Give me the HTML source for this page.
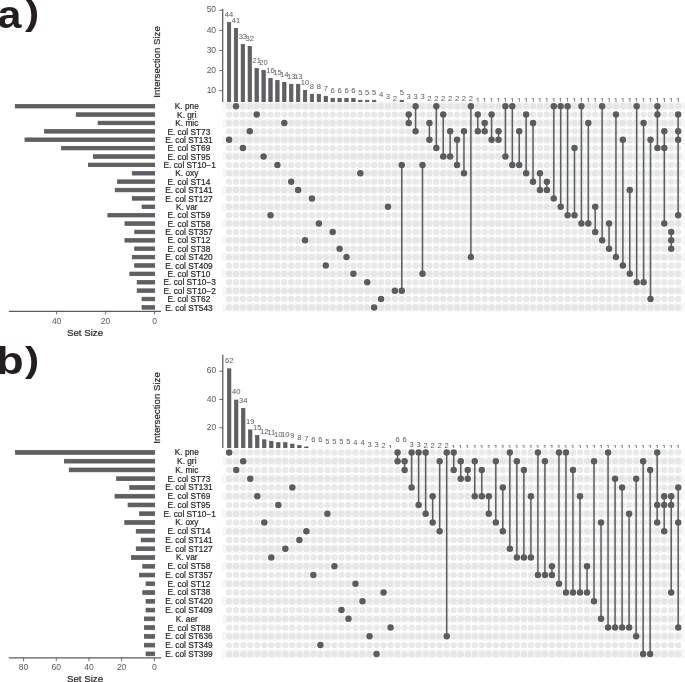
<!DOCTYPE html>
<html lang="en"><head><meta charset="utf-8"><title>UpSet plots</title>
<style>html,body{margin:0;padding:0;background:#fff}svg{display:block}text{font-family:"Liberation Sans",sans-serif}</style>
</head><body>
<svg width="685" height="682" viewBox="0 0 685 682">
<rect width="685" height="682" fill="#fff"/>
<g id="panel-a">
<g fill="#5f6062" stroke="#535457" stroke-width="0.7">
<rect x="227.35" y="22.44" width="3.4" height="87.81"/>
<rect x="234.26" y="28.43" width="3.4" height="81.82"/>
<rect x="241.17" y="44.4" width="3.4" height="65.85"/>
<rect x="248.08" y="46.39" width="3.4" height="63.86"/>
<rect x="254.99" y="68.34" width="3.4" height="41.91"/>
<rect x="261.9" y="70.34" width="3.4" height="39.91"/>
<rect x="268.8" y="78.32" width="3.4" height="31.93"/>
<rect x="275.71" y="80.32" width="3.4" height="29.93"/>
<rect x="282.62" y="82.31" width="3.4" height="27.94"/>
<rect x="289.53" y="84.31" width="3.4" height="25.94"/>
<rect x="296.44" y="84.31" width="3.4" height="25.94"/>
<rect x="303.35" y="90.29" width="3.4" height="19.96"/>
<rect x="310.26" y="94.29" width="3.4" height="15.96"/>
<rect x="317.17" y="94.29" width="3.4" height="15.96"/>
<rect x="324.08" y="96.28" width="3.4" height="13.97"/>
<rect x="330.99" y="98.28" width="3.4" height="11.97"/>
<rect x="337.89" y="98.28" width="3.4" height="11.97"/>
<rect x="344.8" y="98.28" width="3.4" height="11.97"/>
<rect x="351.71" y="98.28" width="3.4" height="11.97"/>
<rect x="358.62" y="100.27" width="3.4" height="9.98"/>
<rect x="365.53" y="100.27" width="3.4" height="9.98"/>
<rect x="372.44" y="100.27" width="3.4" height="9.98"/>
<rect x="379.35" y="102.27" width="3.4" height="7.98"/>
<rect x="386.26" y="104.26" width="3.4" height="5.99"/>
<rect x="393.17" y="106.26" width="3.4" height="3.99"/>
<rect x="400.07" y="100.27" width="3.4" height="9.98"/>
<rect x="406.98" y="104.26" width="3.4" height="5.99"/>
<rect x="413.89" y="104.26" width="3.4" height="5.99"/>
<rect x="420.8" y="104.26" width="3.4" height="5.99"/>
<rect x="427.71" y="106.26" width="3.4" height="3.99"/>
<rect x="434.62" y="106.26" width="3.4" height="3.99"/>
<rect x="441.53" y="106.26" width="3.4" height="3.99"/>
<rect x="448.44" y="106.26" width="3.4" height="3.99"/>
<rect x="455.35" y="106.26" width="3.4" height="3.99"/>
<rect x="462.26" y="106.26" width="3.4" height="3.99"/>
<rect x="469.17" y="106.26" width="3.4" height="3.99"/>
<rect x="476.07" y="108.25" width="3.4" height="2"/>
<rect x="482.98" y="108.25" width="3.4" height="2"/>
<rect x="489.89" y="108.25" width="3.4" height="2"/>
<rect x="496.8" y="108.25" width="3.4" height="2"/>
<rect x="503.71" y="108.25" width="3.4" height="2"/>
<rect x="510.62" y="108.25" width="3.4" height="2"/>
<rect x="517.53" y="108.25" width="3.4" height="2"/>
<rect x="524.44" y="108.25" width="3.4" height="2"/>
<rect x="531.35" y="108.25" width="3.4" height="2"/>
<rect x="538.25" y="108.25" width="3.4" height="2"/>
<rect x="545.16" y="108.25" width="3.4" height="2"/>
<rect x="552.07" y="108.25" width="3.4" height="2"/>
<rect x="558.98" y="108.25" width="3.4" height="2"/>
<rect x="565.89" y="108.25" width="3.4" height="2"/>
<rect x="572.8" y="108.25" width="3.4" height="2"/>
<rect x="579.71" y="108.25" width="3.4" height="2"/>
<rect x="586.62" y="108.25" width="3.4" height="2"/>
<rect x="593.53" y="108.25" width="3.4" height="2"/>
<rect x="600.44" y="108.25" width="3.4" height="2"/>
<rect x="607.35" y="108.25" width="3.4" height="2"/>
<rect x="614.25" y="108.25" width="3.4" height="2"/>
<rect x="621.16" y="108.25" width="3.4" height="2"/>
<rect x="628.07" y="108.25" width="3.4" height="2"/>
<rect x="634.98" y="108.25" width="3.4" height="2"/>
<rect x="641.89" y="108.25" width="3.4" height="2"/>
<rect x="648.8" y="108.25" width="3.4" height="2"/>
<rect x="655.71" y="108.25" width="3.4" height="2"/>
<rect x="662.62" y="108.25" width="3.4" height="2"/>
<rect x="669.53" y="108.25" width="3.4" height="2"/>
<rect x="676.44" y="108.25" width="3.4" height="2"/>
</g>
<g font-size="7.6" fill="#58595b" text-anchor="middle">
<text x="229.05" y="17.21">44</text>
<text x="235.96" y="23.22">41</text>
<text x="242.87" y="39.26">33</text>
<text x="249.78" y="41.26">32</text>
<text x="256.69" y="63.31">21</text>
<text x="263.6" y="65.31">20</text>
<text x="270.5" y="73.33">16</text>
<text x="277.41" y="75.34">15</text>
<text x="284.32" y="77.34">14</text>
<text x="291.23" y="79.34">13</text>
<text x="298.14" y="79.34">13</text>
<text x="305.05" y="85.36">10</text>
<text x="311.96" y="89.37">8</text>
<text x="318.87" y="89.37">8</text>
<text x="325.78" y="91.37">7</text>
<text x="332.69" y="93.37">6</text>
<text x="339.59" y="93.37">6</text>
<text x="346.5" y="93.37">6</text>
<text x="353.41" y="93.37">6</text>
<text x="360.32" y="95.38">5</text>
<text x="367.23" y="95.38">5</text>
<text x="374.14" y="95.38">5</text>
<text x="381.05" y="97.38">4</text>
<text x="387.96" y="99.39">3</text>
<text x="394.87" y="101.39">2</text>
<text x="401.77" y="95.38">5</text>
<text x="408.68" y="99.39">3</text>
<text x="415.59" y="99.39">3</text>
<text x="422.5" y="99.39">3</text>
<text x="429.41" y="101.39">2</text>
<text x="436.32" y="101.39">2</text>
<text x="443.23" y="101.39">2</text>
<text x="450.14" y="101.39">2</text>
<text x="457.05" y="101.39">2</text>
<text x="463.96" y="101.39">2</text>
<text x="470.87" y="101.39">2</text>
<text x="477.77" y="102.95">1</text>
<text x="484.68" y="102.95">1</text>
<text x="491.59" y="102.95">1</text>
<text x="498.5" y="102.95">1</text>
<text x="505.41" y="102.95">1</text>
<text x="512.32" y="102.95">1</text>
<text x="519.23" y="102.95">1</text>
<text x="526.14" y="102.95">1</text>
<text x="533.05" y="102.95">1</text>
<text x="539.95" y="102.95">1</text>
<text x="546.86" y="102.95">1</text>
<text x="553.77" y="102.95">1</text>
<text x="560.68" y="102.95">1</text>
<text x="567.59" y="102.95">1</text>
<text x="574.5" y="102.95">1</text>
<text x="581.41" y="102.95">1</text>
<text x="588.32" y="102.95">1</text>
<text x="595.23" y="102.95">1</text>
<text x="602.14" y="102.95">1</text>
<text x="609.05" y="102.95">1</text>
<text x="615.95" y="102.95">1</text>
<text x="622.86" y="102.95">1</text>
<text x="629.77" y="102.95">1</text>
<text x="636.68" y="102.95">1</text>
<text x="643.59" y="102.95">1</text>
<text x="650.5" y="102.95">1</text>
<text x="657.41" y="102.95">1</text>
<text x="664.32" y="102.95">1</text>
<text x="671.23" y="102.95">1</text>
<text x="678.13" y="102.95">1</text>
</g>
<line x1="222.7" y1="8.8" x2="222.7" y2="102.01" stroke="#5b5c5e" stroke-width="1.25"/>
<g stroke="#5b5c5e" stroke-width="0.9">
<line x1="219.2" y1="90.7" x2="222.7" y2="90.7"/>
<line x1="219.2" y1="70.6" x2="222.7" y2="70.6"/>
<line x1="219.2" y1="50.5" x2="222.7" y2="50.5"/>
<line x1="219.2" y1="30.4" x2="222.7" y2="30.4"/>
<line x1="219.2" y1="10.3" x2="222.7" y2="10.3"/>
</g>
<g font-size="8.5" fill="#58595b" text-anchor="end">
<text x="216.1" y="92.8">10</text>
<text x="216.1" y="72.7">20</text>
<text x="216.1" y="52.6">30</text>
<text x="216.1" y="32.5">40</text>
<text x="216.1" y="12.4">50</text>
</g>
<rect x="222" y="102.01" width="463" height="209.58" fill="#fff"/>
<g fill="#f7f7f7">
<rect x="222" y="102.01" width="463" height="8.38"/>
<rect x="222" y="118.77" width="463" height="8.38"/>
<rect x="222" y="135.54" width="463" height="8.38"/>
<rect x="222" y="152.31" width="463" height="8.38"/>
<rect x="222" y="169.07" width="463" height="8.38"/>
<rect x="222" y="185.84" width="463" height="8.38"/>
<rect x="222" y="202.6" width="463" height="8.38"/>
<rect x="222" y="219.37" width="463" height="8.38"/>
<rect x="222" y="236.14" width="463" height="8.38"/>
<rect x="222" y="252.9" width="463" height="8.38"/>
<rect x="222" y="269.67" width="463" height="8.38"/>
<rect x="222" y="286.43" width="463" height="8.38"/>
<rect x="222" y="303.2" width="463" height="8.38"/>
</g>
<g fill="#e6e6e7">
<circle cx="229.05" cy="106.2" r="3.2"/>
<circle cx="242.87" cy="106.2" r="3.2"/>
<circle cx="249.78" cy="106.2" r="3.2"/>
<circle cx="256.69" cy="106.2" r="3.2"/>
<circle cx="263.6" cy="106.2" r="3.2"/>
<circle cx="270.5" cy="106.2" r="3.2"/>
<circle cx="277.41" cy="106.2" r="3.2"/>
<circle cx="284.32" cy="106.2" r="3.2"/>
<circle cx="291.23" cy="106.2" r="3.2"/>
<circle cx="298.14" cy="106.2" r="3.2"/>
<circle cx="305.05" cy="106.2" r="3.2"/>
<circle cx="311.96" cy="106.2" r="3.2"/>
<circle cx="318.87" cy="106.2" r="3.2"/>
<circle cx="325.78" cy="106.2" r="3.2"/>
<circle cx="332.69" cy="106.2" r="3.2"/>
<circle cx="339.59" cy="106.2" r="3.2"/>
<circle cx="346.5" cy="106.2" r="3.2"/>
<circle cx="353.41" cy="106.2" r="3.2"/>
<circle cx="360.32" cy="106.2" r="3.2"/>
<circle cx="367.23" cy="106.2" r="3.2"/>
<circle cx="374.14" cy="106.2" r="3.2"/>
<circle cx="381.05" cy="106.2" r="3.2"/>
<circle cx="387.96" cy="106.2" r="3.2"/>
<circle cx="394.87" cy="106.2" r="3.2"/>
<circle cx="401.77" cy="106.2" r="3.2"/>
<circle cx="408.68" cy="106.2" r="3.2"/>
<circle cx="422.5" cy="106.2" r="3.2"/>
<circle cx="429.41" cy="106.2" r="3.2"/>
<circle cx="443.23" cy="106.2" r="3.2"/>
<circle cx="450.14" cy="106.2" r="3.2"/>
<circle cx="457.05" cy="106.2" r="3.2"/>
<circle cx="463.96" cy="106.2" r="3.2"/>
<circle cx="477.77" cy="106.2" r="3.2"/>
<circle cx="484.68" cy="106.2" r="3.2"/>
<circle cx="491.59" cy="106.2" r="3.2"/>
<circle cx="498.5" cy="106.2" r="3.2"/>
<circle cx="519.23" cy="106.2" r="3.2"/>
<circle cx="526.14" cy="106.2" r="3.2"/>
<circle cx="533.05" cy="106.2" r="3.2"/>
<circle cx="539.95" cy="106.2" r="3.2"/>
<circle cx="546.86" cy="106.2" r="3.2"/>
<circle cx="574.5" cy="106.2" r="3.2"/>
<circle cx="588.32" cy="106.2" r="3.2"/>
<circle cx="595.23" cy="106.2" r="3.2"/>
<circle cx="609.05" cy="106.2" r="3.2"/>
<circle cx="615.95" cy="106.2" r="3.2"/>
<circle cx="622.86" cy="106.2" r="3.2"/>
<circle cx="629.77" cy="106.2" r="3.2"/>
<circle cx="643.59" cy="106.2" r="3.2"/>
<circle cx="650.5" cy="106.2" r="3.2"/>
<circle cx="664.32" cy="106.2" r="3.2"/>
<circle cx="671.23" cy="106.2" r="3.2"/>
<circle cx="678.13" cy="106.2" r="3.2"/>
</g>
<g fill="#e8e9ea">
<circle cx="229.05" cy="114.58" r="3.2"/>
<circle cx="235.96" cy="114.58" r="3.2"/>
<circle cx="242.87" cy="114.58" r="3.2"/>
<circle cx="249.78" cy="114.58" r="3.2"/>
<circle cx="263.6" cy="114.58" r="3.2"/>
<circle cx="270.5" cy="114.58" r="3.2"/>
<circle cx="277.41" cy="114.58" r="3.2"/>
<circle cx="284.32" cy="114.58" r="3.2"/>
<circle cx="291.23" cy="114.58" r="3.2"/>
<circle cx="298.14" cy="114.58" r="3.2"/>
<circle cx="305.05" cy="114.58" r="3.2"/>
<circle cx="311.96" cy="114.58" r="3.2"/>
<circle cx="318.87" cy="114.58" r="3.2"/>
<circle cx="325.78" cy="114.58" r="3.2"/>
<circle cx="332.69" cy="114.58" r="3.2"/>
<circle cx="339.59" cy="114.58" r="3.2"/>
<circle cx="346.5" cy="114.58" r="3.2"/>
<circle cx="353.41" cy="114.58" r="3.2"/>
<circle cx="360.32" cy="114.58" r="3.2"/>
<circle cx="367.23" cy="114.58" r="3.2"/>
<circle cx="374.14" cy="114.58" r="3.2"/>
<circle cx="381.05" cy="114.58" r="3.2"/>
<circle cx="387.96" cy="114.58" r="3.2"/>
<circle cx="394.87" cy="114.58" r="3.2"/>
<circle cx="401.77" cy="114.58" r="3.2"/>
<circle cx="415.59" cy="114.58" r="3.2"/>
<circle cx="422.5" cy="114.58" r="3.2"/>
<circle cx="429.41" cy="114.58" r="3.2"/>
<circle cx="436.32" cy="114.58" r="3.2"/>
<circle cx="450.14" cy="114.58" r="3.2"/>
<circle cx="457.05" cy="114.58" r="3.2"/>
<circle cx="463.96" cy="114.58" r="3.2"/>
<circle cx="470.87" cy="114.58" r="3.2"/>
<circle cx="484.68" cy="114.58" r="3.2"/>
<circle cx="498.5" cy="114.58" r="3.2"/>
<circle cx="505.41" cy="114.58" r="3.2"/>
<circle cx="512.32" cy="114.58" r="3.2"/>
<circle cx="519.23" cy="114.58" r="3.2"/>
<circle cx="533.05" cy="114.58" r="3.2"/>
<circle cx="539.95" cy="114.58" r="3.2"/>
<circle cx="546.86" cy="114.58" r="3.2"/>
<circle cx="553.77" cy="114.58" r="3.2"/>
<circle cx="560.68" cy="114.58" r="3.2"/>
<circle cx="567.59" cy="114.58" r="3.2"/>
<circle cx="574.5" cy="114.58" r="3.2"/>
<circle cx="581.41" cy="114.58" r="3.2"/>
<circle cx="588.32" cy="114.58" r="3.2"/>
<circle cx="595.23" cy="114.58" r="3.2"/>
<circle cx="602.14" cy="114.58" r="3.2"/>
<circle cx="609.05" cy="114.58" r="3.2"/>
<circle cx="622.86" cy="114.58" r="3.2"/>
<circle cx="629.77" cy="114.58" r="3.2"/>
<circle cx="636.68" cy="114.58" r="3.2"/>
<circle cx="643.59" cy="114.58" r="3.2"/>
<circle cx="650.5" cy="114.58" r="3.2"/>
<circle cx="664.32" cy="114.58" r="3.2"/>
<circle cx="671.23" cy="114.58" r="3.2"/>
</g>
<g fill="#e6e6e7">
<circle cx="229.05" cy="122.97" r="3.2"/>
<circle cx="235.96" cy="122.97" r="3.2"/>
<circle cx="242.87" cy="122.97" r="3.2"/>
<circle cx="249.78" cy="122.97" r="3.2"/>
<circle cx="256.69" cy="122.97" r="3.2"/>
<circle cx="263.6" cy="122.97" r="3.2"/>
<circle cx="270.5" cy="122.97" r="3.2"/>
<circle cx="277.41" cy="122.97" r="3.2"/>
<circle cx="291.23" cy="122.97" r="3.2"/>
<circle cx="298.14" cy="122.97" r="3.2"/>
<circle cx="305.05" cy="122.97" r="3.2"/>
<circle cx="311.96" cy="122.97" r="3.2"/>
<circle cx="318.87" cy="122.97" r="3.2"/>
<circle cx="325.78" cy="122.97" r="3.2"/>
<circle cx="332.69" cy="122.97" r="3.2"/>
<circle cx="339.59" cy="122.97" r="3.2"/>
<circle cx="346.5" cy="122.97" r="3.2"/>
<circle cx="353.41" cy="122.97" r="3.2"/>
<circle cx="360.32" cy="122.97" r="3.2"/>
<circle cx="367.23" cy="122.97" r="3.2"/>
<circle cx="374.14" cy="122.97" r="3.2"/>
<circle cx="381.05" cy="122.97" r="3.2"/>
<circle cx="387.96" cy="122.97" r="3.2"/>
<circle cx="394.87" cy="122.97" r="3.2"/>
<circle cx="401.77" cy="122.97" r="3.2"/>
<circle cx="415.59" cy="122.97" r="3.2"/>
<circle cx="422.5" cy="122.97" r="3.2"/>
<circle cx="436.32" cy="122.97" r="3.2"/>
<circle cx="443.23" cy="122.97" r="3.2"/>
<circle cx="450.14" cy="122.97" r="3.2"/>
<circle cx="457.05" cy="122.97" r="3.2"/>
<circle cx="463.96" cy="122.97" r="3.2"/>
<circle cx="470.87" cy="122.97" r="3.2"/>
<circle cx="477.77" cy="122.97" r="3.2"/>
<circle cx="491.59" cy="122.97" r="3.2"/>
<circle cx="498.5" cy="122.97" r="3.2"/>
<circle cx="505.41" cy="122.97" r="3.2"/>
<circle cx="512.32" cy="122.97" r="3.2"/>
<circle cx="519.23" cy="122.97" r="3.2"/>
<circle cx="526.14" cy="122.97" r="3.2"/>
<circle cx="539.95" cy="122.97" r="3.2"/>
<circle cx="546.86" cy="122.97" r="3.2"/>
<circle cx="553.77" cy="122.97" r="3.2"/>
<circle cx="560.68" cy="122.97" r="3.2"/>
<circle cx="567.59" cy="122.97" r="3.2"/>
<circle cx="574.5" cy="122.97" r="3.2"/>
<circle cx="581.41" cy="122.97" r="3.2"/>
<circle cx="595.23" cy="122.97" r="3.2"/>
<circle cx="602.14" cy="122.97" r="3.2"/>
<circle cx="609.05" cy="122.97" r="3.2"/>
<circle cx="615.95" cy="122.97" r="3.2"/>
<circle cx="622.86" cy="122.97" r="3.2"/>
<circle cx="629.77" cy="122.97" r="3.2"/>
<circle cx="636.68" cy="122.97" r="3.2"/>
<circle cx="650.5" cy="122.97" r="3.2"/>
<circle cx="657.41" cy="122.97" r="3.2"/>
<circle cx="664.32" cy="122.97" r="3.2"/>
<circle cx="671.23" cy="122.97" r="3.2"/>
<circle cx="678.13" cy="122.97" r="3.2"/>
</g>
<g fill="#e8e9ea">
<circle cx="229.05" cy="131.35" r="3.2"/>
<circle cx="235.96" cy="131.35" r="3.2"/>
<circle cx="242.87" cy="131.35" r="3.2"/>
<circle cx="256.69" cy="131.35" r="3.2"/>
<circle cx="263.6" cy="131.35" r="3.2"/>
<circle cx="270.5" cy="131.35" r="3.2"/>
<circle cx="277.41" cy="131.35" r="3.2"/>
<circle cx="284.32" cy="131.35" r="3.2"/>
<circle cx="291.23" cy="131.35" r="3.2"/>
<circle cx="298.14" cy="131.35" r="3.2"/>
<circle cx="305.05" cy="131.35" r="3.2"/>
<circle cx="311.96" cy="131.35" r="3.2"/>
<circle cx="318.87" cy="131.35" r="3.2"/>
<circle cx="325.78" cy="131.35" r="3.2"/>
<circle cx="332.69" cy="131.35" r="3.2"/>
<circle cx="339.59" cy="131.35" r="3.2"/>
<circle cx="346.5" cy="131.35" r="3.2"/>
<circle cx="353.41" cy="131.35" r="3.2"/>
<circle cx="360.32" cy="131.35" r="3.2"/>
<circle cx="367.23" cy="131.35" r="3.2"/>
<circle cx="374.14" cy="131.35" r="3.2"/>
<circle cx="381.05" cy="131.35" r="3.2"/>
<circle cx="387.96" cy="131.35" r="3.2"/>
<circle cx="394.87" cy="131.35" r="3.2"/>
<circle cx="401.77" cy="131.35" r="3.2"/>
<circle cx="408.68" cy="131.35" r="3.2"/>
<circle cx="422.5" cy="131.35" r="3.2"/>
<circle cx="429.41" cy="131.35" r="3.2"/>
<circle cx="436.32" cy="131.35" r="3.2"/>
<circle cx="443.23" cy="131.35" r="3.2"/>
<circle cx="457.05" cy="131.35" r="3.2"/>
<circle cx="470.87" cy="131.35" r="3.2"/>
<circle cx="491.59" cy="131.35" r="3.2"/>
<circle cx="505.41" cy="131.35" r="3.2"/>
<circle cx="512.32" cy="131.35" r="3.2"/>
<circle cx="526.14" cy="131.35" r="3.2"/>
<circle cx="533.05" cy="131.35" r="3.2"/>
<circle cx="539.95" cy="131.35" r="3.2"/>
<circle cx="546.86" cy="131.35" r="3.2"/>
<circle cx="553.77" cy="131.35" r="3.2"/>
<circle cx="560.68" cy="131.35" r="3.2"/>
<circle cx="567.59" cy="131.35" r="3.2"/>
<circle cx="574.5" cy="131.35" r="3.2"/>
<circle cx="581.41" cy="131.35" r="3.2"/>
<circle cx="588.32" cy="131.35" r="3.2"/>
<circle cx="595.23" cy="131.35" r="3.2"/>
<circle cx="602.14" cy="131.35" r="3.2"/>
<circle cx="609.05" cy="131.35" r="3.2"/>
<circle cx="615.95" cy="131.35" r="3.2"/>
<circle cx="622.86" cy="131.35" r="3.2"/>
<circle cx="629.77" cy="131.35" r="3.2"/>
<circle cx="636.68" cy="131.35" r="3.2"/>
<circle cx="643.59" cy="131.35" r="3.2"/>
<circle cx="650.5" cy="131.35" r="3.2"/>
<circle cx="657.41" cy="131.35" r="3.2"/>
<circle cx="671.23" cy="131.35" r="3.2"/>
</g>
<g fill="#e6e6e7">
<circle cx="235.96" cy="139.73" r="3.2"/>
<circle cx="242.87" cy="139.73" r="3.2"/>
<circle cx="249.78" cy="139.73" r="3.2"/>
<circle cx="256.69" cy="139.73" r="3.2"/>
<circle cx="263.6" cy="139.73" r="3.2"/>
<circle cx="270.5" cy="139.73" r="3.2"/>
<circle cx="277.41" cy="139.73" r="3.2"/>
<circle cx="284.32" cy="139.73" r="3.2"/>
<circle cx="291.23" cy="139.73" r="3.2"/>
<circle cx="298.14" cy="139.73" r="3.2"/>
<circle cx="305.05" cy="139.73" r="3.2"/>
<circle cx="311.96" cy="139.73" r="3.2"/>
<circle cx="318.87" cy="139.73" r="3.2"/>
<circle cx="325.78" cy="139.73" r="3.2"/>
<circle cx="332.69" cy="139.73" r="3.2"/>
<circle cx="339.59" cy="139.73" r="3.2"/>
<circle cx="346.5" cy="139.73" r="3.2"/>
<circle cx="353.41" cy="139.73" r="3.2"/>
<circle cx="360.32" cy="139.73" r="3.2"/>
<circle cx="367.23" cy="139.73" r="3.2"/>
<circle cx="374.14" cy="139.73" r="3.2"/>
<circle cx="381.05" cy="139.73" r="3.2"/>
<circle cx="387.96" cy="139.73" r="3.2"/>
<circle cx="394.87" cy="139.73" r="3.2"/>
<circle cx="401.77" cy="139.73" r="3.2"/>
<circle cx="408.68" cy="139.73" r="3.2"/>
<circle cx="415.59" cy="139.73" r="3.2"/>
<circle cx="422.5" cy="139.73" r="3.2"/>
<circle cx="436.32" cy="139.73" r="3.2"/>
<circle cx="443.23" cy="139.73" r="3.2"/>
<circle cx="450.14" cy="139.73" r="3.2"/>
<circle cx="463.96" cy="139.73" r="3.2"/>
<circle cx="470.87" cy="139.73" r="3.2"/>
<circle cx="477.77" cy="139.73" r="3.2"/>
<circle cx="484.68" cy="139.73" r="3.2"/>
<circle cx="505.41" cy="139.73" r="3.2"/>
<circle cx="512.32" cy="139.73" r="3.2"/>
<circle cx="519.23" cy="139.73" r="3.2"/>
<circle cx="526.14" cy="139.73" r="3.2"/>
<circle cx="533.05" cy="139.73" r="3.2"/>
<circle cx="539.95" cy="139.73" r="3.2"/>
<circle cx="546.86" cy="139.73" r="3.2"/>
<circle cx="553.77" cy="139.73" r="3.2"/>
<circle cx="560.68" cy="139.73" r="3.2"/>
<circle cx="567.59" cy="139.73" r="3.2"/>
<circle cx="574.5" cy="139.73" r="3.2"/>
<circle cx="581.41" cy="139.73" r="3.2"/>
<circle cx="588.32" cy="139.73" r="3.2"/>
<circle cx="595.23" cy="139.73" r="3.2"/>
<circle cx="602.14" cy="139.73" r="3.2"/>
<circle cx="609.05" cy="139.73" r="3.2"/>
<circle cx="615.95" cy="139.73" r="3.2"/>
<circle cx="629.77" cy="139.73" r="3.2"/>
<circle cx="636.68" cy="139.73" r="3.2"/>
<circle cx="643.59" cy="139.73" r="3.2"/>
<circle cx="657.41" cy="139.73" r="3.2"/>
<circle cx="664.32" cy="139.73" r="3.2"/>
<circle cx="671.23" cy="139.73" r="3.2"/>
</g>
<g fill="#e8e9ea">
<circle cx="229.05" cy="148.12" r="3.2"/>
<circle cx="235.96" cy="148.12" r="3.2"/>
<circle cx="249.78" cy="148.12" r="3.2"/>
<circle cx="256.69" cy="148.12" r="3.2"/>
<circle cx="263.6" cy="148.12" r="3.2"/>
<circle cx="270.5" cy="148.12" r="3.2"/>
<circle cx="277.41" cy="148.12" r="3.2"/>
<circle cx="284.32" cy="148.12" r="3.2"/>
<circle cx="291.23" cy="148.12" r="3.2"/>
<circle cx="298.14" cy="148.12" r="3.2"/>
<circle cx="305.05" cy="148.12" r="3.2"/>
<circle cx="311.96" cy="148.12" r="3.2"/>
<circle cx="318.87" cy="148.12" r="3.2"/>
<circle cx="325.78" cy="148.12" r="3.2"/>
<circle cx="332.69" cy="148.12" r="3.2"/>
<circle cx="339.59" cy="148.12" r="3.2"/>
<circle cx="346.5" cy="148.12" r="3.2"/>
<circle cx="353.41" cy="148.12" r="3.2"/>
<circle cx="360.32" cy="148.12" r="3.2"/>
<circle cx="367.23" cy="148.12" r="3.2"/>
<circle cx="374.14" cy="148.12" r="3.2"/>
<circle cx="381.05" cy="148.12" r="3.2"/>
<circle cx="387.96" cy="148.12" r="3.2"/>
<circle cx="394.87" cy="148.12" r="3.2"/>
<circle cx="401.77" cy="148.12" r="3.2"/>
<circle cx="408.68" cy="148.12" r="3.2"/>
<circle cx="415.59" cy="148.12" r="3.2"/>
<circle cx="422.5" cy="148.12" r="3.2"/>
<circle cx="429.41" cy="148.12" r="3.2"/>
<circle cx="443.23" cy="148.12" r="3.2"/>
<circle cx="450.14" cy="148.12" r="3.2"/>
<circle cx="457.05" cy="148.12" r="3.2"/>
<circle cx="463.96" cy="148.12" r="3.2"/>
<circle cx="470.87" cy="148.12" r="3.2"/>
<circle cx="477.77" cy="148.12" r="3.2"/>
<circle cx="484.68" cy="148.12" r="3.2"/>
<circle cx="491.59" cy="148.12" r="3.2"/>
<circle cx="498.5" cy="148.12" r="3.2"/>
<circle cx="505.41" cy="148.12" r="3.2"/>
<circle cx="512.32" cy="148.12" r="3.2"/>
<circle cx="519.23" cy="148.12" r="3.2"/>
<circle cx="526.14" cy="148.12" r="3.2"/>
<circle cx="533.05" cy="148.12" r="3.2"/>
<circle cx="539.95" cy="148.12" r="3.2"/>
<circle cx="546.86" cy="148.12" r="3.2"/>
<circle cx="553.77" cy="148.12" r="3.2"/>
<circle cx="560.68" cy="148.12" r="3.2"/>
<circle cx="567.59" cy="148.12" r="3.2"/>
<circle cx="581.41" cy="148.12" r="3.2"/>
<circle cx="588.32" cy="148.12" r="3.2"/>
<circle cx="595.23" cy="148.12" r="3.2"/>
<circle cx="602.14" cy="148.12" r="3.2"/>
<circle cx="609.05" cy="148.12" r="3.2"/>
<circle cx="615.95" cy="148.12" r="3.2"/>
<circle cx="622.86" cy="148.12" r="3.2"/>
<circle cx="629.77" cy="148.12" r="3.2"/>
<circle cx="636.68" cy="148.12" r="3.2"/>
<circle cx="643.59" cy="148.12" r="3.2"/>
<circle cx="650.5" cy="148.12" r="3.2"/>
<circle cx="671.23" cy="148.12" r="3.2"/>
<circle cx="678.13" cy="148.12" r="3.2"/>
</g>
<g fill="#e6e6e7">
<circle cx="229.05" cy="156.5" r="3.2"/>
<circle cx="235.96" cy="156.5" r="3.2"/>
<circle cx="242.87" cy="156.5" r="3.2"/>
<circle cx="249.78" cy="156.5" r="3.2"/>
<circle cx="256.69" cy="156.5" r="3.2"/>
<circle cx="270.5" cy="156.5" r="3.2"/>
<circle cx="277.41" cy="156.5" r="3.2"/>
<circle cx="284.32" cy="156.5" r="3.2"/>
<circle cx="291.23" cy="156.5" r="3.2"/>
<circle cx="298.14" cy="156.5" r="3.2"/>
<circle cx="305.05" cy="156.5" r="3.2"/>
<circle cx="311.96" cy="156.5" r="3.2"/>
<circle cx="318.87" cy="156.5" r="3.2"/>
<circle cx="325.78" cy="156.5" r="3.2"/>
<circle cx="332.69" cy="156.5" r="3.2"/>
<circle cx="339.59" cy="156.5" r="3.2"/>
<circle cx="346.5" cy="156.5" r="3.2"/>
<circle cx="353.41" cy="156.5" r="3.2"/>
<circle cx="360.32" cy="156.5" r="3.2"/>
<circle cx="367.23" cy="156.5" r="3.2"/>
<circle cx="374.14" cy="156.5" r="3.2"/>
<circle cx="381.05" cy="156.5" r="3.2"/>
<circle cx="387.96" cy="156.5" r="3.2"/>
<circle cx="394.87" cy="156.5" r="3.2"/>
<circle cx="401.77" cy="156.5" r="3.2"/>
<circle cx="408.68" cy="156.5" r="3.2"/>
<circle cx="415.59" cy="156.5" r="3.2"/>
<circle cx="422.5" cy="156.5" r="3.2"/>
<circle cx="429.41" cy="156.5" r="3.2"/>
<circle cx="436.32" cy="156.5" r="3.2"/>
<circle cx="457.05" cy="156.5" r="3.2"/>
<circle cx="463.96" cy="156.5" r="3.2"/>
<circle cx="470.87" cy="156.5" r="3.2"/>
<circle cx="477.77" cy="156.5" r="3.2"/>
<circle cx="484.68" cy="156.5" r="3.2"/>
<circle cx="491.59" cy="156.5" r="3.2"/>
<circle cx="498.5" cy="156.5" r="3.2"/>
<circle cx="512.32" cy="156.5" r="3.2"/>
<circle cx="519.23" cy="156.5" r="3.2"/>
<circle cx="526.14" cy="156.5" r="3.2"/>
<circle cx="533.05" cy="156.5" r="3.2"/>
<circle cx="539.95" cy="156.5" r="3.2"/>
<circle cx="546.86" cy="156.5" r="3.2"/>
<circle cx="553.77" cy="156.5" r="3.2"/>
<circle cx="560.68" cy="156.5" r="3.2"/>
<circle cx="567.59" cy="156.5" r="3.2"/>
<circle cx="574.5" cy="156.5" r="3.2"/>
<circle cx="581.41" cy="156.5" r="3.2"/>
<circle cx="588.32" cy="156.5" r="3.2"/>
<circle cx="595.23" cy="156.5" r="3.2"/>
<circle cx="602.14" cy="156.5" r="3.2"/>
<circle cx="609.05" cy="156.5" r="3.2"/>
<circle cx="615.95" cy="156.5" r="3.2"/>
<circle cx="622.86" cy="156.5" r="3.2"/>
<circle cx="629.77" cy="156.5" r="3.2"/>
<circle cx="636.68" cy="156.5" r="3.2"/>
<circle cx="643.59" cy="156.5" r="3.2"/>
<circle cx="650.5" cy="156.5" r="3.2"/>
<circle cx="657.41" cy="156.5" r="3.2"/>
<circle cx="664.32" cy="156.5" r="3.2"/>
<circle cx="671.23" cy="156.5" r="3.2"/>
<circle cx="678.13" cy="156.5" r="3.2"/>
</g>
<g fill="#e8e9ea">
<circle cx="229.05" cy="164.88" r="3.2"/>
<circle cx="235.96" cy="164.88" r="3.2"/>
<circle cx="242.87" cy="164.88" r="3.2"/>
<circle cx="249.78" cy="164.88" r="3.2"/>
<circle cx="256.69" cy="164.88" r="3.2"/>
<circle cx="263.6" cy="164.88" r="3.2"/>
<circle cx="270.5" cy="164.88" r="3.2"/>
<circle cx="284.32" cy="164.88" r="3.2"/>
<circle cx="291.23" cy="164.88" r="3.2"/>
<circle cx="298.14" cy="164.88" r="3.2"/>
<circle cx="305.05" cy="164.88" r="3.2"/>
<circle cx="311.96" cy="164.88" r="3.2"/>
<circle cx="318.87" cy="164.88" r="3.2"/>
<circle cx="325.78" cy="164.88" r="3.2"/>
<circle cx="332.69" cy="164.88" r="3.2"/>
<circle cx="339.59" cy="164.88" r="3.2"/>
<circle cx="346.5" cy="164.88" r="3.2"/>
<circle cx="353.41" cy="164.88" r="3.2"/>
<circle cx="360.32" cy="164.88" r="3.2"/>
<circle cx="367.23" cy="164.88" r="3.2"/>
<circle cx="374.14" cy="164.88" r="3.2"/>
<circle cx="381.05" cy="164.88" r="3.2"/>
<circle cx="387.96" cy="164.88" r="3.2"/>
<circle cx="394.87" cy="164.88" r="3.2"/>
<circle cx="408.68" cy="164.88" r="3.2"/>
<circle cx="415.59" cy="164.88" r="3.2"/>
<circle cx="429.41" cy="164.88" r="3.2"/>
<circle cx="436.32" cy="164.88" r="3.2"/>
<circle cx="443.23" cy="164.88" r="3.2"/>
<circle cx="450.14" cy="164.88" r="3.2"/>
<circle cx="463.96" cy="164.88" r="3.2"/>
<circle cx="470.87" cy="164.88" r="3.2"/>
<circle cx="477.77" cy="164.88" r="3.2"/>
<circle cx="484.68" cy="164.88" r="3.2"/>
<circle cx="491.59" cy="164.88" r="3.2"/>
<circle cx="498.5" cy="164.88" r="3.2"/>
<circle cx="505.41" cy="164.88" r="3.2"/>
<circle cx="526.14" cy="164.88" r="3.2"/>
<circle cx="533.05" cy="164.88" r="3.2"/>
<circle cx="539.95" cy="164.88" r="3.2"/>
<circle cx="546.86" cy="164.88" r="3.2"/>
<circle cx="553.77" cy="164.88" r="3.2"/>
<circle cx="560.68" cy="164.88" r="3.2"/>
<circle cx="567.59" cy="164.88" r="3.2"/>
<circle cx="574.5" cy="164.88" r="3.2"/>
<circle cx="581.41" cy="164.88" r="3.2"/>
<circle cx="588.32" cy="164.88" r="3.2"/>
<circle cx="595.23" cy="164.88" r="3.2"/>
<circle cx="602.14" cy="164.88" r="3.2"/>
<circle cx="609.05" cy="164.88" r="3.2"/>
<circle cx="615.95" cy="164.88" r="3.2"/>
<circle cx="622.86" cy="164.88" r="3.2"/>
<circle cx="629.77" cy="164.88" r="3.2"/>
<circle cx="636.68" cy="164.88" r="3.2"/>
<circle cx="643.59" cy="164.88" r="3.2"/>
<circle cx="650.5" cy="164.88" r="3.2"/>
<circle cx="657.41" cy="164.88" r="3.2"/>
<circle cx="664.32" cy="164.88" r="3.2"/>
<circle cx="671.23" cy="164.88" r="3.2"/>
<circle cx="678.13" cy="164.88" r="3.2"/>
</g>
<g fill="#e6e6e7">
<circle cx="229.05" cy="173.26" r="3.2"/>
<circle cx="235.96" cy="173.26" r="3.2"/>
<circle cx="242.87" cy="173.26" r="3.2"/>
<circle cx="249.78" cy="173.26" r="3.2"/>
<circle cx="256.69" cy="173.26" r="3.2"/>
<circle cx="263.6" cy="173.26" r="3.2"/>
<circle cx="270.5" cy="173.26" r="3.2"/>
<circle cx="277.41" cy="173.26" r="3.2"/>
<circle cx="284.32" cy="173.26" r="3.2"/>
<circle cx="291.23" cy="173.26" r="3.2"/>
<circle cx="298.14" cy="173.26" r="3.2"/>
<circle cx="305.05" cy="173.26" r="3.2"/>
<circle cx="311.96" cy="173.26" r="3.2"/>
<circle cx="318.87" cy="173.26" r="3.2"/>
<circle cx="325.78" cy="173.26" r="3.2"/>
<circle cx="332.69" cy="173.26" r="3.2"/>
<circle cx="339.59" cy="173.26" r="3.2"/>
<circle cx="346.5" cy="173.26" r="3.2"/>
<circle cx="353.41" cy="173.26" r="3.2"/>
<circle cx="367.23" cy="173.26" r="3.2"/>
<circle cx="374.14" cy="173.26" r="3.2"/>
<circle cx="381.05" cy="173.26" r="3.2"/>
<circle cx="387.96" cy="173.26" r="3.2"/>
<circle cx="394.87" cy="173.26" r="3.2"/>
<circle cx="401.77" cy="173.26" r="3.2"/>
<circle cx="408.68" cy="173.26" r="3.2"/>
<circle cx="415.59" cy="173.26" r="3.2"/>
<circle cx="422.5" cy="173.26" r="3.2"/>
<circle cx="429.41" cy="173.26" r="3.2"/>
<circle cx="436.32" cy="173.26" r="3.2"/>
<circle cx="443.23" cy="173.26" r="3.2"/>
<circle cx="450.14" cy="173.26" r="3.2"/>
<circle cx="457.05" cy="173.26" r="3.2"/>
<circle cx="470.87" cy="173.26" r="3.2"/>
<circle cx="477.77" cy="173.26" r="3.2"/>
<circle cx="484.68" cy="173.26" r="3.2"/>
<circle cx="491.59" cy="173.26" r="3.2"/>
<circle cx="498.5" cy="173.26" r="3.2"/>
<circle cx="505.41" cy="173.26" r="3.2"/>
<circle cx="512.32" cy="173.26" r="3.2"/>
<circle cx="519.23" cy="173.26" r="3.2"/>
<circle cx="533.05" cy="173.26" r="3.2"/>
<circle cx="546.86" cy="173.26" r="3.2"/>
<circle cx="553.77" cy="173.26" r="3.2"/>
<circle cx="560.68" cy="173.26" r="3.2"/>
<circle cx="567.59" cy="173.26" r="3.2"/>
<circle cx="574.5" cy="173.26" r="3.2"/>
<circle cx="581.41" cy="173.26" r="3.2"/>
<circle cx="588.32" cy="173.26" r="3.2"/>
<circle cx="595.23" cy="173.26" r="3.2"/>
<circle cx="602.14" cy="173.26" r="3.2"/>
<circle cx="609.05" cy="173.26" r="3.2"/>
<circle cx="615.95" cy="173.26" r="3.2"/>
<circle cx="622.86" cy="173.26" r="3.2"/>
<circle cx="629.77" cy="173.26" r="3.2"/>
<circle cx="636.68" cy="173.26" r="3.2"/>
<circle cx="643.59" cy="173.26" r="3.2"/>
<circle cx="650.5" cy="173.26" r="3.2"/>
<circle cx="657.41" cy="173.26" r="3.2"/>
<circle cx="664.32" cy="173.26" r="3.2"/>
<circle cx="671.23" cy="173.26" r="3.2"/>
<circle cx="678.13" cy="173.26" r="3.2"/>
</g>
<g fill="#e8e9ea">
<circle cx="229.05" cy="181.65" r="3.2"/>
<circle cx="235.96" cy="181.65" r="3.2"/>
<circle cx="242.87" cy="181.65" r="3.2"/>
<circle cx="249.78" cy="181.65" r="3.2"/>
<circle cx="256.69" cy="181.65" r="3.2"/>
<circle cx="263.6" cy="181.65" r="3.2"/>
<circle cx="270.5" cy="181.65" r="3.2"/>
<circle cx="277.41" cy="181.65" r="3.2"/>
<circle cx="284.32" cy="181.65" r="3.2"/>
<circle cx="298.14" cy="181.65" r="3.2"/>
<circle cx="305.05" cy="181.65" r="3.2"/>
<circle cx="311.96" cy="181.65" r="3.2"/>
<circle cx="318.87" cy="181.65" r="3.2"/>
<circle cx="325.78" cy="181.65" r="3.2"/>
<circle cx="332.69" cy="181.65" r="3.2"/>
<circle cx="339.59" cy="181.65" r="3.2"/>
<circle cx="346.5" cy="181.65" r="3.2"/>
<circle cx="353.41" cy="181.65" r="3.2"/>
<circle cx="360.32" cy="181.65" r="3.2"/>
<circle cx="367.23" cy="181.65" r="3.2"/>
<circle cx="374.14" cy="181.65" r="3.2"/>
<circle cx="381.05" cy="181.65" r="3.2"/>
<circle cx="387.96" cy="181.65" r="3.2"/>
<circle cx="394.87" cy="181.65" r="3.2"/>
<circle cx="401.77" cy="181.65" r="3.2"/>
<circle cx="408.68" cy="181.65" r="3.2"/>
<circle cx="415.59" cy="181.65" r="3.2"/>
<circle cx="422.5" cy="181.65" r="3.2"/>
<circle cx="429.41" cy="181.65" r="3.2"/>
<circle cx="436.32" cy="181.65" r="3.2"/>
<circle cx="443.23" cy="181.65" r="3.2"/>
<circle cx="450.14" cy="181.65" r="3.2"/>
<circle cx="457.05" cy="181.65" r="3.2"/>
<circle cx="463.96" cy="181.65" r="3.2"/>
<circle cx="470.87" cy="181.65" r="3.2"/>
<circle cx="477.77" cy="181.65" r="3.2"/>
<circle cx="484.68" cy="181.65" r="3.2"/>
<circle cx="491.59" cy="181.65" r="3.2"/>
<circle cx="498.5" cy="181.65" r="3.2"/>
<circle cx="505.41" cy="181.65" r="3.2"/>
<circle cx="512.32" cy="181.65" r="3.2"/>
<circle cx="519.23" cy="181.65" r="3.2"/>
<circle cx="526.14" cy="181.65" r="3.2"/>
<circle cx="539.95" cy="181.65" r="3.2"/>
<circle cx="553.77" cy="181.65" r="3.2"/>
<circle cx="560.68" cy="181.65" r="3.2"/>
<circle cx="567.59" cy="181.65" r="3.2"/>
<circle cx="574.5" cy="181.65" r="3.2"/>
<circle cx="581.41" cy="181.65" r="3.2"/>
<circle cx="588.32" cy="181.65" r="3.2"/>
<circle cx="595.23" cy="181.65" r="3.2"/>
<circle cx="602.14" cy="181.65" r="3.2"/>
<circle cx="609.05" cy="181.65" r="3.2"/>
<circle cx="615.95" cy="181.65" r="3.2"/>
<circle cx="622.86" cy="181.65" r="3.2"/>
<circle cx="629.77" cy="181.65" r="3.2"/>
<circle cx="636.68" cy="181.65" r="3.2"/>
<circle cx="643.59" cy="181.65" r="3.2"/>
<circle cx="650.5" cy="181.65" r="3.2"/>
<circle cx="657.41" cy="181.65" r="3.2"/>
<circle cx="664.32" cy="181.65" r="3.2"/>
<circle cx="671.23" cy="181.65" r="3.2"/>
<circle cx="678.13" cy="181.65" r="3.2"/>
</g>
<g fill="#e6e6e7">
<circle cx="229.05" cy="190.03" r="3.2"/>
<circle cx="235.96" cy="190.03" r="3.2"/>
<circle cx="242.87" cy="190.03" r="3.2"/>
<circle cx="249.78" cy="190.03" r="3.2"/>
<circle cx="256.69" cy="190.03" r="3.2"/>
<circle cx="263.6" cy="190.03" r="3.2"/>
<circle cx="270.5" cy="190.03" r="3.2"/>
<circle cx="277.41" cy="190.03" r="3.2"/>
<circle cx="284.32" cy="190.03" r="3.2"/>
<circle cx="291.23" cy="190.03" r="3.2"/>
<circle cx="305.05" cy="190.03" r="3.2"/>
<circle cx="311.96" cy="190.03" r="3.2"/>
<circle cx="318.87" cy="190.03" r="3.2"/>
<circle cx="325.78" cy="190.03" r="3.2"/>
<circle cx="332.69" cy="190.03" r="3.2"/>
<circle cx="339.59" cy="190.03" r="3.2"/>
<circle cx="346.5" cy="190.03" r="3.2"/>
<circle cx="353.41" cy="190.03" r="3.2"/>
<circle cx="360.32" cy="190.03" r="3.2"/>
<circle cx="367.23" cy="190.03" r="3.2"/>
<circle cx="374.14" cy="190.03" r="3.2"/>
<circle cx="381.05" cy="190.03" r="3.2"/>
<circle cx="387.96" cy="190.03" r="3.2"/>
<circle cx="394.87" cy="190.03" r="3.2"/>
<circle cx="401.77" cy="190.03" r="3.2"/>
<circle cx="408.68" cy="190.03" r="3.2"/>
<circle cx="415.59" cy="190.03" r="3.2"/>
<circle cx="422.5" cy="190.03" r="3.2"/>
<circle cx="429.41" cy="190.03" r="3.2"/>
<circle cx="436.32" cy="190.03" r="3.2"/>
<circle cx="443.23" cy="190.03" r="3.2"/>
<circle cx="450.14" cy="190.03" r="3.2"/>
<circle cx="457.05" cy="190.03" r="3.2"/>
<circle cx="463.96" cy="190.03" r="3.2"/>
<circle cx="470.87" cy="190.03" r="3.2"/>
<circle cx="477.77" cy="190.03" r="3.2"/>
<circle cx="484.68" cy="190.03" r="3.2"/>
<circle cx="491.59" cy="190.03" r="3.2"/>
<circle cx="498.5" cy="190.03" r="3.2"/>
<circle cx="505.41" cy="190.03" r="3.2"/>
<circle cx="512.32" cy="190.03" r="3.2"/>
<circle cx="519.23" cy="190.03" r="3.2"/>
<circle cx="526.14" cy="190.03" r="3.2"/>
<circle cx="533.05" cy="190.03" r="3.2"/>
<circle cx="553.77" cy="190.03" r="3.2"/>
<circle cx="560.68" cy="190.03" r="3.2"/>
<circle cx="567.59" cy="190.03" r="3.2"/>
<circle cx="574.5" cy="190.03" r="3.2"/>
<circle cx="581.41" cy="190.03" r="3.2"/>
<circle cx="588.32" cy="190.03" r="3.2"/>
<circle cx="595.23" cy="190.03" r="3.2"/>
<circle cx="602.14" cy="190.03" r="3.2"/>
<circle cx="609.05" cy="190.03" r="3.2"/>
<circle cx="615.95" cy="190.03" r="3.2"/>
<circle cx="622.86" cy="190.03" r="3.2"/>
<circle cx="636.68" cy="190.03" r="3.2"/>
<circle cx="643.59" cy="190.03" r="3.2"/>
<circle cx="650.5" cy="190.03" r="3.2"/>
<circle cx="657.41" cy="190.03" r="3.2"/>
<circle cx="664.32" cy="190.03" r="3.2"/>
<circle cx="671.23" cy="190.03" r="3.2"/>
<circle cx="678.13" cy="190.03" r="3.2"/>
</g>
<g fill="#e8e9ea">
<circle cx="229.05" cy="198.41" r="3.2"/>
<circle cx="235.96" cy="198.41" r="3.2"/>
<circle cx="242.87" cy="198.41" r="3.2"/>
<circle cx="249.78" cy="198.41" r="3.2"/>
<circle cx="256.69" cy="198.41" r="3.2"/>
<circle cx="263.6" cy="198.41" r="3.2"/>
<circle cx="270.5" cy="198.41" r="3.2"/>
<circle cx="277.41" cy="198.41" r="3.2"/>
<circle cx="284.32" cy="198.41" r="3.2"/>
<circle cx="291.23" cy="198.41" r="3.2"/>
<circle cx="298.14" cy="198.41" r="3.2"/>
<circle cx="305.05" cy="198.41" r="3.2"/>
<circle cx="318.87" cy="198.41" r="3.2"/>
<circle cx="325.78" cy="198.41" r="3.2"/>
<circle cx="332.69" cy="198.41" r="3.2"/>
<circle cx="339.59" cy="198.41" r="3.2"/>
<circle cx="346.5" cy="198.41" r="3.2"/>
<circle cx="353.41" cy="198.41" r="3.2"/>
<circle cx="360.32" cy="198.41" r="3.2"/>
<circle cx="367.23" cy="198.41" r="3.2"/>
<circle cx="374.14" cy="198.41" r="3.2"/>
<circle cx="381.05" cy="198.41" r="3.2"/>
<circle cx="387.96" cy="198.41" r="3.2"/>
<circle cx="394.87" cy="198.41" r="3.2"/>
<circle cx="401.77" cy="198.41" r="3.2"/>
<circle cx="408.68" cy="198.41" r="3.2"/>
<circle cx="415.59" cy="198.41" r="3.2"/>
<circle cx="422.5" cy="198.41" r="3.2"/>
<circle cx="429.41" cy="198.41" r="3.2"/>
<circle cx="436.32" cy="198.41" r="3.2"/>
<circle cx="443.23" cy="198.41" r="3.2"/>
<circle cx="450.14" cy="198.41" r="3.2"/>
<circle cx="457.05" cy="198.41" r="3.2"/>
<circle cx="463.96" cy="198.41" r="3.2"/>
<circle cx="470.87" cy="198.41" r="3.2"/>
<circle cx="477.77" cy="198.41" r="3.2"/>
<circle cx="484.68" cy="198.41" r="3.2"/>
<circle cx="491.59" cy="198.41" r="3.2"/>
<circle cx="498.5" cy="198.41" r="3.2"/>
<circle cx="505.41" cy="198.41" r="3.2"/>
<circle cx="512.32" cy="198.41" r="3.2"/>
<circle cx="519.23" cy="198.41" r="3.2"/>
<circle cx="526.14" cy="198.41" r="3.2"/>
<circle cx="533.05" cy="198.41" r="3.2"/>
<circle cx="539.95" cy="198.41" r="3.2"/>
<circle cx="546.86" cy="198.41" r="3.2"/>
<circle cx="560.68" cy="198.41" r="3.2"/>
<circle cx="567.59" cy="198.41" r="3.2"/>
<circle cx="574.5" cy="198.41" r="3.2"/>
<circle cx="581.41" cy="198.41" r="3.2"/>
<circle cx="588.32" cy="198.41" r="3.2"/>
<circle cx="595.23" cy="198.41" r="3.2"/>
<circle cx="602.14" cy="198.41" r="3.2"/>
<circle cx="609.05" cy="198.41" r="3.2"/>
<circle cx="615.95" cy="198.41" r="3.2"/>
<circle cx="622.86" cy="198.41" r="3.2"/>
<circle cx="629.77" cy="198.41" r="3.2"/>
<circle cx="636.68" cy="198.41" r="3.2"/>
<circle cx="643.59" cy="198.41" r="3.2"/>
<circle cx="650.5" cy="198.41" r="3.2"/>
<circle cx="657.41" cy="198.41" r="3.2"/>
<circle cx="664.32" cy="198.41" r="3.2"/>
<circle cx="671.23" cy="198.41" r="3.2"/>
<circle cx="678.13" cy="198.41" r="3.2"/>
</g>
<g fill="#e6e6e7">
<circle cx="229.05" cy="206.8" r="3.2"/>
<circle cx="235.96" cy="206.8" r="3.2"/>
<circle cx="242.87" cy="206.8" r="3.2"/>
<circle cx="249.78" cy="206.8" r="3.2"/>
<circle cx="256.69" cy="206.8" r="3.2"/>
<circle cx="263.6" cy="206.8" r="3.2"/>
<circle cx="270.5" cy="206.8" r="3.2"/>
<circle cx="277.41" cy="206.8" r="3.2"/>
<circle cx="284.32" cy="206.8" r="3.2"/>
<circle cx="291.23" cy="206.8" r="3.2"/>
<circle cx="298.14" cy="206.8" r="3.2"/>
<circle cx="305.05" cy="206.8" r="3.2"/>
<circle cx="311.96" cy="206.8" r="3.2"/>
<circle cx="318.87" cy="206.8" r="3.2"/>
<circle cx="325.78" cy="206.8" r="3.2"/>
<circle cx="332.69" cy="206.8" r="3.2"/>
<circle cx="339.59" cy="206.8" r="3.2"/>
<circle cx="346.5" cy="206.8" r="3.2"/>
<circle cx="353.41" cy="206.8" r="3.2"/>
<circle cx="360.32" cy="206.8" r="3.2"/>
<circle cx="367.23" cy="206.8" r="3.2"/>
<circle cx="374.14" cy="206.8" r="3.2"/>
<circle cx="381.05" cy="206.8" r="3.2"/>
<circle cx="394.87" cy="206.8" r="3.2"/>
<circle cx="401.77" cy="206.8" r="3.2"/>
<circle cx="408.68" cy="206.8" r="3.2"/>
<circle cx="415.59" cy="206.8" r="3.2"/>
<circle cx="422.5" cy="206.8" r="3.2"/>
<circle cx="429.41" cy="206.8" r="3.2"/>
<circle cx="436.32" cy="206.8" r="3.2"/>
<circle cx="443.23" cy="206.8" r="3.2"/>
<circle cx="450.14" cy="206.8" r="3.2"/>
<circle cx="457.05" cy="206.8" r="3.2"/>
<circle cx="463.96" cy="206.8" r="3.2"/>
<circle cx="470.87" cy="206.8" r="3.2"/>
<circle cx="477.77" cy="206.8" r="3.2"/>
<circle cx="484.68" cy="206.8" r="3.2"/>
<circle cx="491.59" cy="206.8" r="3.2"/>
<circle cx="498.5" cy="206.8" r="3.2"/>
<circle cx="505.41" cy="206.8" r="3.2"/>
<circle cx="512.32" cy="206.8" r="3.2"/>
<circle cx="519.23" cy="206.8" r="3.2"/>
<circle cx="526.14" cy="206.8" r="3.2"/>
<circle cx="533.05" cy="206.8" r="3.2"/>
<circle cx="539.95" cy="206.8" r="3.2"/>
<circle cx="546.86" cy="206.8" r="3.2"/>
<circle cx="553.77" cy="206.8" r="3.2"/>
<circle cx="567.59" cy="206.8" r="3.2"/>
<circle cx="574.5" cy="206.8" r="3.2"/>
<circle cx="581.41" cy="206.8" r="3.2"/>
<circle cx="588.32" cy="206.8" r="3.2"/>
<circle cx="602.14" cy="206.8" r="3.2"/>
<circle cx="609.05" cy="206.8" r="3.2"/>
<circle cx="615.95" cy="206.8" r="3.2"/>
<circle cx="622.86" cy="206.8" r="3.2"/>
<circle cx="629.77" cy="206.8" r="3.2"/>
<circle cx="636.68" cy="206.8" r="3.2"/>
<circle cx="643.59" cy="206.8" r="3.2"/>
<circle cx="650.5" cy="206.8" r="3.2"/>
<circle cx="657.41" cy="206.8" r="3.2"/>
<circle cx="664.32" cy="206.8" r="3.2"/>
<circle cx="671.23" cy="206.8" r="3.2"/>
<circle cx="678.13" cy="206.8" r="3.2"/>
</g>
<g fill="#e8e9ea">
<circle cx="229.05" cy="215.18" r="3.2"/>
<circle cx="235.96" cy="215.18" r="3.2"/>
<circle cx="242.87" cy="215.18" r="3.2"/>
<circle cx="249.78" cy="215.18" r="3.2"/>
<circle cx="256.69" cy="215.18" r="3.2"/>
<circle cx="263.6" cy="215.18" r="3.2"/>
<circle cx="277.41" cy="215.18" r="3.2"/>
<circle cx="284.32" cy="215.18" r="3.2"/>
<circle cx="291.23" cy="215.18" r="3.2"/>
<circle cx="298.14" cy="215.18" r="3.2"/>
<circle cx="305.05" cy="215.18" r="3.2"/>
<circle cx="311.96" cy="215.18" r="3.2"/>
<circle cx="318.87" cy="215.18" r="3.2"/>
<circle cx="325.78" cy="215.18" r="3.2"/>
<circle cx="332.69" cy="215.18" r="3.2"/>
<circle cx="339.59" cy="215.18" r="3.2"/>
<circle cx="346.5" cy="215.18" r="3.2"/>
<circle cx="353.41" cy="215.18" r="3.2"/>
<circle cx="360.32" cy="215.18" r="3.2"/>
<circle cx="367.23" cy="215.18" r="3.2"/>
<circle cx="374.14" cy="215.18" r="3.2"/>
<circle cx="381.05" cy="215.18" r="3.2"/>
<circle cx="387.96" cy="215.18" r="3.2"/>
<circle cx="394.87" cy="215.18" r="3.2"/>
<circle cx="401.77" cy="215.18" r="3.2"/>
<circle cx="408.68" cy="215.18" r="3.2"/>
<circle cx="415.59" cy="215.18" r="3.2"/>
<circle cx="422.5" cy="215.18" r="3.2"/>
<circle cx="429.41" cy="215.18" r="3.2"/>
<circle cx="436.32" cy="215.18" r="3.2"/>
<circle cx="443.23" cy="215.18" r="3.2"/>
<circle cx="450.14" cy="215.18" r="3.2"/>
<circle cx="457.05" cy="215.18" r="3.2"/>
<circle cx="463.96" cy="215.18" r="3.2"/>
<circle cx="470.87" cy="215.18" r="3.2"/>
<circle cx="477.77" cy="215.18" r="3.2"/>
<circle cx="484.68" cy="215.18" r="3.2"/>
<circle cx="491.59" cy="215.18" r="3.2"/>
<circle cx="498.5" cy="215.18" r="3.2"/>
<circle cx="505.41" cy="215.18" r="3.2"/>
<circle cx="512.32" cy="215.18" r="3.2"/>
<circle cx="519.23" cy="215.18" r="3.2"/>
<circle cx="526.14" cy="215.18" r="3.2"/>
<circle cx="533.05" cy="215.18" r="3.2"/>
<circle cx="539.95" cy="215.18" r="3.2"/>
<circle cx="546.86" cy="215.18" r="3.2"/>
<circle cx="553.77" cy="215.18" r="3.2"/>
<circle cx="560.68" cy="215.18" r="3.2"/>
<circle cx="581.41" cy="215.18" r="3.2"/>
<circle cx="588.32" cy="215.18" r="3.2"/>
<circle cx="595.23" cy="215.18" r="3.2"/>
<circle cx="602.14" cy="215.18" r="3.2"/>
<circle cx="609.05" cy="215.18" r="3.2"/>
<circle cx="615.95" cy="215.18" r="3.2"/>
<circle cx="622.86" cy="215.18" r="3.2"/>
<circle cx="629.77" cy="215.18" r="3.2"/>
<circle cx="636.68" cy="215.18" r="3.2"/>
<circle cx="643.59" cy="215.18" r="3.2"/>
<circle cx="650.5" cy="215.18" r="3.2"/>
<circle cx="657.41" cy="215.18" r="3.2"/>
<circle cx="664.32" cy="215.18" r="3.2"/>
<circle cx="671.23" cy="215.18" r="3.2"/>
</g>
<g fill="#e6e6e7">
<circle cx="229.05" cy="223.56" r="3.2"/>
<circle cx="235.96" cy="223.56" r="3.2"/>
<circle cx="242.87" cy="223.56" r="3.2"/>
<circle cx="249.78" cy="223.56" r="3.2"/>
<circle cx="256.69" cy="223.56" r="3.2"/>
<circle cx="263.6" cy="223.56" r="3.2"/>
<circle cx="270.5" cy="223.56" r="3.2"/>
<circle cx="277.41" cy="223.56" r="3.2"/>
<circle cx="284.32" cy="223.56" r="3.2"/>
<circle cx="291.23" cy="223.56" r="3.2"/>
<circle cx="298.14" cy="223.56" r="3.2"/>
<circle cx="305.05" cy="223.56" r="3.2"/>
<circle cx="311.96" cy="223.56" r="3.2"/>
<circle cx="325.78" cy="223.56" r="3.2"/>
<circle cx="332.69" cy="223.56" r="3.2"/>
<circle cx="339.59" cy="223.56" r="3.2"/>
<circle cx="346.5" cy="223.56" r="3.2"/>
<circle cx="353.41" cy="223.56" r="3.2"/>
<circle cx="360.32" cy="223.56" r="3.2"/>
<circle cx="367.23" cy="223.56" r="3.2"/>
<circle cx="374.14" cy="223.56" r="3.2"/>
<circle cx="381.05" cy="223.56" r="3.2"/>
<circle cx="387.96" cy="223.56" r="3.2"/>
<circle cx="394.87" cy="223.56" r="3.2"/>
<circle cx="401.77" cy="223.56" r="3.2"/>
<circle cx="408.68" cy="223.56" r="3.2"/>
<circle cx="415.59" cy="223.56" r="3.2"/>
<circle cx="422.5" cy="223.56" r="3.2"/>
<circle cx="429.41" cy="223.56" r="3.2"/>
<circle cx="436.32" cy="223.56" r="3.2"/>
<circle cx="443.23" cy="223.56" r="3.2"/>
<circle cx="450.14" cy="223.56" r="3.2"/>
<circle cx="457.05" cy="223.56" r="3.2"/>
<circle cx="463.96" cy="223.56" r="3.2"/>
<circle cx="470.87" cy="223.56" r="3.2"/>
<circle cx="477.77" cy="223.56" r="3.2"/>
<circle cx="484.68" cy="223.56" r="3.2"/>
<circle cx="491.59" cy="223.56" r="3.2"/>
<circle cx="498.5" cy="223.56" r="3.2"/>
<circle cx="505.41" cy="223.56" r="3.2"/>
<circle cx="512.32" cy="223.56" r="3.2"/>
<circle cx="519.23" cy="223.56" r="3.2"/>
<circle cx="526.14" cy="223.56" r="3.2"/>
<circle cx="533.05" cy="223.56" r="3.2"/>
<circle cx="539.95" cy="223.56" r="3.2"/>
<circle cx="546.86" cy="223.56" r="3.2"/>
<circle cx="553.77" cy="223.56" r="3.2"/>
<circle cx="560.68" cy="223.56" r="3.2"/>
<circle cx="567.59" cy="223.56" r="3.2"/>
<circle cx="574.5" cy="223.56" r="3.2"/>
<circle cx="595.23" cy="223.56" r="3.2"/>
<circle cx="602.14" cy="223.56" r="3.2"/>
<circle cx="615.95" cy="223.56" r="3.2"/>
<circle cx="622.86" cy="223.56" r="3.2"/>
<circle cx="629.77" cy="223.56" r="3.2"/>
<circle cx="636.68" cy="223.56" r="3.2"/>
<circle cx="643.59" cy="223.56" r="3.2"/>
<circle cx="650.5" cy="223.56" r="3.2"/>
<circle cx="657.41" cy="223.56" r="3.2"/>
<circle cx="671.23" cy="223.56" r="3.2"/>
<circle cx="678.13" cy="223.56" r="3.2"/>
</g>
<g fill="#e8e9ea">
<circle cx="229.05" cy="231.94" r="3.2"/>
<circle cx="235.96" cy="231.94" r="3.2"/>
<circle cx="242.87" cy="231.94" r="3.2"/>
<circle cx="249.78" cy="231.94" r="3.2"/>
<circle cx="256.69" cy="231.94" r="3.2"/>
<circle cx="263.6" cy="231.94" r="3.2"/>
<circle cx="270.5" cy="231.94" r="3.2"/>
<circle cx="277.41" cy="231.94" r="3.2"/>
<circle cx="284.32" cy="231.94" r="3.2"/>
<circle cx="291.23" cy="231.94" r="3.2"/>
<circle cx="298.14" cy="231.94" r="3.2"/>
<circle cx="305.05" cy="231.94" r="3.2"/>
<circle cx="311.96" cy="231.94" r="3.2"/>
<circle cx="318.87" cy="231.94" r="3.2"/>
<circle cx="325.78" cy="231.94" r="3.2"/>
<circle cx="339.59" cy="231.94" r="3.2"/>
<circle cx="346.5" cy="231.94" r="3.2"/>
<circle cx="353.41" cy="231.94" r="3.2"/>
<circle cx="360.32" cy="231.94" r="3.2"/>
<circle cx="367.23" cy="231.94" r="3.2"/>
<circle cx="374.14" cy="231.94" r="3.2"/>
<circle cx="381.05" cy="231.94" r="3.2"/>
<circle cx="387.96" cy="231.94" r="3.2"/>
<circle cx="394.87" cy="231.94" r="3.2"/>
<circle cx="401.77" cy="231.94" r="3.2"/>
<circle cx="408.68" cy="231.94" r="3.2"/>
<circle cx="415.59" cy="231.94" r="3.2"/>
<circle cx="422.5" cy="231.94" r="3.2"/>
<circle cx="429.41" cy="231.94" r="3.2"/>
<circle cx="436.32" cy="231.94" r="3.2"/>
<circle cx="443.23" cy="231.94" r="3.2"/>
<circle cx="450.14" cy="231.94" r="3.2"/>
<circle cx="457.05" cy="231.94" r="3.2"/>
<circle cx="463.96" cy="231.94" r="3.2"/>
<circle cx="470.87" cy="231.94" r="3.2"/>
<circle cx="477.77" cy="231.94" r="3.2"/>
<circle cx="484.68" cy="231.94" r="3.2"/>
<circle cx="491.59" cy="231.94" r="3.2"/>
<circle cx="498.5" cy="231.94" r="3.2"/>
<circle cx="505.41" cy="231.94" r="3.2"/>
<circle cx="512.32" cy="231.94" r="3.2"/>
<circle cx="519.23" cy="231.94" r="3.2"/>
<circle cx="526.14" cy="231.94" r="3.2"/>
<circle cx="533.05" cy="231.94" r="3.2"/>
<circle cx="539.95" cy="231.94" r="3.2"/>
<circle cx="546.86" cy="231.94" r="3.2"/>
<circle cx="553.77" cy="231.94" r="3.2"/>
<circle cx="560.68" cy="231.94" r="3.2"/>
<circle cx="567.59" cy="231.94" r="3.2"/>
<circle cx="574.5" cy="231.94" r="3.2"/>
<circle cx="581.41" cy="231.94" r="3.2"/>
<circle cx="588.32" cy="231.94" r="3.2"/>
<circle cx="602.14" cy="231.94" r="3.2"/>
<circle cx="609.05" cy="231.94" r="3.2"/>
<circle cx="615.95" cy="231.94" r="3.2"/>
<circle cx="622.86" cy="231.94" r="3.2"/>
<circle cx="629.77" cy="231.94" r="3.2"/>
<circle cx="636.68" cy="231.94" r="3.2"/>
<circle cx="643.59" cy="231.94" r="3.2"/>
<circle cx="650.5" cy="231.94" r="3.2"/>
<circle cx="657.41" cy="231.94" r="3.2"/>
<circle cx="664.32" cy="231.94" r="3.2"/>
<circle cx="678.13" cy="231.94" r="3.2"/>
</g>
<g fill="#e6e6e7">
<circle cx="229.05" cy="240.33" r="3.2"/>
<circle cx="235.96" cy="240.33" r="3.2"/>
<circle cx="242.87" cy="240.33" r="3.2"/>
<circle cx="249.78" cy="240.33" r="3.2"/>
<circle cx="256.69" cy="240.33" r="3.2"/>
<circle cx="263.6" cy="240.33" r="3.2"/>
<circle cx="270.5" cy="240.33" r="3.2"/>
<circle cx="277.41" cy="240.33" r="3.2"/>
<circle cx="284.32" cy="240.33" r="3.2"/>
<circle cx="291.23" cy="240.33" r="3.2"/>
<circle cx="298.14" cy="240.33" r="3.2"/>
<circle cx="311.96" cy="240.33" r="3.2"/>
<circle cx="318.87" cy="240.33" r="3.2"/>
<circle cx="325.78" cy="240.33" r="3.2"/>
<circle cx="332.69" cy="240.33" r="3.2"/>
<circle cx="339.59" cy="240.33" r="3.2"/>
<circle cx="346.5" cy="240.33" r="3.2"/>
<circle cx="353.41" cy="240.33" r="3.2"/>
<circle cx="360.32" cy="240.33" r="3.2"/>
<circle cx="367.23" cy="240.33" r="3.2"/>
<circle cx="374.14" cy="240.33" r="3.2"/>
<circle cx="381.05" cy="240.33" r="3.2"/>
<circle cx="387.96" cy="240.33" r="3.2"/>
<circle cx="394.87" cy="240.33" r="3.2"/>
<circle cx="401.77" cy="240.33" r="3.2"/>
<circle cx="408.68" cy="240.33" r="3.2"/>
<circle cx="415.59" cy="240.33" r="3.2"/>
<circle cx="422.5" cy="240.33" r="3.2"/>
<circle cx="429.41" cy="240.33" r="3.2"/>
<circle cx="436.32" cy="240.33" r="3.2"/>
<circle cx="443.23" cy="240.33" r="3.2"/>
<circle cx="450.14" cy="240.33" r="3.2"/>
<circle cx="457.05" cy="240.33" r="3.2"/>
<circle cx="463.96" cy="240.33" r="3.2"/>
<circle cx="470.87" cy="240.33" r="3.2"/>
<circle cx="477.77" cy="240.33" r="3.2"/>
<circle cx="484.68" cy="240.33" r="3.2"/>
<circle cx="491.59" cy="240.33" r="3.2"/>
<circle cx="498.5" cy="240.33" r="3.2"/>
<circle cx="505.41" cy="240.33" r="3.2"/>
<circle cx="512.32" cy="240.33" r="3.2"/>
<circle cx="519.23" cy="240.33" r="3.2"/>
<circle cx="526.14" cy="240.33" r="3.2"/>
<circle cx="533.05" cy="240.33" r="3.2"/>
<circle cx="539.95" cy="240.33" r="3.2"/>
<circle cx="546.86" cy="240.33" r="3.2"/>
<circle cx="553.77" cy="240.33" r="3.2"/>
<circle cx="560.68" cy="240.33" r="3.2"/>
<circle cx="567.59" cy="240.33" r="3.2"/>
<circle cx="574.5" cy="240.33" r="3.2"/>
<circle cx="581.41" cy="240.33" r="3.2"/>
<circle cx="588.32" cy="240.33" r="3.2"/>
<circle cx="595.23" cy="240.33" r="3.2"/>
<circle cx="609.05" cy="240.33" r="3.2"/>
<circle cx="615.95" cy="240.33" r="3.2"/>
<circle cx="622.86" cy="240.33" r="3.2"/>
<circle cx="629.77" cy="240.33" r="3.2"/>
<circle cx="636.68" cy="240.33" r="3.2"/>
<circle cx="643.59" cy="240.33" r="3.2"/>
<circle cx="650.5" cy="240.33" r="3.2"/>
<circle cx="657.41" cy="240.33" r="3.2"/>
<circle cx="664.32" cy="240.33" r="3.2"/>
<circle cx="678.13" cy="240.33" r="3.2"/>
</g>
<g fill="#e8e9ea">
<circle cx="229.05" cy="248.71" r="3.2"/>
<circle cx="235.96" cy="248.71" r="3.2"/>
<circle cx="242.87" cy="248.71" r="3.2"/>
<circle cx="249.78" cy="248.71" r="3.2"/>
<circle cx="256.69" cy="248.71" r="3.2"/>
<circle cx="263.6" cy="248.71" r="3.2"/>
<circle cx="270.5" cy="248.71" r="3.2"/>
<circle cx="277.41" cy="248.71" r="3.2"/>
<circle cx="284.32" cy="248.71" r="3.2"/>
<circle cx="291.23" cy="248.71" r="3.2"/>
<circle cx="298.14" cy="248.71" r="3.2"/>
<circle cx="305.05" cy="248.71" r="3.2"/>
<circle cx="311.96" cy="248.71" r="3.2"/>
<circle cx="318.87" cy="248.71" r="3.2"/>
<circle cx="325.78" cy="248.71" r="3.2"/>
<circle cx="332.69" cy="248.71" r="3.2"/>
<circle cx="346.5" cy="248.71" r="3.2"/>
<circle cx="353.41" cy="248.71" r="3.2"/>
<circle cx="360.32" cy="248.71" r="3.2"/>
<circle cx="367.23" cy="248.71" r="3.2"/>
<circle cx="374.14" cy="248.71" r="3.2"/>
<circle cx="381.05" cy="248.71" r="3.2"/>
<circle cx="387.96" cy="248.71" r="3.2"/>
<circle cx="394.87" cy="248.71" r="3.2"/>
<circle cx="401.77" cy="248.71" r="3.2"/>
<circle cx="408.68" cy="248.71" r="3.2"/>
<circle cx="415.59" cy="248.71" r="3.2"/>
<circle cx="422.5" cy="248.71" r="3.2"/>
<circle cx="429.41" cy="248.71" r="3.2"/>
<circle cx="436.32" cy="248.71" r="3.2"/>
<circle cx="443.23" cy="248.71" r="3.2"/>
<circle cx="450.14" cy="248.71" r="3.2"/>
<circle cx="457.05" cy="248.71" r="3.2"/>
<circle cx="463.96" cy="248.71" r="3.2"/>
<circle cx="470.87" cy="248.71" r="3.2"/>
<circle cx="477.77" cy="248.71" r="3.2"/>
<circle cx="484.68" cy="248.71" r="3.2"/>
<circle cx="491.59" cy="248.71" r="3.2"/>
<circle cx="498.5" cy="248.71" r="3.2"/>
<circle cx="505.41" cy="248.71" r="3.2"/>
<circle cx="512.32" cy="248.71" r="3.2"/>
<circle cx="519.23" cy="248.71" r="3.2"/>
<circle cx="526.14" cy="248.71" r="3.2"/>
<circle cx="533.05" cy="248.71" r="3.2"/>
<circle cx="539.95" cy="248.71" r="3.2"/>
<circle cx="546.86" cy="248.71" r="3.2"/>
<circle cx="553.77" cy="248.71" r="3.2"/>
<circle cx="560.68" cy="248.71" r="3.2"/>
<circle cx="567.59" cy="248.71" r="3.2"/>
<circle cx="574.5" cy="248.71" r="3.2"/>
<circle cx="581.41" cy="248.71" r="3.2"/>
<circle cx="588.32" cy="248.71" r="3.2"/>
<circle cx="595.23" cy="248.71" r="3.2"/>
<circle cx="602.14" cy="248.71" r="3.2"/>
<circle cx="615.95" cy="248.71" r="3.2"/>
<circle cx="622.86" cy="248.71" r="3.2"/>
<circle cx="629.77" cy="248.71" r="3.2"/>
<circle cx="636.68" cy="248.71" r="3.2"/>
<circle cx="643.59" cy="248.71" r="3.2"/>
<circle cx="650.5" cy="248.71" r="3.2"/>
<circle cx="657.41" cy="248.71" r="3.2"/>
<circle cx="664.32" cy="248.71" r="3.2"/>
<circle cx="678.13" cy="248.71" r="3.2"/>
</g>
<g fill="#e6e6e7">
<circle cx="229.05" cy="257.09" r="3.2"/>
<circle cx="235.96" cy="257.09" r="3.2"/>
<circle cx="242.87" cy="257.09" r="3.2"/>
<circle cx="249.78" cy="257.09" r="3.2"/>
<circle cx="256.69" cy="257.09" r="3.2"/>
<circle cx="263.6" cy="257.09" r="3.2"/>
<circle cx="270.5" cy="257.09" r="3.2"/>
<circle cx="277.41" cy="257.09" r="3.2"/>
<circle cx="284.32" cy="257.09" r="3.2"/>
<circle cx="291.23" cy="257.09" r="3.2"/>
<circle cx="298.14" cy="257.09" r="3.2"/>
<circle cx="305.05" cy="257.09" r="3.2"/>
<circle cx="311.96" cy="257.09" r="3.2"/>
<circle cx="318.87" cy="257.09" r="3.2"/>
<circle cx="325.78" cy="257.09" r="3.2"/>
<circle cx="332.69" cy="257.09" r="3.2"/>
<circle cx="339.59" cy="257.09" r="3.2"/>
<circle cx="353.41" cy="257.09" r="3.2"/>
<circle cx="360.32" cy="257.09" r="3.2"/>
<circle cx="367.23" cy="257.09" r="3.2"/>
<circle cx="374.14" cy="257.09" r="3.2"/>
<circle cx="381.05" cy="257.09" r="3.2"/>
<circle cx="387.96" cy="257.09" r="3.2"/>
<circle cx="394.87" cy="257.09" r="3.2"/>
<circle cx="401.77" cy="257.09" r="3.2"/>
<circle cx="408.68" cy="257.09" r="3.2"/>
<circle cx="415.59" cy="257.09" r="3.2"/>
<circle cx="422.5" cy="257.09" r="3.2"/>
<circle cx="429.41" cy="257.09" r="3.2"/>
<circle cx="436.32" cy="257.09" r="3.2"/>
<circle cx="443.23" cy="257.09" r="3.2"/>
<circle cx="450.14" cy="257.09" r="3.2"/>
<circle cx="457.05" cy="257.09" r="3.2"/>
<circle cx="463.96" cy="257.09" r="3.2"/>
<circle cx="477.77" cy="257.09" r="3.2"/>
<circle cx="484.68" cy="257.09" r="3.2"/>
<circle cx="491.59" cy="257.09" r="3.2"/>
<circle cx="498.5" cy="257.09" r="3.2"/>
<circle cx="505.41" cy="257.09" r="3.2"/>
<circle cx="512.32" cy="257.09" r="3.2"/>
<circle cx="519.23" cy="257.09" r="3.2"/>
<circle cx="526.14" cy="257.09" r="3.2"/>
<circle cx="533.05" cy="257.09" r="3.2"/>
<circle cx="539.95" cy="257.09" r="3.2"/>
<circle cx="546.86" cy="257.09" r="3.2"/>
<circle cx="553.77" cy="257.09" r="3.2"/>
<circle cx="560.68" cy="257.09" r="3.2"/>
<circle cx="567.59" cy="257.09" r="3.2"/>
<circle cx="574.5" cy="257.09" r="3.2"/>
<circle cx="581.41" cy="257.09" r="3.2"/>
<circle cx="588.32" cy="257.09" r="3.2"/>
<circle cx="595.23" cy="257.09" r="3.2"/>
<circle cx="602.14" cy="257.09" r="3.2"/>
<circle cx="609.05" cy="257.09" r="3.2"/>
<circle cx="622.86" cy="257.09" r="3.2"/>
<circle cx="629.77" cy="257.09" r="3.2"/>
<circle cx="636.68" cy="257.09" r="3.2"/>
<circle cx="643.59" cy="257.09" r="3.2"/>
<circle cx="650.5" cy="257.09" r="3.2"/>
<circle cx="657.41" cy="257.09" r="3.2"/>
<circle cx="664.32" cy="257.09" r="3.2"/>
<circle cx="671.23" cy="257.09" r="3.2"/>
<circle cx="678.13" cy="257.09" r="3.2"/>
</g>
<g fill="#e8e9ea">
<circle cx="229.05" cy="265.48" r="3.2"/>
<circle cx="235.96" cy="265.48" r="3.2"/>
<circle cx="242.87" cy="265.48" r="3.2"/>
<circle cx="249.78" cy="265.48" r="3.2"/>
<circle cx="256.69" cy="265.48" r="3.2"/>
<circle cx="263.6" cy="265.48" r="3.2"/>
<circle cx="270.5" cy="265.48" r="3.2"/>
<circle cx="277.41" cy="265.48" r="3.2"/>
<circle cx="284.32" cy="265.48" r="3.2"/>
<circle cx="291.23" cy="265.48" r="3.2"/>
<circle cx="298.14" cy="265.48" r="3.2"/>
<circle cx="305.05" cy="265.48" r="3.2"/>
<circle cx="311.96" cy="265.48" r="3.2"/>
<circle cx="318.87" cy="265.48" r="3.2"/>
<circle cx="332.69" cy="265.48" r="3.2"/>
<circle cx="339.59" cy="265.48" r="3.2"/>
<circle cx="346.5" cy="265.48" r="3.2"/>
<circle cx="353.41" cy="265.48" r="3.2"/>
<circle cx="360.32" cy="265.48" r="3.2"/>
<circle cx="367.23" cy="265.48" r="3.2"/>
<circle cx="374.14" cy="265.48" r="3.2"/>
<circle cx="381.05" cy="265.48" r="3.2"/>
<circle cx="387.96" cy="265.48" r="3.2"/>
<circle cx="394.87" cy="265.48" r="3.2"/>
<circle cx="401.77" cy="265.48" r="3.2"/>
<circle cx="408.68" cy="265.48" r="3.2"/>
<circle cx="415.59" cy="265.48" r="3.2"/>
<circle cx="422.5" cy="265.48" r="3.2"/>
<circle cx="429.41" cy="265.48" r="3.2"/>
<circle cx="436.32" cy="265.48" r="3.2"/>
<circle cx="443.23" cy="265.48" r="3.2"/>
<circle cx="450.14" cy="265.48" r="3.2"/>
<circle cx="457.05" cy="265.48" r="3.2"/>
<circle cx="463.96" cy="265.48" r="3.2"/>
<circle cx="470.87" cy="265.48" r="3.2"/>
<circle cx="477.77" cy="265.48" r="3.2"/>
<circle cx="484.68" cy="265.48" r="3.2"/>
<circle cx="491.59" cy="265.48" r="3.2"/>
<circle cx="498.5" cy="265.48" r="3.2"/>
<circle cx="505.41" cy="265.48" r="3.2"/>
<circle cx="512.32" cy="265.48" r="3.2"/>
<circle cx="519.23" cy="265.48" r="3.2"/>
<circle cx="526.14" cy="265.48" r="3.2"/>
<circle cx="533.05" cy="265.48" r="3.2"/>
<circle cx="539.95" cy="265.48" r="3.2"/>
<circle cx="546.86" cy="265.48" r="3.2"/>
<circle cx="553.77" cy="265.48" r="3.2"/>
<circle cx="560.68" cy="265.48" r="3.2"/>
<circle cx="567.59" cy="265.48" r="3.2"/>
<circle cx="574.5" cy="265.48" r="3.2"/>
<circle cx="581.41" cy="265.48" r="3.2"/>
<circle cx="588.32" cy="265.48" r="3.2"/>
<circle cx="595.23" cy="265.48" r="3.2"/>
<circle cx="602.14" cy="265.48" r="3.2"/>
<circle cx="609.05" cy="265.48" r="3.2"/>
<circle cx="615.95" cy="265.48" r="3.2"/>
<circle cx="629.77" cy="265.48" r="3.2"/>
<circle cx="636.68" cy="265.48" r="3.2"/>
<circle cx="643.59" cy="265.48" r="3.2"/>
<circle cx="650.5" cy="265.48" r="3.2"/>
<circle cx="657.41" cy="265.48" r="3.2"/>
<circle cx="664.32" cy="265.48" r="3.2"/>
<circle cx="671.23" cy="265.48" r="3.2"/>
<circle cx="678.13" cy="265.48" r="3.2"/>
</g>
<g fill="#e6e6e7">
<circle cx="229.05" cy="273.86" r="3.2"/>
<circle cx="235.96" cy="273.86" r="3.2"/>
<circle cx="242.87" cy="273.86" r="3.2"/>
<circle cx="249.78" cy="273.86" r="3.2"/>
<circle cx="256.69" cy="273.86" r="3.2"/>
<circle cx="263.6" cy="273.86" r="3.2"/>
<circle cx="270.5" cy="273.86" r="3.2"/>
<circle cx="277.41" cy="273.86" r="3.2"/>
<circle cx="284.32" cy="273.86" r="3.2"/>
<circle cx="291.23" cy="273.86" r="3.2"/>
<circle cx="298.14" cy="273.86" r="3.2"/>
<circle cx="305.05" cy="273.86" r="3.2"/>
<circle cx="311.96" cy="273.86" r="3.2"/>
<circle cx="318.87" cy="273.86" r="3.2"/>
<circle cx="325.78" cy="273.86" r="3.2"/>
<circle cx="332.69" cy="273.86" r="3.2"/>
<circle cx="339.59" cy="273.86" r="3.2"/>
<circle cx="346.5" cy="273.86" r="3.2"/>
<circle cx="360.32" cy="273.86" r="3.2"/>
<circle cx="367.23" cy="273.86" r="3.2"/>
<circle cx="374.14" cy="273.86" r="3.2"/>
<circle cx="381.05" cy="273.86" r="3.2"/>
<circle cx="387.96" cy="273.86" r="3.2"/>
<circle cx="394.87" cy="273.86" r="3.2"/>
<circle cx="401.77" cy="273.86" r="3.2"/>
<circle cx="408.68" cy="273.86" r="3.2"/>
<circle cx="415.59" cy="273.86" r="3.2"/>
<circle cx="429.41" cy="273.86" r="3.2"/>
<circle cx="436.32" cy="273.86" r="3.2"/>
<circle cx="443.23" cy="273.86" r="3.2"/>
<circle cx="450.14" cy="273.86" r="3.2"/>
<circle cx="457.05" cy="273.86" r="3.2"/>
<circle cx="463.96" cy="273.86" r="3.2"/>
<circle cx="470.87" cy="273.86" r="3.2"/>
<circle cx="477.77" cy="273.86" r="3.2"/>
<circle cx="484.68" cy="273.86" r="3.2"/>
<circle cx="491.59" cy="273.86" r="3.2"/>
<circle cx="498.5" cy="273.86" r="3.2"/>
<circle cx="505.41" cy="273.86" r="3.2"/>
<circle cx="512.32" cy="273.86" r="3.2"/>
<circle cx="519.23" cy="273.86" r="3.2"/>
<circle cx="526.14" cy="273.86" r="3.2"/>
<circle cx="533.05" cy="273.86" r="3.2"/>
<circle cx="539.95" cy="273.86" r="3.2"/>
<circle cx="546.86" cy="273.86" r="3.2"/>
<circle cx="553.77" cy="273.86" r="3.2"/>
<circle cx="560.68" cy="273.86" r="3.2"/>
<circle cx="567.59" cy="273.86" r="3.2"/>
<circle cx="574.5" cy="273.86" r="3.2"/>
<circle cx="581.41" cy="273.86" r="3.2"/>
<circle cx="588.32" cy="273.86" r="3.2"/>
<circle cx="595.23" cy="273.86" r="3.2"/>
<circle cx="602.14" cy="273.86" r="3.2"/>
<circle cx="609.05" cy="273.86" r="3.2"/>
<circle cx="615.95" cy="273.86" r="3.2"/>
<circle cx="622.86" cy="273.86" r="3.2"/>
<circle cx="636.68" cy="273.86" r="3.2"/>
<circle cx="643.59" cy="273.86" r="3.2"/>
<circle cx="650.5" cy="273.86" r="3.2"/>
<circle cx="657.41" cy="273.86" r="3.2"/>
<circle cx="664.32" cy="273.86" r="3.2"/>
<circle cx="671.23" cy="273.86" r="3.2"/>
<circle cx="678.13" cy="273.86" r="3.2"/>
</g>
<g fill="#e8e9ea">
<circle cx="229.05" cy="282.24" r="3.2"/>
<circle cx="235.96" cy="282.24" r="3.2"/>
<circle cx="242.87" cy="282.24" r="3.2"/>
<circle cx="249.78" cy="282.24" r="3.2"/>
<circle cx="256.69" cy="282.24" r="3.2"/>
<circle cx="263.6" cy="282.24" r="3.2"/>
<circle cx="270.5" cy="282.24" r="3.2"/>
<circle cx="277.41" cy="282.24" r="3.2"/>
<circle cx="284.32" cy="282.24" r="3.2"/>
<circle cx="291.23" cy="282.24" r="3.2"/>
<circle cx="298.14" cy="282.24" r="3.2"/>
<circle cx="305.05" cy="282.24" r="3.2"/>
<circle cx="311.96" cy="282.24" r="3.2"/>
<circle cx="318.87" cy="282.24" r="3.2"/>
<circle cx="325.78" cy="282.24" r="3.2"/>
<circle cx="332.69" cy="282.24" r="3.2"/>
<circle cx="339.59" cy="282.24" r="3.2"/>
<circle cx="346.5" cy="282.24" r="3.2"/>
<circle cx="353.41" cy="282.24" r="3.2"/>
<circle cx="360.32" cy="282.24" r="3.2"/>
<circle cx="374.14" cy="282.24" r="3.2"/>
<circle cx="381.05" cy="282.24" r="3.2"/>
<circle cx="387.96" cy="282.24" r="3.2"/>
<circle cx="394.87" cy="282.24" r="3.2"/>
<circle cx="401.77" cy="282.24" r="3.2"/>
<circle cx="408.68" cy="282.24" r="3.2"/>
<circle cx="415.59" cy="282.24" r="3.2"/>
<circle cx="422.5" cy="282.24" r="3.2"/>
<circle cx="429.41" cy="282.24" r="3.2"/>
<circle cx="436.32" cy="282.24" r="3.2"/>
<circle cx="443.23" cy="282.24" r="3.2"/>
<circle cx="450.14" cy="282.24" r="3.2"/>
<circle cx="457.05" cy="282.24" r="3.2"/>
<circle cx="463.96" cy="282.24" r="3.2"/>
<circle cx="470.87" cy="282.24" r="3.2"/>
<circle cx="477.77" cy="282.24" r="3.2"/>
<circle cx="484.68" cy="282.24" r="3.2"/>
<circle cx="491.59" cy="282.24" r="3.2"/>
<circle cx="498.5" cy="282.24" r="3.2"/>
<circle cx="505.41" cy="282.24" r="3.2"/>
<circle cx="512.32" cy="282.24" r="3.2"/>
<circle cx="519.23" cy="282.24" r="3.2"/>
<circle cx="526.14" cy="282.24" r="3.2"/>
<circle cx="533.05" cy="282.24" r="3.2"/>
<circle cx="539.95" cy="282.24" r="3.2"/>
<circle cx="546.86" cy="282.24" r="3.2"/>
<circle cx="553.77" cy="282.24" r="3.2"/>
<circle cx="560.68" cy="282.24" r="3.2"/>
<circle cx="567.59" cy="282.24" r="3.2"/>
<circle cx="574.5" cy="282.24" r="3.2"/>
<circle cx="581.41" cy="282.24" r="3.2"/>
<circle cx="588.32" cy="282.24" r="3.2"/>
<circle cx="595.23" cy="282.24" r="3.2"/>
<circle cx="602.14" cy="282.24" r="3.2"/>
<circle cx="609.05" cy="282.24" r="3.2"/>
<circle cx="615.95" cy="282.24" r="3.2"/>
<circle cx="622.86" cy="282.24" r="3.2"/>
<circle cx="629.77" cy="282.24" r="3.2"/>
<circle cx="650.5" cy="282.24" r="3.2"/>
<circle cx="657.41" cy="282.24" r="3.2"/>
<circle cx="664.32" cy="282.24" r="3.2"/>
<circle cx="671.23" cy="282.24" r="3.2"/>
<circle cx="678.13" cy="282.24" r="3.2"/>
</g>
<g fill="#e6e6e7">
<circle cx="229.05" cy="290.63" r="3.2"/>
<circle cx="235.96" cy="290.63" r="3.2"/>
<circle cx="242.87" cy="290.63" r="3.2"/>
<circle cx="249.78" cy="290.63" r="3.2"/>
<circle cx="256.69" cy="290.63" r="3.2"/>
<circle cx="263.6" cy="290.63" r="3.2"/>
<circle cx="270.5" cy="290.63" r="3.2"/>
<circle cx="277.41" cy="290.63" r="3.2"/>
<circle cx="284.32" cy="290.63" r="3.2"/>
<circle cx="291.23" cy="290.63" r="3.2"/>
<circle cx="298.14" cy="290.63" r="3.2"/>
<circle cx="305.05" cy="290.63" r="3.2"/>
<circle cx="311.96" cy="290.63" r="3.2"/>
<circle cx="318.87" cy="290.63" r="3.2"/>
<circle cx="325.78" cy="290.63" r="3.2"/>
<circle cx="332.69" cy="290.63" r="3.2"/>
<circle cx="339.59" cy="290.63" r="3.2"/>
<circle cx="346.5" cy="290.63" r="3.2"/>
<circle cx="353.41" cy="290.63" r="3.2"/>
<circle cx="360.32" cy="290.63" r="3.2"/>
<circle cx="367.23" cy="290.63" r="3.2"/>
<circle cx="374.14" cy="290.63" r="3.2"/>
<circle cx="381.05" cy="290.63" r="3.2"/>
<circle cx="387.96" cy="290.63" r="3.2"/>
<circle cx="408.68" cy="290.63" r="3.2"/>
<circle cx="415.59" cy="290.63" r="3.2"/>
<circle cx="422.5" cy="290.63" r="3.2"/>
<circle cx="429.41" cy="290.63" r="3.2"/>
<circle cx="436.32" cy="290.63" r="3.2"/>
<circle cx="443.23" cy="290.63" r="3.2"/>
<circle cx="450.14" cy="290.63" r="3.2"/>
<circle cx="457.05" cy="290.63" r="3.2"/>
<circle cx="463.96" cy="290.63" r="3.2"/>
<circle cx="470.87" cy="290.63" r="3.2"/>
<circle cx="477.77" cy="290.63" r="3.2"/>
<circle cx="484.68" cy="290.63" r="3.2"/>
<circle cx="491.59" cy="290.63" r="3.2"/>
<circle cx="498.5" cy="290.63" r="3.2"/>
<circle cx="505.41" cy="290.63" r="3.2"/>
<circle cx="512.32" cy="290.63" r="3.2"/>
<circle cx="519.23" cy="290.63" r="3.2"/>
<circle cx="526.14" cy="290.63" r="3.2"/>
<circle cx="533.05" cy="290.63" r="3.2"/>
<circle cx="539.95" cy="290.63" r="3.2"/>
<circle cx="546.86" cy="290.63" r="3.2"/>
<circle cx="553.77" cy="290.63" r="3.2"/>
<circle cx="560.68" cy="290.63" r="3.2"/>
<circle cx="567.59" cy="290.63" r="3.2"/>
<circle cx="574.5" cy="290.63" r="3.2"/>
<circle cx="581.41" cy="290.63" r="3.2"/>
<circle cx="588.32" cy="290.63" r="3.2"/>
<circle cx="595.23" cy="290.63" r="3.2"/>
<circle cx="602.14" cy="290.63" r="3.2"/>
<circle cx="609.05" cy="290.63" r="3.2"/>
<circle cx="615.95" cy="290.63" r="3.2"/>
<circle cx="622.86" cy="290.63" r="3.2"/>
<circle cx="629.77" cy="290.63" r="3.2"/>
<circle cx="636.68" cy="290.63" r="3.2"/>
<circle cx="643.59" cy="290.63" r="3.2"/>
<circle cx="650.5" cy="290.63" r="3.2"/>
<circle cx="657.41" cy="290.63" r="3.2"/>
<circle cx="664.32" cy="290.63" r="3.2"/>
<circle cx="671.23" cy="290.63" r="3.2"/>
<circle cx="678.13" cy="290.63" r="3.2"/>
</g>
<g fill="#e8e9ea">
<circle cx="229.05" cy="299.01" r="3.2"/>
<circle cx="235.96" cy="299.01" r="3.2"/>
<circle cx="242.87" cy="299.01" r="3.2"/>
<circle cx="249.78" cy="299.01" r="3.2"/>
<circle cx="256.69" cy="299.01" r="3.2"/>
<circle cx="263.6" cy="299.01" r="3.2"/>
<circle cx="270.5" cy="299.01" r="3.2"/>
<circle cx="277.41" cy="299.01" r="3.2"/>
<circle cx="284.32" cy="299.01" r="3.2"/>
<circle cx="291.23" cy="299.01" r="3.2"/>
<circle cx="298.14" cy="299.01" r="3.2"/>
<circle cx="305.05" cy="299.01" r="3.2"/>
<circle cx="311.96" cy="299.01" r="3.2"/>
<circle cx="318.87" cy="299.01" r="3.2"/>
<circle cx="325.78" cy="299.01" r="3.2"/>
<circle cx="332.69" cy="299.01" r="3.2"/>
<circle cx="339.59" cy="299.01" r="3.2"/>
<circle cx="346.5" cy="299.01" r="3.2"/>
<circle cx="353.41" cy="299.01" r="3.2"/>
<circle cx="360.32" cy="299.01" r="3.2"/>
<circle cx="367.23" cy="299.01" r="3.2"/>
<circle cx="374.14" cy="299.01" r="3.2"/>
<circle cx="387.96" cy="299.01" r="3.2"/>
<circle cx="394.87" cy="299.01" r="3.2"/>
<circle cx="401.77" cy="299.01" r="3.2"/>
<circle cx="408.68" cy="299.01" r="3.2"/>
<circle cx="415.59" cy="299.01" r="3.2"/>
<circle cx="422.5" cy="299.01" r="3.2"/>
<circle cx="429.41" cy="299.01" r="3.2"/>
<circle cx="436.32" cy="299.01" r="3.2"/>
<circle cx="443.23" cy="299.01" r="3.2"/>
<circle cx="450.14" cy="299.01" r="3.2"/>
<circle cx="457.05" cy="299.01" r="3.2"/>
<circle cx="463.96" cy="299.01" r="3.2"/>
<circle cx="470.87" cy="299.01" r="3.2"/>
<circle cx="477.77" cy="299.01" r="3.2"/>
<circle cx="484.68" cy="299.01" r="3.2"/>
<circle cx="491.59" cy="299.01" r="3.2"/>
<circle cx="498.5" cy="299.01" r="3.2"/>
<circle cx="505.41" cy="299.01" r="3.2"/>
<circle cx="512.32" cy="299.01" r="3.2"/>
<circle cx="519.23" cy="299.01" r="3.2"/>
<circle cx="526.14" cy="299.01" r="3.2"/>
<circle cx="533.05" cy="299.01" r="3.2"/>
<circle cx="539.95" cy="299.01" r="3.2"/>
<circle cx="546.86" cy="299.01" r="3.2"/>
<circle cx="553.77" cy="299.01" r="3.2"/>
<circle cx="560.68" cy="299.01" r="3.2"/>
<circle cx="567.59" cy="299.01" r="3.2"/>
<circle cx="574.5" cy="299.01" r="3.2"/>
<circle cx="581.41" cy="299.01" r="3.2"/>
<circle cx="588.32" cy="299.01" r="3.2"/>
<circle cx="595.23" cy="299.01" r="3.2"/>
<circle cx="602.14" cy="299.01" r="3.2"/>
<circle cx="609.05" cy="299.01" r="3.2"/>
<circle cx="615.95" cy="299.01" r="3.2"/>
<circle cx="622.86" cy="299.01" r="3.2"/>
<circle cx="629.77" cy="299.01" r="3.2"/>
<circle cx="636.68" cy="299.01" r="3.2"/>
<circle cx="643.59" cy="299.01" r="3.2"/>
<circle cx="657.41" cy="299.01" r="3.2"/>
<circle cx="664.32" cy="299.01" r="3.2"/>
<circle cx="671.23" cy="299.01" r="3.2"/>
<circle cx="678.13" cy="299.01" r="3.2"/>
</g>
<g fill="#e6e6e7">
<circle cx="229.05" cy="307.39" r="3.2"/>
<circle cx="235.96" cy="307.39" r="3.2"/>
<circle cx="242.87" cy="307.39" r="3.2"/>
<circle cx="249.78" cy="307.39" r="3.2"/>
<circle cx="256.69" cy="307.39" r="3.2"/>
<circle cx="263.6" cy="307.39" r="3.2"/>
<circle cx="270.5" cy="307.39" r="3.2"/>
<circle cx="277.41" cy="307.39" r="3.2"/>
<circle cx="284.32" cy="307.39" r="3.2"/>
<circle cx="291.23" cy="307.39" r="3.2"/>
<circle cx="298.14" cy="307.39" r="3.2"/>
<circle cx="305.05" cy="307.39" r="3.2"/>
<circle cx="311.96" cy="307.39" r="3.2"/>
<circle cx="318.87" cy="307.39" r="3.2"/>
<circle cx="325.78" cy="307.39" r="3.2"/>
<circle cx="332.69" cy="307.39" r="3.2"/>
<circle cx="339.59" cy="307.39" r="3.2"/>
<circle cx="346.5" cy="307.39" r="3.2"/>
<circle cx="353.41" cy="307.39" r="3.2"/>
<circle cx="360.32" cy="307.39" r="3.2"/>
<circle cx="367.23" cy="307.39" r="3.2"/>
<circle cx="381.05" cy="307.39" r="3.2"/>
<circle cx="387.96" cy="307.39" r="3.2"/>
<circle cx="394.87" cy="307.39" r="3.2"/>
<circle cx="401.77" cy="307.39" r="3.2"/>
<circle cx="408.68" cy="307.39" r="3.2"/>
<circle cx="415.59" cy="307.39" r="3.2"/>
<circle cx="422.5" cy="307.39" r="3.2"/>
<circle cx="429.41" cy="307.39" r="3.2"/>
<circle cx="436.32" cy="307.39" r="3.2"/>
<circle cx="443.23" cy="307.39" r="3.2"/>
<circle cx="450.14" cy="307.39" r="3.2"/>
<circle cx="457.05" cy="307.39" r="3.2"/>
<circle cx="463.96" cy="307.39" r="3.2"/>
<circle cx="470.87" cy="307.39" r="3.2"/>
<circle cx="477.77" cy="307.39" r="3.2"/>
<circle cx="484.68" cy="307.39" r="3.2"/>
<circle cx="491.59" cy="307.39" r="3.2"/>
<circle cx="498.5" cy="307.39" r="3.2"/>
<circle cx="505.41" cy="307.39" r="3.2"/>
<circle cx="512.32" cy="307.39" r="3.2"/>
<circle cx="519.23" cy="307.39" r="3.2"/>
<circle cx="526.14" cy="307.39" r="3.2"/>
<circle cx="533.05" cy="307.39" r="3.2"/>
<circle cx="539.95" cy="307.39" r="3.2"/>
<circle cx="546.86" cy="307.39" r="3.2"/>
<circle cx="553.77" cy="307.39" r="3.2"/>
<circle cx="560.68" cy="307.39" r="3.2"/>
<circle cx="567.59" cy="307.39" r="3.2"/>
<circle cx="574.5" cy="307.39" r="3.2"/>
<circle cx="581.41" cy="307.39" r="3.2"/>
<circle cx="588.32" cy="307.39" r="3.2"/>
<circle cx="595.23" cy="307.39" r="3.2"/>
<circle cx="602.14" cy="307.39" r="3.2"/>
<circle cx="609.05" cy="307.39" r="3.2"/>
<circle cx="615.95" cy="307.39" r="3.2"/>
<circle cx="622.86" cy="307.39" r="3.2"/>
<circle cx="629.77" cy="307.39" r="3.2"/>
<circle cx="636.68" cy="307.39" r="3.2"/>
<circle cx="643.59" cy="307.39" r="3.2"/>
<circle cx="650.5" cy="307.39" r="3.2"/>
<circle cx="657.41" cy="307.39" r="3.2"/>
<circle cx="664.32" cy="307.39" r="3.2"/>
<circle cx="671.23" cy="307.39" r="3.2"/>
<circle cx="678.13" cy="307.39" r="3.2"/>
</g>
<g stroke="#5b5c5e" stroke-width="1.5">
<line x1="401.77" y1="164.88" x2="401.77" y2="290.63"/>
<line x1="408.68" y1="114.58" x2="408.68" y2="122.97"/>
<line x1="415.59" y1="106.2" x2="415.59" y2="131.35"/>
<line x1="422.5" y1="164.88" x2="422.5" y2="273.86"/>
<line x1="429.41" y1="122.97" x2="429.41" y2="139.73"/>
<line x1="436.32" y1="106.2" x2="436.32" y2="148.12"/>
<line x1="443.23" y1="114.58" x2="443.23" y2="156.5"/>
<line x1="450.14" y1="131.35" x2="450.14" y2="156.5"/>
<line x1="457.05" y1="139.73" x2="457.05" y2="164.88"/>
<line x1="463.96" y1="131.35" x2="463.96" y2="173.26"/>
<line x1="470.87" y1="106.2" x2="470.87" y2="257.09"/>
<line x1="477.77" y1="114.58" x2="477.77" y2="131.35"/>
<line x1="484.68" y1="122.97" x2="484.68" y2="131.35"/>
<line x1="491.59" y1="114.58" x2="491.59" y2="139.73"/>
<line x1="498.5" y1="131.35" x2="498.5" y2="139.73"/>
<line x1="505.41" y1="106.2" x2="505.41" y2="156.5"/>
<line x1="512.32" y1="106.2" x2="512.32" y2="164.88"/>
<line x1="519.23" y1="131.35" x2="519.23" y2="164.88"/>
<line x1="526.14" y1="114.58" x2="526.14" y2="173.26"/>
<line x1="533.05" y1="122.97" x2="533.05" y2="181.65"/>
<line x1="539.95" y1="173.26" x2="539.95" y2="190.03"/>
<line x1="546.86" y1="181.65" x2="546.86" y2="190.03"/>
<line x1="553.77" y1="106.2" x2="553.77" y2="198.41"/>
<line x1="560.68" y1="106.2" x2="560.68" y2="206.8"/>
<line x1="567.59" y1="106.2" x2="567.59" y2="215.18"/>
<line x1="574.5" y1="148.12" x2="574.5" y2="215.18"/>
<line x1="581.41" y1="106.2" x2="581.41" y2="223.56"/>
<line x1="588.32" y1="122.97" x2="588.32" y2="223.56"/>
<line x1="595.23" y1="206.8" x2="595.23" y2="231.94"/>
<line x1="602.14" y1="106.2" x2="602.14" y2="240.33"/>
<line x1="609.05" y1="223.56" x2="609.05" y2="248.71"/>
<line x1="615.95" y1="114.58" x2="615.95" y2="257.09"/>
<line x1="622.86" y1="139.73" x2="622.86" y2="265.48"/>
<line x1="629.77" y1="190.03" x2="629.77" y2="273.86"/>
<line x1="636.68" y1="106.2" x2="636.68" y2="282.24"/>
<line x1="643.59" y1="122.97" x2="643.59" y2="282.24"/>
<line x1="650.5" y1="139.73" x2="650.5" y2="299.01"/>
<line x1="657.41" y1="106.2" x2="657.41" y2="148.12"/>
<line x1="664.32" y1="131.35" x2="664.32" y2="223.56"/>
<line x1="671.23" y1="231.94" x2="671.23" y2="248.71"/>
<line x1="678.13" y1="114.58" x2="678.13" y2="215.18"/>
</g>
<g fill="#5b5c5e">
<circle cx="229.05" cy="139.73" r="3.25"/>
<circle cx="235.96" cy="106.2" r="3.25"/>
<circle cx="242.87" cy="148.12" r="3.25"/>
<circle cx="249.78" cy="131.35" r="3.25"/>
<circle cx="256.69" cy="114.58" r="3.25"/>
<circle cx="263.6" cy="156.5" r="3.25"/>
<circle cx="270.5" cy="215.18" r="3.25"/>
<circle cx="277.41" cy="164.88" r="3.25"/>
<circle cx="284.32" cy="122.97" r="3.25"/>
<circle cx="291.23" cy="181.65" r="3.25"/>
<circle cx="298.14" cy="190.03" r="3.25"/>
<circle cx="305.05" cy="240.33" r="3.25"/>
<circle cx="311.96" cy="198.41" r="3.25"/>
<circle cx="318.87" cy="223.56" r="3.25"/>
<circle cx="325.78" cy="265.48" r="3.25"/>
<circle cx="332.69" cy="231.94" r="3.25"/>
<circle cx="339.59" cy="248.71" r="3.25"/>
<circle cx="346.5" cy="257.09" r="3.25"/>
<circle cx="353.41" cy="273.86" r="3.25"/>
<circle cx="360.32" cy="173.26" r="3.25"/>
<circle cx="367.23" cy="282.24" r="3.25"/>
<circle cx="374.14" cy="307.39" r="3.25"/>
<circle cx="381.05" cy="299.01" r="3.25"/>
<circle cx="387.96" cy="206.8" r="3.25"/>
<circle cx="394.87" cy="290.63" r="3.25"/>
<circle cx="401.77" cy="164.88" r="3.25"/>
<circle cx="401.77" cy="290.63" r="3.25"/>
<circle cx="408.68" cy="114.58" r="3.25"/>
<circle cx="408.68" cy="122.97" r="3.25"/>
<circle cx="415.59" cy="106.2" r="3.25"/>
<circle cx="415.59" cy="131.35" r="3.25"/>
<circle cx="422.5" cy="164.88" r="3.25"/>
<circle cx="422.5" cy="273.86" r="3.25"/>
<circle cx="429.41" cy="122.97" r="3.25"/>
<circle cx="429.41" cy="139.73" r="3.25"/>
<circle cx="436.32" cy="106.2" r="3.25"/>
<circle cx="436.32" cy="148.12" r="3.25"/>
<circle cx="443.23" cy="114.58" r="3.25"/>
<circle cx="443.23" cy="156.5" r="3.25"/>
<circle cx="450.14" cy="131.35" r="3.25"/>
<circle cx="450.14" cy="156.5" r="3.25"/>
<circle cx="457.05" cy="139.73" r="3.25"/>
<circle cx="457.05" cy="164.88" r="3.25"/>
<circle cx="463.96" cy="131.35" r="3.25"/>
<circle cx="463.96" cy="173.26" r="3.25"/>
<circle cx="470.87" cy="106.2" r="3.25"/>
<circle cx="470.87" cy="257.09" r="3.25"/>
<circle cx="477.77" cy="114.58" r="3.25"/>
<circle cx="477.77" cy="131.35" r="3.25"/>
<circle cx="484.68" cy="122.97" r="3.25"/>
<circle cx="484.68" cy="131.35" r="3.25"/>
<circle cx="491.59" cy="114.58" r="3.25"/>
<circle cx="491.59" cy="139.73" r="3.25"/>
<circle cx="498.5" cy="131.35" r="3.25"/>
<circle cx="498.5" cy="139.73" r="3.25"/>
<circle cx="505.41" cy="106.2" r="3.25"/>
<circle cx="505.41" cy="156.5" r="3.25"/>
<circle cx="512.32" cy="106.2" r="3.25"/>
<circle cx="512.32" cy="164.88" r="3.25"/>
<circle cx="519.23" cy="131.35" r="3.25"/>
<circle cx="519.23" cy="164.88" r="3.25"/>
<circle cx="526.14" cy="114.58" r="3.25"/>
<circle cx="526.14" cy="173.26" r="3.25"/>
<circle cx="533.05" cy="122.97" r="3.25"/>
<circle cx="533.05" cy="181.65" r="3.25"/>
<circle cx="539.95" cy="173.26" r="3.25"/>
<circle cx="539.95" cy="190.03" r="3.25"/>
<circle cx="546.86" cy="181.65" r="3.25"/>
<circle cx="546.86" cy="190.03" r="3.25"/>
<circle cx="553.77" cy="106.2" r="3.25"/>
<circle cx="553.77" cy="198.41" r="3.25"/>
<circle cx="560.68" cy="106.2" r="3.25"/>
<circle cx="560.68" cy="206.8" r="3.25"/>
<circle cx="567.59" cy="106.2" r="3.25"/>
<circle cx="567.59" cy="215.18" r="3.25"/>
<circle cx="574.5" cy="148.12" r="3.25"/>
<circle cx="574.5" cy="215.18" r="3.25"/>
<circle cx="581.41" cy="106.2" r="3.25"/>
<circle cx="581.41" cy="223.56" r="3.25"/>
<circle cx="588.32" cy="122.97" r="3.25"/>
<circle cx="588.32" cy="223.56" r="3.25"/>
<circle cx="595.23" cy="206.8" r="3.25"/>
<circle cx="595.23" cy="231.94" r="3.25"/>
<circle cx="602.14" cy="106.2" r="3.25"/>
<circle cx="602.14" cy="240.33" r="3.25"/>
<circle cx="609.05" cy="223.56" r="3.25"/>
<circle cx="609.05" cy="248.71" r="3.25"/>
<circle cx="615.95" cy="114.58" r="3.25"/>
<circle cx="615.95" cy="257.09" r="3.25"/>
<circle cx="622.86" cy="139.73" r="3.25"/>
<circle cx="622.86" cy="265.48" r="3.25"/>
<circle cx="629.77" cy="190.03" r="3.25"/>
<circle cx="629.77" cy="273.86" r="3.25"/>
<circle cx="636.68" cy="106.2" r="3.25"/>
<circle cx="636.68" cy="282.24" r="3.25"/>
<circle cx="643.59" cy="122.97" r="3.25"/>
<circle cx="643.59" cy="282.24" r="3.25"/>
<circle cx="650.5" cy="139.73" r="3.25"/>
<circle cx="650.5" cy="299.01" r="3.25"/>
<circle cx="657.41" cy="106.2" r="3.25"/>
<circle cx="657.41" cy="114.58" r="3.25"/>
<circle cx="657.41" cy="148.12" r="3.25"/>
<circle cx="664.32" cy="131.35" r="3.25"/>
<circle cx="664.32" cy="148.12" r="3.25"/>
<circle cx="664.32" cy="223.56" r="3.25"/>
<circle cx="671.23" cy="231.94" r="3.25"/>
<circle cx="671.23" cy="240.33" r="3.25"/>
<circle cx="671.23" cy="248.71" r="3.25"/>
<circle cx="678.13" cy="114.58" r="3.25"/>
<circle cx="678.13" cy="131.35" r="3.25"/>
<circle cx="678.13" cy="139.73" r="3.25"/>
<circle cx="678.13" cy="215.18" r="3.25"/>
</g>
<g font-size="8.3" fill="#231f20" stroke="#231f20" stroke-width="0.2" text-anchor="middle">
<text x="186.8" y="109.35">K. pne</text>
<text x="186.8" y="117.73">K. gri</text>
<text x="186.8" y="126.12">K. mic</text>
<text x="188.9" y="134.5">E. col ST73</text>
<text x="188.9" y="142.88">E. col ST131</text>
<text x="188.9" y="151.27">E. col ST69</text>
<text x="188.9" y="159.65">E. col ST95</text>
<text x="189.7" y="168.03">E. col ST10−1</text>
<text x="186.8" y="176.41">K. oxy</text>
<text x="188.9" y="184.8">E. col ST14</text>
<text x="188.9" y="193.18">E. col ST141</text>
<text x="188.9" y="201.56">E. col ST127</text>
<text x="186.8" y="209.95">K. var</text>
<text x="188.9" y="218.33">E. col ST59</text>
<text x="188.9" y="226.71">E. col ST58</text>
<text x="188.9" y="235.09">E. col ST357</text>
<text x="188.9" y="243.48">E. col ST12</text>
<text x="188.9" y="251.86">E. col ST38</text>
<text x="188.9" y="260.24">E. col ST420</text>
<text x="188.9" y="268.63">E. col ST409</text>
<text x="188.9" y="277.01">E. col ST10</text>
<text x="189.7" y="285.39">E. col ST10−3</text>
<text x="189.7" y="293.78">E. col ST10−2</text>
<text x="188.9" y="302.16">E. col ST62</text>
<text x="188.9" y="310.54">E. col ST543</text>
</g>
<g fill="#5f6062" stroke="#535457" stroke-width="0.7">
<rect x="15.23" y="104.4" width="139.47" height="3.6"/>
<rect x="76.18" y="112.78" width="78.52" height="3.6"/>
<rect x="98.13" y="121.17" width="56.57" height="3.6"/>
<rect x="44.49" y="129.55" width="110.21" height="3.6"/>
<rect x="24.99" y="137.93" width="129.71" height="3.6"/>
<rect x="61.56" y="146.31" width="93.14" height="3.6"/>
<rect x="93.25" y="154.7" width="61.45" height="3.6"/>
<rect x="88.37" y="163.08" width="66.33" height="3.6"/>
<rect x="132.26" y="171.46" width="22.44" height="3.6"/>
<rect x="117.63" y="179.85" width="37.07" height="3.6"/>
<rect x="115.19" y="188.23" width="39.51" height="3.6"/>
<rect x="132.26" y="196.61" width="22.44" height="3.6"/>
<rect x="142.01" y="205" width="12.69" height="3.6"/>
<rect x="107.88" y="213.38" width="46.82" height="3.6"/>
<rect x="124.94" y="221.76" width="29.76" height="3.6"/>
<rect x="134.7" y="230.14" width="20" height="3.6"/>
<rect x="124.94" y="238.53" width="29.76" height="3.6"/>
<rect x="134.7" y="246.91" width="20" height="3.6"/>
<rect x="132.26" y="255.29" width="22.44" height="3.6"/>
<rect x="134.7" y="263.68" width="20" height="3.6"/>
<rect x="129.82" y="272.06" width="24.88" height="3.6"/>
<rect x="137.13" y="280.44" width="17.57" height="3.6"/>
<rect x="137.13" y="288.83" width="17.57" height="3.6"/>
<rect x="142.01" y="297.21" width="12.69" height="3.6"/>
<rect x="142.01" y="305.59" width="12.69" height="3.6"/>
</g>
<line x1="8.8" y1="311.28" x2="161.1" y2="311.28" stroke="#5b5c5e" stroke-width="1.2"/>
<g stroke="#5b5c5e" stroke-width="0.9">
<line x1="154.5" y1="311.28" x2="154.5" y2="314.48"/>
<line x1="105.56" y1="311.28" x2="105.56" y2="314.48"/>
<line x1="56.62" y1="311.28" x2="56.62" y2="314.48"/>
</g>
<g font-size="8.5" fill="#58595b" text-anchor="middle">
<text x="154.5" y="323.58">0</text>
<text x="105.56" y="323.58">20</text>
<text x="56.62" y="323.58">40</text>
</g>
<text x="85" y="335.58" font-size="9.7" fill="#231f20" stroke="#231f20" stroke-width="0.2" text-anchor="middle">Set Size</text>
<text transform="translate(159.5 62) rotate(-90)" font-size="9.7" fill="#231f20" stroke="#231f20" stroke-width="0.2" text-anchor="middle">Intersection Size</text>
<text transform="translate(-2.5 28) scale(1.12 1)" font-size="38.5" font-weight="bold" fill="#231f20">a</text>
<text transform="translate(25.0 25.2) scale(1.22 1)" font-size="35" font-weight="bold" fill="#231f20">)</text>
</g>
<g id="panel-b">
<g fill="#5f6062" stroke="#535457" stroke-width="0.7">
<rect x="227.5" y="368.81" width="3.4" height="88.04"/>
<rect x="234.52" y="400.05" width="3.4" height="56.8"/>
<rect x="241.53" y="408.57" width="3.4" height="48.28"/>
<rect x="248.55" y="429.87" width="3.4" height="26.98"/>
<rect x="255.56" y="435.55" width="3.4" height="21.3"/>
<rect x="262.58" y="439.81" width="3.4" height="17.04"/>
<rect x="269.6" y="441.23" width="3.4" height="15.62"/>
<rect x="276.61" y="442.65" width="3.4" height="14.2"/>
<rect x="283.63" y="442.65" width="3.4" height="14.2"/>
<rect x="290.64" y="444.07" width="3.4" height="12.78"/>
<rect x="297.66" y="445.49" width="3.4" height="11.36"/>
<rect x="304.68" y="446.91" width="3.4" height="9.94"/>
<rect x="311.69" y="448.33" width="3.4" height="8.52"/>
<rect x="318.71" y="448.33" width="3.4" height="8.52"/>
<rect x="325.72" y="449.75" width="3.4" height="7.1"/>
<rect x="332.74" y="449.75" width="3.4" height="7.1"/>
<rect x="339.76" y="449.75" width="3.4" height="7.1"/>
<rect x="346.77" y="449.75" width="3.4" height="7.1"/>
<rect x="353.79" y="451.17" width="3.4" height="5.68"/>
<rect x="360.8" y="451.17" width="3.4" height="5.68"/>
<rect x="367.82" y="452.59" width="3.4" height="4.26"/>
<rect x="374.84" y="452.59" width="3.4" height="4.26"/>
<rect x="381.85" y="454.01" width="3.4" height="2.84"/>
<rect x="388.87" y="455.43" width="3.4" height="1.42"/>
<rect x="395.88" y="448.33" width="3.4" height="8.52"/>
<rect x="402.9" y="448.33" width="3.4" height="8.52"/>
<rect x="409.92" y="452.59" width="3.4" height="4.26"/>
<rect x="416.93" y="452.59" width="3.4" height="4.26"/>
<rect x="423.95" y="454.01" width="3.4" height="2.84"/>
<rect x="430.96" y="454.01" width="3.4" height="2.84"/>
<rect x="437.98" y="454.01" width="3.4" height="2.84"/>
<rect x="445" y="454.01" width="3.4" height="2.84"/>
<rect x="452.01" y="455.43" width="3.4" height="1.42"/>
<rect x="459.03" y="455.43" width="3.4" height="1.42"/>
<rect x="466.04" y="455.43" width="3.4" height="1.42"/>
<rect x="473.06" y="455.43" width="3.4" height="1.42"/>
<rect x="480.08" y="455.43" width="3.4" height="1.42"/>
<rect x="487.09" y="455.43" width="3.4" height="1.42"/>
<rect x="494.11" y="455.43" width="3.4" height="1.42"/>
<rect x="501.12" y="455.43" width="3.4" height="1.42"/>
<rect x="508.14" y="455.43" width="3.4" height="1.42"/>
<rect x="515.16" y="455.43" width="3.4" height="1.42"/>
<rect x="522.17" y="455.43" width="3.4" height="1.42"/>
<rect x="529.19" y="455.43" width="3.4" height="1.42"/>
<rect x="536.2" y="455.43" width="3.4" height="1.42"/>
<rect x="543.22" y="455.43" width="3.4" height="1.42"/>
<rect x="550.24" y="455.43" width="3.4" height="1.42"/>
<rect x="557.25" y="455.43" width="3.4" height="1.42"/>
<rect x="564.27" y="455.43" width="3.4" height="1.42"/>
<rect x="571.28" y="455.43" width="3.4" height="1.42"/>
<rect x="578.3" y="455.43" width="3.4" height="1.42"/>
<rect x="585.32" y="455.43" width="3.4" height="1.42"/>
<rect x="592.33" y="455.43" width="3.4" height="1.42"/>
<rect x="599.35" y="455.43" width="3.4" height="1.42"/>
<rect x="606.36" y="455.43" width="3.4" height="1.42"/>
<rect x="613.38" y="455.43" width="3.4" height="1.42"/>
<rect x="620.4" y="455.43" width="3.4" height="1.42"/>
<rect x="627.41" y="455.43" width="3.4" height="1.42"/>
<rect x="634.43" y="455.43" width="3.4" height="1.42"/>
<rect x="641.44" y="455.43" width="3.4" height="1.42"/>
<rect x="648.46" y="455.43" width="3.4" height="1.42"/>
<rect x="655.48" y="455.43" width="3.4" height="1.42"/>
<rect x="662.49" y="455.43" width="3.4" height="1.42"/>
<rect x="669.51" y="455.43" width="3.4" height="1.42"/>
<rect x="676.52" y="455.43" width="3.4" height="1.42"/>
</g>
<g font-size="7.6" fill="#58595b" text-anchor="middle">
<text x="229.2" y="363.02">62</text>
<text x="236.22" y="394.24">40</text>
<text x="243.23" y="402.75">34</text>
<text x="250.25" y="424.04">19</text>
<text x="257.26" y="429.71">15</text>
<text x="264.28" y="433.97">12</text>
<text x="271.3" y="435.39">11</text>
<text x="278.31" y="436.81">10</text>
<text x="285.33" y="436.81">10</text>
<text x="292.34" y="438.23">9</text>
<text x="299.36" y="439.65">8</text>
<text x="306.38" y="441.07">7</text>
<text x="313.39" y="442.49">6</text>
<text x="320.41" y="442.49">6</text>
<text x="327.42" y="443.9">5</text>
<text x="334.44" y="443.9">5</text>
<text x="341.46" y="443.9">5</text>
<text x="348.47" y="443.9">5</text>
<text x="355.49" y="445.32">4</text>
<text x="362.5" y="445.32">4</text>
<text x="369.52" y="446.74">3</text>
<text x="376.54" y="446.74">3</text>
<text x="383.55" y="448.41">2</text>
<text x="390.57" y="449.58">1</text>
<text x="397.58" y="442.49">6</text>
<text x="404.6" y="442.49">6</text>
<text x="411.62" y="446.74">3</text>
<text x="418.63" y="446.74">3</text>
<text x="425.65" y="448.41">2</text>
<text x="432.66" y="448.41">2</text>
<text x="439.68" y="448.41">2</text>
<text x="446.7" y="448.41">2</text>
<text x="453.71" y="449.58">1</text>
<text x="460.73" y="449.58">1</text>
<text x="467.74" y="449.58">1</text>
<text x="474.76" y="449.58">1</text>
<text x="481.78" y="449.58">1</text>
<text x="488.79" y="449.58">1</text>
<text x="495.81" y="449.58">1</text>
<text x="502.82" y="449.58">1</text>
<text x="509.84" y="449.58">1</text>
<text x="516.86" y="449.58">1</text>
<text x="523.87" y="449.58">1</text>
<text x="530.89" y="449.58">1</text>
<text x="537.9" y="449.58">1</text>
<text x="544.92" y="449.58">1</text>
<text x="551.94" y="449.58">1</text>
<text x="558.95" y="449.58">1</text>
<text x="565.97" y="449.58">1</text>
<text x="572.98" y="449.58">1</text>
<text x="580" y="449.58">1</text>
<text x="587.02" y="449.58">1</text>
<text x="594.03" y="449.58">1</text>
<text x="601.05" y="449.58">1</text>
<text x="608.06" y="449.58">1</text>
<text x="615.08" y="449.58">1</text>
<text x="622.1" y="449.58">1</text>
<text x="629.11" y="449.58">1</text>
<text x="636.13" y="449.58">1</text>
<text x="643.14" y="449.58">1</text>
<text x="650.16" y="449.58">1</text>
<text x="657.18" y="449.58">1</text>
<text x="664.19" y="449.58">1</text>
<text x="671.21" y="449.58">1</text>
<text x="678.22" y="449.58">1</text>
</g>
<line x1="222.8" y1="354.8" x2="222.8" y2="448.02" stroke="#5b5c5e" stroke-width="1.25"/>
<g stroke="#5b5c5e" stroke-width="0.9">
<line x1="219.3" y1="427.74" x2="222.8" y2="427.74"/>
<line x1="219.3" y1="399.48" x2="222.8" y2="399.48"/>
<line x1="219.3" y1="371.22" x2="222.8" y2="371.22"/>
</g>
<g font-size="8.5" fill="#58595b" text-anchor="end">
<text x="216.2" y="429.84">20</text>
<text x="216.2" y="401.58">40</text>
<text x="216.2" y="373.32">60</text>
</g>
<rect x="222" y="448.02" width="463" height="210.24" fill="#fff"/>
<g fill="#f7f7f7">
<rect x="222" y="456.78" width="463" height="8.76"/>
<rect x="222" y="474.3" width="463" height="8.76"/>
<rect x="222" y="491.82" width="463" height="8.76"/>
<rect x="222" y="509.34" width="463" height="8.76"/>
<rect x="222" y="526.86" width="463" height="8.76"/>
<rect x="222" y="544.38" width="463" height="8.76"/>
<rect x="222" y="561.9" width="463" height="8.76"/>
<rect x="222" y="579.42" width="463" height="8.76"/>
<rect x="222" y="596.94" width="463" height="8.76"/>
<rect x="222" y="614.46" width="463" height="8.76"/>
<rect x="222" y="631.98" width="463" height="8.76"/>
<rect x="222" y="649.5" width="463" height="8.76"/>
</g>
<g fill="#e8e9ea">
<circle cx="236.22" cy="452.4" r="3.2"/>
<circle cx="243.23" cy="452.4" r="3.2"/>
<circle cx="250.25" cy="452.4" r="3.2"/>
<circle cx="257.26" cy="452.4" r="3.2"/>
<circle cx="264.28" cy="452.4" r="3.2"/>
<circle cx="271.3" cy="452.4" r="3.2"/>
<circle cx="278.31" cy="452.4" r="3.2"/>
<circle cx="285.33" cy="452.4" r="3.2"/>
<circle cx="292.34" cy="452.4" r="3.2"/>
<circle cx="299.36" cy="452.4" r="3.2"/>
<circle cx="306.38" cy="452.4" r="3.2"/>
<circle cx="313.39" cy="452.4" r="3.2"/>
<circle cx="320.41" cy="452.4" r="3.2"/>
<circle cx="327.42" cy="452.4" r="3.2"/>
<circle cx="334.44" cy="452.4" r="3.2"/>
<circle cx="341.46" cy="452.4" r="3.2"/>
<circle cx="348.47" cy="452.4" r="3.2"/>
<circle cx="355.49" cy="452.4" r="3.2"/>
<circle cx="362.5" cy="452.4" r="3.2"/>
<circle cx="369.52" cy="452.4" r="3.2"/>
<circle cx="376.54" cy="452.4" r="3.2"/>
<circle cx="383.55" cy="452.4" r="3.2"/>
<circle cx="390.57" cy="452.4" r="3.2"/>
<circle cx="404.6" cy="452.4" r="3.2"/>
<circle cx="432.66" cy="452.4" r="3.2"/>
<circle cx="439.68" cy="452.4" r="3.2"/>
<circle cx="460.73" cy="452.4" r="3.2"/>
<circle cx="467.74" cy="452.4" r="3.2"/>
<circle cx="474.76" cy="452.4" r="3.2"/>
<circle cx="481.78" cy="452.4" r="3.2"/>
<circle cx="488.79" cy="452.4" r="3.2"/>
<circle cx="495.81" cy="452.4" r="3.2"/>
<circle cx="502.82" cy="452.4" r="3.2"/>
<circle cx="516.86" cy="452.4" r="3.2"/>
<circle cx="523.87" cy="452.4" r="3.2"/>
<circle cx="530.89" cy="452.4" r="3.2"/>
<circle cx="544.92" cy="452.4" r="3.2"/>
<circle cx="551.94" cy="452.4" r="3.2"/>
<circle cx="572.98" cy="452.4" r="3.2"/>
<circle cx="580" cy="452.4" r="3.2"/>
<circle cx="587.02" cy="452.4" r="3.2"/>
<circle cx="594.03" cy="452.4" r="3.2"/>
<circle cx="601.05" cy="452.4" r="3.2"/>
<circle cx="615.08" cy="452.4" r="3.2"/>
<circle cx="622.1" cy="452.4" r="3.2"/>
<circle cx="629.11" cy="452.4" r="3.2"/>
<circle cx="636.13" cy="452.4" r="3.2"/>
<circle cx="643.14" cy="452.4" r="3.2"/>
<circle cx="650.16" cy="452.4" r="3.2"/>
<circle cx="664.19" cy="452.4" r="3.2"/>
<circle cx="671.21" cy="452.4" r="3.2"/>
<circle cx="678.22" cy="452.4" r="3.2"/>
</g>
<g fill="#e6e6e7">
<circle cx="229.2" cy="461.16" r="3.2"/>
<circle cx="236.22" cy="461.16" r="3.2"/>
<circle cx="250.25" cy="461.16" r="3.2"/>
<circle cx="257.26" cy="461.16" r="3.2"/>
<circle cx="264.28" cy="461.16" r="3.2"/>
<circle cx="271.3" cy="461.16" r="3.2"/>
<circle cx="278.31" cy="461.16" r="3.2"/>
<circle cx="285.33" cy="461.16" r="3.2"/>
<circle cx="292.34" cy="461.16" r="3.2"/>
<circle cx="299.36" cy="461.16" r="3.2"/>
<circle cx="306.38" cy="461.16" r="3.2"/>
<circle cx="313.39" cy="461.16" r="3.2"/>
<circle cx="320.41" cy="461.16" r="3.2"/>
<circle cx="327.42" cy="461.16" r="3.2"/>
<circle cx="334.44" cy="461.16" r="3.2"/>
<circle cx="341.46" cy="461.16" r="3.2"/>
<circle cx="348.47" cy="461.16" r="3.2"/>
<circle cx="355.49" cy="461.16" r="3.2"/>
<circle cx="362.5" cy="461.16" r="3.2"/>
<circle cx="369.52" cy="461.16" r="3.2"/>
<circle cx="376.54" cy="461.16" r="3.2"/>
<circle cx="383.55" cy="461.16" r="3.2"/>
<circle cx="390.57" cy="461.16" r="3.2"/>
<circle cx="411.62" cy="461.16" r="3.2"/>
<circle cx="418.63" cy="461.16" r="3.2"/>
<circle cx="425.65" cy="461.16" r="3.2"/>
<circle cx="432.66" cy="461.16" r="3.2"/>
<circle cx="446.7" cy="461.16" r="3.2"/>
<circle cx="453.71" cy="461.16" r="3.2"/>
<circle cx="467.74" cy="461.16" r="3.2"/>
<circle cx="481.78" cy="461.16" r="3.2"/>
<circle cx="488.79" cy="461.16" r="3.2"/>
<circle cx="502.82" cy="461.16" r="3.2"/>
<circle cx="509.84" cy="461.16" r="3.2"/>
<circle cx="523.87" cy="461.16" r="3.2"/>
<circle cx="530.89" cy="461.16" r="3.2"/>
<circle cx="537.9" cy="461.16" r="3.2"/>
<circle cx="551.94" cy="461.16" r="3.2"/>
<circle cx="558.95" cy="461.16" r="3.2"/>
<circle cx="565.97" cy="461.16" r="3.2"/>
<circle cx="572.98" cy="461.16" r="3.2"/>
<circle cx="580" cy="461.16" r="3.2"/>
<circle cx="587.02" cy="461.16" r="3.2"/>
<circle cx="601.05" cy="461.16" r="3.2"/>
<circle cx="608.06" cy="461.16" r="3.2"/>
<circle cx="615.08" cy="461.16" r="3.2"/>
<circle cx="622.1" cy="461.16" r="3.2"/>
<circle cx="629.11" cy="461.16" r="3.2"/>
<circle cx="636.13" cy="461.16" r="3.2"/>
<circle cx="650.16" cy="461.16" r="3.2"/>
<circle cx="657.18" cy="461.16" r="3.2"/>
<circle cx="664.19" cy="461.16" r="3.2"/>
<circle cx="671.21" cy="461.16" r="3.2"/>
<circle cx="678.22" cy="461.16" r="3.2"/>
</g>
<g fill="#e8e9ea">
<circle cx="229.2" cy="469.92" r="3.2"/>
<circle cx="243.23" cy="469.92" r="3.2"/>
<circle cx="250.25" cy="469.92" r="3.2"/>
<circle cx="257.26" cy="469.92" r="3.2"/>
<circle cx="264.28" cy="469.92" r="3.2"/>
<circle cx="271.3" cy="469.92" r="3.2"/>
<circle cx="278.31" cy="469.92" r="3.2"/>
<circle cx="285.33" cy="469.92" r="3.2"/>
<circle cx="292.34" cy="469.92" r="3.2"/>
<circle cx="299.36" cy="469.92" r="3.2"/>
<circle cx="306.38" cy="469.92" r="3.2"/>
<circle cx="313.39" cy="469.92" r="3.2"/>
<circle cx="320.41" cy="469.92" r="3.2"/>
<circle cx="327.42" cy="469.92" r="3.2"/>
<circle cx="334.44" cy="469.92" r="3.2"/>
<circle cx="341.46" cy="469.92" r="3.2"/>
<circle cx="348.47" cy="469.92" r="3.2"/>
<circle cx="355.49" cy="469.92" r="3.2"/>
<circle cx="362.5" cy="469.92" r="3.2"/>
<circle cx="369.52" cy="469.92" r="3.2"/>
<circle cx="376.54" cy="469.92" r="3.2"/>
<circle cx="383.55" cy="469.92" r="3.2"/>
<circle cx="390.57" cy="469.92" r="3.2"/>
<circle cx="397.58" cy="469.92" r="3.2"/>
<circle cx="411.62" cy="469.92" r="3.2"/>
<circle cx="418.63" cy="469.92" r="3.2"/>
<circle cx="425.65" cy="469.92" r="3.2"/>
<circle cx="432.66" cy="469.92" r="3.2"/>
<circle cx="439.68" cy="469.92" r="3.2"/>
<circle cx="446.7" cy="469.92" r="3.2"/>
<circle cx="460.73" cy="469.92" r="3.2"/>
<circle cx="474.76" cy="469.92" r="3.2"/>
<circle cx="488.79" cy="469.92" r="3.2"/>
<circle cx="495.81" cy="469.92" r="3.2"/>
<circle cx="502.82" cy="469.92" r="3.2"/>
<circle cx="509.84" cy="469.92" r="3.2"/>
<circle cx="516.86" cy="469.92" r="3.2"/>
<circle cx="530.89" cy="469.92" r="3.2"/>
<circle cx="537.9" cy="469.92" r="3.2"/>
<circle cx="544.92" cy="469.92" r="3.2"/>
<circle cx="551.94" cy="469.92" r="3.2"/>
<circle cx="558.95" cy="469.92" r="3.2"/>
<circle cx="565.97" cy="469.92" r="3.2"/>
<circle cx="580" cy="469.92" r="3.2"/>
<circle cx="587.02" cy="469.92" r="3.2"/>
<circle cx="594.03" cy="469.92" r="3.2"/>
<circle cx="601.05" cy="469.92" r="3.2"/>
<circle cx="608.06" cy="469.92" r="3.2"/>
<circle cx="615.08" cy="469.92" r="3.2"/>
<circle cx="622.1" cy="469.92" r="3.2"/>
<circle cx="629.11" cy="469.92" r="3.2"/>
<circle cx="636.13" cy="469.92" r="3.2"/>
<circle cx="643.14" cy="469.92" r="3.2"/>
<circle cx="657.18" cy="469.92" r="3.2"/>
<circle cx="664.19" cy="469.92" r="3.2"/>
<circle cx="671.21" cy="469.92" r="3.2"/>
<circle cx="678.22" cy="469.92" r="3.2"/>
</g>
<g fill="#e6e6e7">
<circle cx="229.2" cy="478.68" r="3.2"/>
<circle cx="236.22" cy="478.68" r="3.2"/>
<circle cx="243.23" cy="478.68" r="3.2"/>
<circle cx="257.26" cy="478.68" r="3.2"/>
<circle cx="264.28" cy="478.68" r="3.2"/>
<circle cx="271.3" cy="478.68" r="3.2"/>
<circle cx="278.31" cy="478.68" r="3.2"/>
<circle cx="285.33" cy="478.68" r="3.2"/>
<circle cx="292.34" cy="478.68" r="3.2"/>
<circle cx="299.36" cy="478.68" r="3.2"/>
<circle cx="306.38" cy="478.68" r="3.2"/>
<circle cx="313.39" cy="478.68" r="3.2"/>
<circle cx="320.41" cy="478.68" r="3.2"/>
<circle cx="327.42" cy="478.68" r="3.2"/>
<circle cx="334.44" cy="478.68" r="3.2"/>
<circle cx="341.46" cy="478.68" r="3.2"/>
<circle cx="348.47" cy="478.68" r="3.2"/>
<circle cx="355.49" cy="478.68" r="3.2"/>
<circle cx="362.5" cy="478.68" r="3.2"/>
<circle cx="369.52" cy="478.68" r="3.2"/>
<circle cx="376.54" cy="478.68" r="3.2"/>
<circle cx="383.55" cy="478.68" r="3.2"/>
<circle cx="390.57" cy="478.68" r="3.2"/>
<circle cx="397.58" cy="478.68" r="3.2"/>
<circle cx="404.6" cy="478.68" r="3.2"/>
<circle cx="411.62" cy="478.68" r="3.2"/>
<circle cx="418.63" cy="478.68" r="3.2"/>
<circle cx="425.65" cy="478.68" r="3.2"/>
<circle cx="432.66" cy="478.68" r="3.2"/>
<circle cx="439.68" cy="478.68" r="3.2"/>
<circle cx="446.7" cy="478.68" r="3.2"/>
<circle cx="453.71" cy="478.68" r="3.2"/>
<circle cx="474.76" cy="478.68" r="3.2"/>
<circle cx="481.78" cy="478.68" r="3.2"/>
<circle cx="488.79" cy="478.68" r="3.2"/>
<circle cx="495.81" cy="478.68" r="3.2"/>
<circle cx="502.82" cy="478.68" r="3.2"/>
<circle cx="509.84" cy="478.68" r="3.2"/>
<circle cx="516.86" cy="478.68" r="3.2"/>
<circle cx="523.87" cy="478.68" r="3.2"/>
<circle cx="530.89" cy="478.68" r="3.2"/>
<circle cx="537.9" cy="478.68" r="3.2"/>
<circle cx="544.92" cy="478.68" r="3.2"/>
<circle cx="551.94" cy="478.68" r="3.2"/>
<circle cx="558.95" cy="478.68" r="3.2"/>
<circle cx="565.97" cy="478.68" r="3.2"/>
<circle cx="572.98" cy="478.68" r="3.2"/>
<circle cx="580" cy="478.68" r="3.2"/>
<circle cx="587.02" cy="478.68" r="3.2"/>
<circle cx="594.03" cy="478.68" r="3.2"/>
<circle cx="601.05" cy="478.68" r="3.2"/>
<circle cx="608.06" cy="478.68" r="3.2"/>
<circle cx="622.1" cy="478.68" r="3.2"/>
<circle cx="629.11" cy="478.68" r="3.2"/>
<circle cx="643.14" cy="478.68" r="3.2"/>
<circle cx="650.16" cy="478.68" r="3.2"/>
<circle cx="657.18" cy="478.68" r="3.2"/>
<circle cx="664.19" cy="478.68" r="3.2"/>
<circle cx="671.21" cy="478.68" r="3.2"/>
<circle cx="678.22" cy="478.68" r="3.2"/>
</g>
<g fill="#e8e9ea">
<circle cx="229.2" cy="487.44" r="3.2"/>
<circle cx="236.22" cy="487.44" r="3.2"/>
<circle cx="243.23" cy="487.44" r="3.2"/>
<circle cx="250.25" cy="487.44" r="3.2"/>
<circle cx="257.26" cy="487.44" r="3.2"/>
<circle cx="264.28" cy="487.44" r="3.2"/>
<circle cx="271.3" cy="487.44" r="3.2"/>
<circle cx="278.31" cy="487.44" r="3.2"/>
<circle cx="285.33" cy="487.44" r="3.2"/>
<circle cx="299.36" cy="487.44" r="3.2"/>
<circle cx="306.38" cy="487.44" r="3.2"/>
<circle cx="313.39" cy="487.44" r="3.2"/>
<circle cx="320.41" cy="487.44" r="3.2"/>
<circle cx="327.42" cy="487.44" r="3.2"/>
<circle cx="334.44" cy="487.44" r="3.2"/>
<circle cx="341.46" cy="487.44" r="3.2"/>
<circle cx="348.47" cy="487.44" r="3.2"/>
<circle cx="355.49" cy="487.44" r="3.2"/>
<circle cx="362.5" cy="487.44" r="3.2"/>
<circle cx="369.52" cy="487.44" r="3.2"/>
<circle cx="376.54" cy="487.44" r="3.2"/>
<circle cx="383.55" cy="487.44" r="3.2"/>
<circle cx="390.57" cy="487.44" r="3.2"/>
<circle cx="397.58" cy="487.44" r="3.2"/>
<circle cx="404.6" cy="487.44" r="3.2"/>
<circle cx="418.63" cy="487.44" r="3.2"/>
<circle cx="425.65" cy="487.44" r="3.2"/>
<circle cx="432.66" cy="487.44" r="3.2"/>
<circle cx="439.68" cy="487.44" r="3.2"/>
<circle cx="446.7" cy="487.44" r="3.2"/>
<circle cx="453.71" cy="487.44" r="3.2"/>
<circle cx="460.73" cy="487.44" r="3.2"/>
<circle cx="467.74" cy="487.44" r="3.2"/>
<circle cx="474.76" cy="487.44" r="3.2"/>
<circle cx="481.78" cy="487.44" r="3.2"/>
<circle cx="488.79" cy="487.44" r="3.2"/>
<circle cx="495.81" cy="487.44" r="3.2"/>
<circle cx="509.84" cy="487.44" r="3.2"/>
<circle cx="516.86" cy="487.44" r="3.2"/>
<circle cx="523.87" cy="487.44" r="3.2"/>
<circle cx="530.89" cy="487.44" r="3.2"/>
<circle cx="537.9" cy="487.44" r="3.2"/>
<circle cx="544.92" cy="487.44" r="3.2"/>
<circle cx="551.94" cy="487.44" r="3.2"/>
<circle cx="558.95" cy="487.44" r="3.2"/>
<circle cx="565.97" cy="487.44" r="3.2"/>
<circle cx="572.98" cy="487.44" r="3.2"/>
<circle cx="580" cy="487.44" r="3.2"/>
<circle cx="587.02" cy="487.44" r="3.2"/>
<circle cx="594.03" cy="487.44" r="3.2"/>
<circle cx="601.05" cy="487.44" r="3.2"/>
<circle cx="608.06" cy="487.44" r="3.2"/>
<circle cx="615.08" cy="487.44" r="3.2"/>
<circle cx="629.11" cy="487.44" r="3.2"/>
<circle cx="636.13" cy="487.44" r="3.2"/>
<circle cx="643.14" cy="487.44" r="3.2"/>
<circle cx="650.16" cy="487.44" r="3.2"/>
<circle cx="657.18" cy="487.44" r="3.2"/>
<circle cx="664.19" cy="487.44" r="3.2"/>
<circle cx="671.21" cy="487.44" r="3.2"/>
</g>
<g fill="#e6e6e7">
<circle cx="229.2" cy="496.2" r="3.2"/>
<circle cx="236.22" cy="496.2" r="3.2"/>
<circle cx="243.23" cy="496.2" r="3.2"/>
<circle cx="250.25" cy="496.2" r="3.2"/>
<circle cx="264.28" cy="496.2" r="3.2"/>
<circle cx="271.3" cy="496.2" r="3.2"/>
<circle cx="278.31" cy="496.2" r="3.2"/>
<circle cx="285.33" cy="496.2" r="3.2"/>
<circle cx="292.34" cy="496.2" r="3.2"/>
<circle cx="299.36" cy="496.2" r="3.2"/>
<circle cx="306.38" cy="496.2" r="3.2"/>
<circle cx="313.39" cy="496.2" r="3.2"/>
<circle cx="320.41" cy="496.2" r="3.2"/>
<circle cx="327.42" cy="496.2" r="3.2"/>
<circle cx="334.44" cy="496.2" r="3.2"/>
<circle cx="341.46" cy="496.2" r="3.2"/>
<circle cx="348.47" cy="496.2" r="3.2"/>
<circle cx="355.49" cy="496.2" r="3.2"/>
<circle cx="362.5" cy="496.2" r="3.2"/>
<circle cx="369.52" cy="496.2" r="3.2"/>
<circle cx="376.54" cy="496.2" r="3.2"/>
<circle cx="383.55" cy="496.2" r="3.2"/>
<circle cx="390.57" cy="496.2" r="3.2"/>
<circle cx="397.58" cy="496.2" r="3.2"/>
<circle cx="404.6" cy="496.2" r="3.2"/>
<circle cx="411.62" cy="496.2" r="3.2"/>
<circle cx="418.63" cy="496.2" r="3.2"/>
<circle cx="425.65" cy="496.2" r="3.2"/>
<circle cx="439.68" cy="496.2" r="3.2"/>
<circle cx="446.7" cy="496.2" r="3.2"/>
<circle cx="453.71" cy="496.2" r="3.2"/>
<circle cx="460.73" cy="496.2" r="3.2"/>
<circle cx="467.74" cy="496.2" r="3.2"/>
<circle cx="495.81" cy="496.2" r="3.2"/>
<circle cx="502.82" cy="496.2" r="3.2"/>
<circle cx="509.84" cy="496.2" r="3.2"/>
<circle cx="516.86" cy="496.2" r="3.2"/>
<circle cx="523.87" cy="496.2" r="3.2"/>
<circle cx="537.9" cy="496.2" r="3.2"/>
<circle cx="544.92" cy="496.2" r="3.2"/>
<circle cx="551.94" cy="496.2" r="3.2"/>
<circle cx="558.95" cy="496.2" r="3.2"/>
<circle cx="565.97" cy="496.2" r="3.2"/>
<circle cx="572.98" cy="496.2" r="3.2"/>
<circle cx="587.02" cy="496.2" r="3.2"/>
<circle cx="594.03" cy="496.2" r="3.2"/>
<circle cx="601.05" cy="496.2" r="3.2"/>
<circle cx="608.06" cy="496.2" r="3.2"/>
<circle cx="615.08" cy="496.2" r="3.2"/>
<circle cx="622.1" cy="496.2" r="3.2"/>
<circle cx="629.11" cy="496.2" r="3.2"/>
<circle cx="636.13" cy="496.2" r="3.2"/>
<circle cx="643.14" cy="496.2" r="3.2"/>
<circle cx="650.16" cy="496.2" r="3.2"/>
<circle cx="657.18" cy="496.2" r="3.2"/>
<circle cx="678.22" cy="496.2" r="3.2"/>
</g>
<g fill="#e8e9ea">
<circle cx="229.2" cy="504.96" r="3.2"/>
<circle cx="236.22" cy="504.96" r="3.2"/>
<circle cx="243.23" cy="504.96" r="3.2"/>
<circle cx="250.25" cy="504.96" r="3.2"/>
<circle cx="257.26" cy="504.96" r="3.2"/>
<circle cx="264.28" cy="504.96" r="3.2"/>
<circle cx="271.3" cy="504.96" r="3.2"/>
<circle cx="285.33" cy="504.96" r="3.2"/>
<circle cx="292.34" cy="504.96" r="3.2"/>
<circle cx="299.36" cy="504.96" r="3.2"/>
<circle cx="306.38" cy="504.96" r="3.2"/>
<circle cx="313.39" cy="504.96" r="3.2"/>
<circle cx="320.41" cy="504.96" r="3.2"/>
<circle cx="327.42" cy="504.96" r="3.2"/>
<circle cx="334.44" cy="504.96" r="3.2"/>
<circle cx="341.46" cy="504.96" r="3.2"/>
<circle cx="348.47" cy="504.96" r="3.2"/>
<circle cx="355.49" cy="504.96" r="3.2"/>
<circle cx="362.5" cy="504.96" r="3.2"/>
<circle cx="369.52" cy="504.96" r="3.2"/>
<circle cx="376.54" cy="504.96" r="3.2"/>
<circle cx="383.55" cy="504.96" r="3.2"/>
<circle cx="390.57" cy="504.96" r="3.2"/>
<circle cx="397.58" cy="504.96" r="3.2"/>
<circle cx="404.6" cy="504.96" r="3.2"/>
<circle cx="411.62" cy="504.96" r="3.2"/>
<circle cx="425.65" cy="504.96" r="3.2"/>
<circle cx="432.66" cy="504.96" r="3.2"/>
<circle cx="439.68" cy="504.96" r="3.2"/>
<circle cx="446.7" cy="504.96" r="3.2"/>
<circle cx="453.71" cy="504.96" r="3.2"/>
<circle cx="460.73" cy="504.96" r="3.2"/>
<circle cx="467.74" cy="504.96" r="3.2"/>
<circle cx="474.76" cy="504.96" r="3.2"/>
<circle cx="481.78" cy="504.96" r="3.2"/>
<circle cx="488.79" cy="504.96" r="3.2"/>
<circle cx="495.81" cy="504.96" r="3.2"/>
<circle cx="502.82" cy="504.96" r="3.2"/>
<circle cx="509.84" cy="504.96" r="3.2"/>
<circle cx="516.86" cy="504.96" r="3.2"/>
<circle cx="523.87" cy="504.96" r="3.2"/>
<circle cx="530.89" cy="504.96" r="3.2"/>
<circle cx="537.9" cy="504.96" r="3.2"/>
<circle cx="544.92" cy="504.96" r="3.2"/>
<circle cx="551.94" cy="504.96" r="3.2"/>
<circle cx="558.95" cy="504.96" r="3.2"/>
<circle cx="565.97" cy="504.96" r="3.2"/>
<circle cx="572.98" cy="504.96" r="3.2"/>
<circle cx="580" cy="504.96" r="3.2"/>
<circle cx="587.02" cy="504.96" r="3.2"/>
<circle cx="594.03" cy="504.96" r="3.2"/>
<circle cx="601.05" cy="504.96" r="3.2"/>
<circle cx="608.06" cy="504.96" r="3.2"/>
<circle cx="615.08" cy="504.96" r="3.2"/>
<circle cx="622.1" cy="504.96" r="3.2"/>
<circle cx="629.11" cy="504.96" r="3.2"/>
<circle cx="636.13" cy="504.96" r="3.2"/>
<circle cx="643.14" cy="504.96" r="3.2"/>
<circle cx="650.16" cy="504.96" r="3.2"/>
<circle cx="678.22" cy="504.96" r="3.2"/>
</g>
<g fill="#e6e6e7">
<circle cx="229.2" cy="513.72" r="3.2"/>
<circle cx="236.22" cy="513.72" r="3.2"/>
<circle cx="243.23" cy="513.72" r="3.2"/>
<circle cx="250.25" cy="513.72" r="3.2"/>
<circle cx="257.26" cy="513.72" r="3.2"/>
<circle cx="264.28" cy="513.72" r="3.2"/>
<circle cx="271.3" cy="513.72" r="3.2"/>
<circle cx="278.31" cy="513.72" r="3.2"/>
<circle cx="285.33" cy="513.72" r="3.2"/>
<circle cx="292.34" cy="513.72" r="3.2"/>
<circle cx="299.36" cy="513.72" r="3.2"/>
<circle cx="306.38" cy="513.72" r="3.2"/>
<circle cx="313.39" cy="513.72" r="3.2"/>
<circle cx="320.41" cy="513.72" r="3.2"/>
<circle cx="334.44" cy="513.72" r="3.2"/>
<circle cx="341.46" cy="513.72" r="3.2"/>
<circle cx="348.47" cy="513.72" r="3.2"/>
<circle cx="355.49" cy="513.72" r="3.2"/>
<circle cx="362.5" cy="513.72" r="3.2"/>
<circle cx="369.52" cy="513.72" r="3.2"/>
<circle cx="376.54" cy="513.72" r="3.2"/>
<circle cx="383.55" cy="513.72" r="3.2"/>
<circle cx="390.57" cy="513.72" r="3.2"/>
<circle cx="397.58" cy="513.72" r="3.2"/>
<circle cx="404.6" cy="513.72" r="3.2"/>
<circle cx="411.62" cy="513.72" r="3.2"/>
<circle cx="418.63" cy="513.72" r="3.2"/>
<circle cx="432.66" cy="513.72" r="3.2"/>
<circle cx="439.68" cy="513.72" r="3.2"/>
<circle cx="446.7" cy="513.72" r="3.2"/>
<circle cx="453.71" cy="513.72" r="3.2"/>
<circle cx="460.73" cy="513.72" r="3.2"/>
<circle cx="467.74" cy="513.72" r="3.2"/>
<circle cx="474.76" cy="513.72" r="3.2"/>
<circle cx="481.78" cy="513.72" r="3.2"/>
<circle cx="495.81" cy="513.72" r="3.2"/>
<circle cx="502.82" cy="513.72" r="3.2"/>
<circle cx="509.84" cy="513.72" r="3.2"/>
<circle cx="516.86" cy="513.72" r="3.2"/>
<circle cx="523.87" cy="513.72" r="3.2"/>
<circle cx="530.89" cy="513.72" r="3.2"/>
<circle cx="537.9" cy="513.72" r="3.2"/>
<circle cx="544.92" cy="513.72" r="3.2"/>
<circle cx="551.94" cy="513.72" r="3.2"/>
<circle cx="558.95" cy="513.72" r="3.2"/>
<circle cx="565.97" cy="513.72" r="3.2"/>
<circle cx="572.98" cy="513.72" r="3.2"/>
<circle cx="580" cy="513.72" r="3.2"/>
<circle cx="587.02" cy="513.72" r="3.2"/>
<circle cx="594.03" cy="513.72" r="3.2"/>
<circle cx="601.05" cy="513.72" r="3.2"/>
<circle cx="608.06" cy="513.72" r="3.2"/>
<circle cx="615.08" cy="513.72" r="3.2"/>
<circle cx="622.1" cy="513.72" r="3.2"/>
<circle cx="636.13" cy="513.72" r="3.2"/>
<circle cx="643.14" cy="513.72" r="3.2"/>
<circle cx="650.16" cy="513.72" r="3.2"/>
<circle cx="657.18" cy="513.72" r="3.2"/>
<circle cx="664.19" cy="513.72" r="3.2"/>
<circle cx="671.21" cy="513.72" r="3.2"/>
<circle cx="678.22" cy="513.72" r="3.2"/>
</g>
<g fill="#e8e9ea">
<circle cx="229.2" cy="522.48" r="3.2"/>
<circle cx="236.22" cy="522.48" r="3.2"/>
<circle cx="243.23" cy="522.48" r="3.2"/>
<circle cx="250.25" cy="522.48" r="3.2"/>
<circle cx="257.26" cy="522.48" r="3.2"/>
<circle cx="271.3" cy="522.48" r="3.2"/>
<circle cx="278.31" cy="522.48" r="3.2"/>
<circle cx="285.33" cy="522.48" r="3.2"/>
<circle cx="292.34" cy="522.48" r="3.2"/>
<circle cx="299.36" cy="522.48" r="3.2"/>
<circle cx="306.38" cy="522.48" r="3.2"/>
<circle cx="313.39" cy="522.48" r="3.2"/>
<circle cx="320.41" cy="522.48" r="3.2"/>
<circle cx="327.42" cy="522.48" r="3.2"/>
<circle cx="334.44" cy="522.48" r="3.2"/>
<circle cx="341.46" cy="522.48" r="3.2"/>
<circle cx="348.47" cy="522.48" r="3.2"/>
<circle cx="355.49" cy="522.48" r="3.2"/>
<circle cx="362.5" cy="522.48" r="3.2"/>
<circle cx="369.52" cy="522.48" r="3.2"/>
<circle cx="376.54" cy="522.48" r="3.2"/>
<circle cx="383.55" cy="522.48" r="3.2"/>
<circle cx="390.57" cy="522.48" r="3.2"/>
<circle cx="397.58" cy="522.48" r="3.2"/>
<circle cx="404.6" cy="522.48" r="3.2"/>
<circle cx="411.62" cy="522.48" r="3.2"/>
<circle cx="418.63" cy="522.48" r="3.2"/>
<circle cx="425.65" cy="522.48" r="3.2"/>
<circle cx="439.68" cy="522.48" r="3.2"/>
<circle cx="446.7" cy="522.48" r="3.2"/>
<circle cx="453.71" cy="522.48" r="3.2"/>
<circle cx="460.73" cy="522.48" r="3.2"/>
<circle cx="467.74" cy="522.48" r="3.2"/>
<circle cx="474.76" cy="522.48" r="3.2"/>
<circle cx="481.78" cy="522.48" r="3.2"/>
<circle cx="488.79" cy="522.48" r="3.2"/>
<circle cx="502.82" cy="522.48" r="3.2"/>
<circle cx="509.84" cy="522.48" r="3.2"/>
<circle cx="516.86" cy="522.48" r="3.2"/>
<circle cx="523.87" cy="522.48" r="3.2"/>
<circle cx="530.89" cy="522.48" r="3.2"/>
<circle cx="537.9" cy="522.48" r="3.2"/>
<circle cx="544.92" cy="522.48" r="3.2"/>
<circle cx="551.94" cy="522.48" r="3.2"/>
<circle cx="558.95" cy="522.48" r="3.2"/>
<circle cx="565.97" cy="522.48" r="3.2"/>
<circle cx="572.98" cy="522.48" r="3.2"/>
<circle cx="580" cy="522.48" r="3.2"/>
<circle cx="587.02" cy="522.48" r="3.2"/>
<circle cx="594.03" cy="522.48" r="3.2"/>
<circle cx="608.06" cy="522.48" r="3.2"/>
<circle cx="615.08" cy="522.48" r="3.2"/>
<circle cx="622.1" cy="522.48" r="3.2"/>
<circle cx="629.11" cy="522.48" r="3.2"/>
<circle cx="636.13" cy="522.48" r="3.2"/>
<circle cx="643.14" cy="522.48" r="3.2"/>
<circle cx="650.16" cy="522.48" r="3.2"/>
<circle cx="664.19" cy="522.48" r="3.2"/>
<circle cx="671.21" cy="522.48" r="3.2"/>
</g>
<g fill="#e6e6e7">
<circle cx="229.2" cy="531.24" r="3.2"/>
<circle cx="236.22" cy="531.24" r="3.2"/>
<circle cx="243.23" cy="531.24" r="3.2"/>
<circle cx="250.25" cy="531.24" r="3.2"/>
<circle cx="257.26" cy="531.24" r="3.2"/>
<circle cx="264.28" cy="531.24" r="3.2"/>
<circle cx="271.3" cy="531.24" r="3.2"/>
<circle cx="278.31" cy="531.24" r="3.2"/>
<circle cx="285.33" cy="531.24" r="3.2"/>
<circle cx="292.34" cy="531.24" r="3.2"/>
<circle cx="299.36" cy="531.24" r="3.2"/>
<circle cx="313.39" cy="531.24" r="3.2"/>
<circle cx="320.41" cy="531.24" r="3.2"/>
<circle cx="327.42" cy="531.24" r="3.2"/>
<circle cx="334.44" cy="531.24" r="3.2"/>
<circle cx="341.46" cy="531.24" r="3.2"/>
<circle cx="348.47" cy="531.24" r="3.2"/>
<circle cx="355.49" cy="531.24" r="3.2"/>
<circle cx="362.5" cy="531.24" r="3.2"/>
<circle cx="369.52" cy="531.24" r="3.2"/>
<circle cx="376.54" cy="531.24" r="3.2"/>
<circle cx="383.55" cy="531.24" r="3.2"/>
<circle cx="390.57" cy="531.24" r="3.2"/>
<circle cx="397.58" cy="531.24" r="3.2"/>
<circle cx="404.6" cy="531.24" r="3.2"/>
<circle cx="411.62" cy="531.24" r="3.2"/>
<circle cx="418.63" cy="531.24" r="3.2"/>
<circle cx="425.65" cy="531.24" r="3.2"/>
<circle cx="432.66" cy="531.24" r="3.2"/>
<circle cx="446.7" cy="531.24" r="3.2"/>
<circle cx="453.71" cy="531.24" r="3.2"/>
<circle cx="460.73" cy="531.24" r="3.2"/>
<circle cx="467.74" cy="531.24" r="3.2"/>
<circle cx="474.76" cy="531.24" r="3.2"/>
<circle cx="481.78" cy="531.24" r="3.2"/>
<circle cx="488.79" cy="531.24" r="3.2"/>
<circle cx="495.81" cy="531.24" r="3.2"/>
<circle cx="509.84" cy="531.24" r="3.2"/>
<circle cx="516.86" cy="531.24" r="3.2"/>
<circle cx="523.87" cy="531.24" r="3.2"/>
<circle cx="530.89" cy="531.24" r="3.2"/>
<circle cx="537.9" cy="531.24" r="3.2"/>
<circle cx="544.92" cy="531.24" r="3.2"/>
<circle cx="551.94" cy="531.24" r="3.2"/>
<circle cx="558.95" cy="531.24" r="3.2"/>
<circle cx="565.97" cy="531.24" r="3.2"/>
<circle cx="572.98" cy="531.24" r="3.2"/>
<circle cx="580" cy="531.24" r="3.2"/>
<circle cx="587.02" cy="531.24" r="3.2"/>
<circle cx="594.03" cy="531.24" r="3.2"/>
<circle cx="601.05" cy="531.24" r="3.2"/>
<circle cx="608.06" cy="531.24" r="3.2"/>
<circle cx="615.08" cy="531.24" r="3.2"/>
<circle cx="622.1" cy="531.24" r="3.2"/>
<circle cx="629.11" cy="531.24" r="3.2"/>
<circle cx="636.13" cy="531.24" r="3.2"/>
<circle cx="643.14" cy="531.24" r="3.2"/>
<circle cx="650.16" cy="531.24" r="3.2"/>
<circle cx="657.18" cy="531.24" r="3.2"/>
<circle cx="671.21" cy="531.24" r="3.2"/>
<circle cx="678.22" cy="531.24" r="3.2"/>
</g>
<g fill="#e8e9ea">
<circle cx="229.2" cy="540" r="3.2"/>
<circle cx="236.22" cy="540" r="3.2"/>
<circle cx="243.23" cy="540" r="3.2"/>
<circle cx="250.25" cy="540" r="3.2"/>
<circle cx="257.26" cy="540" r="3.2"/>
<circle cx="264.28" cy="540" r="3.2"/>
<circle cx="271.3" cy="540" r="3.2"/>
<circle cx="278.31" cy="540" r="3.2"/>
<circle cx="285.33" cy="540" r="3.2"/>
<circle cx="292.34" cy="540" r="3.2"/>
<circle cx="306.38" cy="540" r="3.2"/>
<circle cx="313.39" cy="540" r="3.2"/>
<circle cx="320.41" cy="540" r="3.2"/>
<circle cx="327.42" cy="540" r="3.2"/>
<circle cx="334.44" cy="540" r="3.2"/>
<circle cx="341.46" cy="540" r="3.2"/>
<circle cx="348.47" cy="540" r="3.2"/>
<circle cx="355.49" cy="540" r="3.2"/>
<circle cx="362.5" cy="540" r="3.2"/>
<circle cx="369.52" cy="540" r="3.2"/>
<circle cx="376.54" cy="540" r="3.2"/>
<circle cx="383.55" cy="540" r="3.2"/>
<circle cx="390.57" cy="540" r="3.2"/>
<circle cx="397.58" cy="540" r="3.2"/>
<circle cx="404.6" cy="540" r="3.2"/>
<circle cx="411.62" cy="540" r="3.2"/>
<circle cx="418.63" cy="540" r="3.2"/>
<circle cx="425.65" cy="540" r="3.2"/>
<circle cx="432.66" cy="540" r="3.2"/>
<circle cx="439.68" cy="540" r="3.2"/>
<circle cx="446.7" cy="540" r="3.2"/>
<circle cx="453.71" cy="540" r="3.2"/>
<circle cx="460.73" cy="540" r="3.2"/>
<circle cx="467.74" cy="540" r="3.2"/>
<circle cx="474.76" cy="540" r="3.2"/>
<circle cx="481.78" cy="540" r="3.2"/>
<circle cx="488.79" cy="540" r="3.2"/>
<circle cx="495.81" cy="540" r="3.2"/>
<circle cx="502.82" cy="540" r="3.2"/>
<circle cx="509.84" cy="540" r="3.2"/>
<circle cx="516.86" cy="540" r="3.2"/>
<circle cx="523.87" cy="540" r="3.2"/>
<circle cx="530.89" cy="540" r="3.2"/>
<circle cx="537.9" cy="540" r="3.2"/>
<circle cx="544.92" cy="540" r="3.2"/>
<circle cx="551.94" cy="540" r="3.2"/>
<circle cx="558.95" cy="540" r="3.2"/>
<circle cx="565.97" cy="540" r="3.2"/>
<circle cx="572.98" cy="540" r="3.2"/>
<circle cx="580" cy="540" r="3.2"/>
<circle cx="587.02" cy="540" r="3.2"/>
<circle cx="594.03" cy="540" r="3.2"/>
<circle cx="601.05" cy="540" r="3.2"/>
<circle cx="608.06" cy="540" r="3.2"/>
<circle cx="615.08" cy="540" r="3.2"/>
<circle cx="622.1" cy="540" r="3.2"/>
<circle cx="629.11" cy="540" r="3.2"/>
<circle cx="636.13" cy="540" r="3.2"/>
<circle cx="643.14" cy="540" r="3.2"/>
<circle cx="650.16" cy="540" r="3.2"/>
<circle cx="657.18" cy="540" r="3.2"/>
<circle cx="664.19" cy="540" r="3.2"/>
<circle cx="671.21" cy="540" r="3.2"/>
<circle cx="678.22" cy="540" r="3.2"/>
</g>
<g fill="#e6e6e7">
<circle cx="229.2" cy="548.76" r="3.2"/>
<circle cx="236.22" cy="548.76" r="3.2"/>
<circle cx="243.23" cy="548.76" r="3.2"/>
<circle cx="250.25" cy="548.76" r="3.2"/>
<circle cx="257.26" cy="548.76" r="3.2"/>
<circle cx="264.28" cy="548.76" r="3.2"/>
<circle cx="271.3" cy="548.76" r="3.2"/>
<circle cx="278.31" cy="548.76" r="3.2"/>
<circle cx="292.34" cy="548.76" r="3.2"/>
<circle cx="299.36" cy="548.76" r="3.2"/>
<circle cx="306.38" cy="548.76" r="3.2"/>
<circle cx="313.39" cy="548.76" r="3.2"/>
<circle cx="320.41" cy="548.76" r="3.2"/>
<circle cx="327.42" cy="548.76" r="3.2"/>
<circle cx="334.44" cy="548.76" r="3.2"/>
<circle cx="341.46" cy="548.76" r="3.2"/>
<circle cx="348.47" cy="548.76" r="3.2"/>
<circle cx="355.49" cy="548.76" r="3.2"/>
<circle cx="362.5" cy="548.76" r="3.2"/>
<circle cx="369.52" cy="548.76" r="3.2"/>
<circle cx="376.54" cy="548.76" r="3.2"/>
<circle cx="383.55" cy="548.76" r="3.2"/>
<circle cx="390.57" cy="548.76" r="3.2"/>
<circle cx="397.58" cy="548.76" r="3.2"/>
<circle cx="404.6" cy="548.76" r="3.2"/>
<circle cx="411.62" cy="548.76" r="3.2"/>
<circle cx="418.63" cy="548.76" r="3.2"/>
<circle cx="425.65" cy="548.76" r="3.2"/>
<circle cx="432.66" cy="548.76" r="3.2"/>
<circle cx="439.68" cy="548.76" r="3.2"/>
<circle cx="446.7" cy="548.76" r="3.2"/>
<circle cx="453.71" cy="548.76" r="3.2"/>
<circle cx="460.73" cy="548.76" r="3.2"/>
<circle cx="467.74" cy="548.76" r="3.2"/>
<circle cx="474.76" cy="548.76" r="3.2"/>
<circle cx="481.78" cy="548.76" r="3.2"/>
<circle cx="488.79" cy="548.76" r="3.2"/>
<circle cx="495.81" cy="548.76" r="3.2"/>
<circle cx="502.82" cy="548.76" r="3.2"/>
<circle cx="516.86" cy="548.76" r="3.2"/>
<circle cx="523.87" cy="548.76" r="3.2"/>
<circle cx="530.89" cy="548.76" r="3.2"/>
<circle cx="537.9" cy="548.76" r="3.2"/>
<circle cx="544.92" cy="548.76" r="3.2"/>
<circle cx="551.94" cy="548.76" r="3.2"/>
<circle cx="558.95" cy="548.76" r="3.2"/>
<circle cx="565.97" cy="548.76" r="3.2"/>
<circle cx="572.98" cy="548.76" r="3.2"/>
<circle cx="580" cy="548.76" r="3.2"/>
<circle cx="587.02" cy="548.76" r="3.2"/>
<circle cx="594.03" cy="548.76" r="3.2"/>
<circle cx="601.05" cy="548.76" r="3.2"/>
<circle cx="608.06" cy="548.76" r="3.2"/>
<circle cx="615.08" cy="548.76" r="3.2"/>
<circle cx="622.1" cy="548.76" r="3.2"/>
<circle cx="629.11" cy="548.76" r="3.2"/>
<circle cx="636.13" cy="548.76" r="3.2"/>
<circle cx="643.14" cy="548.76" r="3.2"/>
<circle cx="650.16" cy="548.76" r="3.2"/>
<circle cx="657.18" cy="548.76" r="3.2"/>
<circle cx="664.19" cy="548.76" r="3.2"/>
<circle cx="671.21" cy="548.76" r="3.2"/>
<circle cx="678.22" cy="548.76" r="3.2"/>
</g>
<g fill="#e8e9ea">
<circle cx="229.2" cy="557.52" r="3.2"/>
<circle cx="236.22" cy="557.52" r="3.2"/>
<circle cx="243.23" cy="557.52" r="3.2"/>
<circle cx="250.25" cy="557.52" r="3.2"/>
<circle cx="257.26" cy="557.52" r="3.2"/>
<circle cx="264.28" cy="557.52" r="3.2"/>
<circle cx="278.31" cy="557.52" r="3.2"/>
<circle cx="285.33" cy="557.52" r="3.2"/>
<circle cx="292.34" cy="557.52" r="3.2"/>
<circle cx="299.36" cy="557.52" r="3.2"/>
<circle cx="306.38" cy="557.52" r="3.2"/>
<circle cx="313.39" cy="557.52" r="3.2"/>
<circle cx="320.41" cy="557.52" r="3.2"/>
<circle cx="327.42" cy="557.52" r="3.2"/>
<circle cx="334.44" cy="557.52" r="3.2"/>
<circle cx="341.46" cy="557.52" r="3.2"/>
<circle cx="348.47" cy="557.52" r="3.2"/>
<circle cx="355.49" cy="557.52" r="3.2"/>
<circle cx="362.5" cy="557.52" r="3.2"/>
<circle cx="369.52" cy="557.52" r="3.2"/>
<circle cx="376.54" cy="557.52" r="3.2"/>
<circle cx="383.55" cy="557.52" r="3.2"/>
<circle cx="390.57" cy="557.52" r="3.2"/>
<circle cx="397.58" cy="557.52" r="3.2"/>
<circle cx="404.6" cy="557.52" r="3.2"/>
<circle cx="411.62" cy="557.52" r="3.2"/>
<circle cx="418.63" cy="557.52" r="3.2"/>
<circle cx="425.65" cy="557.52" r="3.2"/>
<circle cx="432.66" cy="557.52" r="3.2"/>
<circle cx="439.68" cy="557.52" r="3.2"/>
<circle cx="446.7" cy="557.52" r="3.2"/>
<circle cx="453.71" cy="557.52" r="3.2"/>
<circle cx="460.73" cy="557.52" r="3.2"/>
<circle cx="467.74" cy="557.52" r="3.2"/>
<circle cx="474.76" cy="557.52" r="3.2"/>
<circle cx="481.78" cy="557.52" r="3.2"/>
<circle cx="488.79" cy="557.52" r="3.2"/>
<circle cx="495.81" cy="557.52" r="3.2"/>
<circle cx="502.82" cy="557.52" r="3.2"/>
<circle cx="509.84" cy="557.52" r="3.2"/>
<circle cx="537.9" cy="557.52" r="3.2"/>
<circle cx="544.92" cy="557.52" r="3.2"/>
<circle cx="551.94" cy="557.52" r="3.2"/>
<circle cx="558.95" cy="557.52" r="3.2"/>
<circle cx="565.97" cy="557.52" r="3.2"/>
<circle cx="572.98" cy="557.52" r="3.2"/>
<circle cx="580" cy="557.52" r="3.2"/>
<circle cx="587.02" cy="557.52" r="3.2"/>
<circle cx="594.03" cy="557.52" r="3.2"/>
<circle cx="601.05" cy="557.52" r="3.2"/>
<circle cx="608.06" cy="557.52" r="3.2"/>
<circle cx="615.08" cy="557.52" r="3.2"/>
<circle cx="622.1" cy="557.52" r="3.2"/>
<circle cx="629.11" cy="557.52" r="3.2"/>
<circle cx="636.13" cy="557.52" r="3.2"/>
<circle cx="643.14" cy="557.52" r="3.2"/>
<circle cx="650.16" cy="557.52" r="3.2"/>
<circle cx="657.18" cy="557.52" r="3.2"/>
<circle cx="664.19" cy="557.52" r="3.2"/>
<circle cx="671.21" cy="557.52" r="3.2"/>
<circle cx="678.22" cy="557.52" r="3.2"/>
</g>
<g fill="#e6e6e7">
<circle cx="229.2" cy="566.28" r="3.2"/>
<circle cx="236.22" cy="566.28" r="3.2"/>
<circle cx="243.23" cy="566.28" r="3.2"/>
<circle cx="250.25" cy="566.28" r="3.2"/>
<circle cx="257.26" cy="566.28" r="3.2"/>
<circle cx="264.28" cy="566.28" r="3.2"/>
<circle cx="271.3" cy="566.28" r="3.2"/>
<circle cx="278.31" cy="566.28" r="3.2"/>
<circle cx="285.33" cy="566.28" r="3.2"/>
<circle cx="292.34" cy="566.28" r="3.2"/>
<circle cx="299.36" cy="566.28" r="3.2"/>
<circle cx="306.38" cy="566.28" r="3.2"/>
<circle cx="313.39" cy="566.28" r="3.2"/>
<circle cx="320.41" cy="566.28" r="3.2"/>
<circle cx="327.42" cy="566.28" r="3.2"/>
<circle cx="341.46" cy="566.28" r="3.2"/>
<circle cx="348.47" cy="566.28" r="3.2"/>
<circle cx="355.49" cy="566.28" r="3.2"/>
<circle cx="362.5" cy="566.28" r="3.2"/>
<circle cx="369.52" cy="566.28" r="3.2"/>
<circle cx="376.54" cy="566.28" r="3.2"/>
<circle cx="383.55" cy="566.28" r="3.2"/>
<circle cx="390.57" cy="566.28" r="3.2"/>
<circle cx="397.58" cy="566.28" r="3.2"/>
<circle cx="404.6" cy="566.28" r="3.2"/>
<circle cx="411.62" cy="566.28" r="3.2"/>
<circle cx="418.63" cy="566.28" r="3.2"/>
<circle cx="425.65" cy="566.28" r="3.2"/>
<circle cx="432.66" cy="566.28" r="3.2"/>
<circle cx="439.68" cy="566.28" r="3.2"/>
<circle cx="446.7" cy="566.28" r="3.2"/>
<circle cx="453.71" cy="566.28" r="3.2"/>
<circle cx="460.73" cy="566.28" r="3.2"/>
<circle cx="467.74" cy="566.28" r="3.2"/>
<circle cx="474.76" cy="566.28" r="3.2"/>
<circle cx="481.78" cy="566.28" r="3.2"/>
<circle cx="488.79" cy="566.28" r="3.2"/>
<circle cx="495.81" cy="566.28" r="3.2"/>
<circle cx="502.82" cy="566.28" r="3.2"/>
<circle cx="509.84" cy="566.28" r="3.2"/>
<circle cx="516.86" cy="566.28" r="3.2"/>
<circle cx="523.87" cy="566.28" r="3.2"/>
<circle cx="530.89" cy="566.28" r="3.2"/>
<circle cx="537.9" cy="566.28" r="3.2"/>
<circle cx="544.92" cy="566.28" r="3.2"/>
<circle cx="558.95" cy="566.28" r="3.2"/>
<circle cx="565.97" cy="566.28" r="3.2"/>
<circle cx="572.98" cy="566.28" r="3.2"/>
<circle cx="580" cy="566.28" r="3.2"/>
<circle cx="594.03" cy="566.28" r="3.2"/>
<circle cx="601.05" cy="566.28" r="3.2"/>
<circle cx="608.06" cy="566.28" r="3.2"/>
<circle cx="615.08" cy="566.28" r="3.2"/>
<circle cx="622.1" cy="566.28" r="3.2"/>
<circle cx="629.11" cy="566.28" r="3.2"/>
<circle cx="636.13" cy="566.28" r="3.2"/>
<circle cx="643.14" cy="566.28" r="3.2"/>
<circle cx="650.16" cy="566.28" r="3.2"/>
<circle cx="657.18" cy="566.28" r="3.2"/>
<circle cx="664.19" cy="566.28" r="3.2"/>
<circle cx="671.21" cy="566.28" r="3.2"/>
<circle cx="678.22" cy="566.28" r="3.2"/>
</g>
<g fill="#e8e9ea">
<circle cx="229.2" cy="575.04" r="3.2"/>
<circle cx="236.22" cy="575.04" r="3.2"/>
<circle cx="243.23" cy="575.04" r="3.2"/>
<circle cx="250.25" cy="575.04" r="3.2"/>
<circle cx="257.26" cy="575.04" r="3.2"/>
<circle cx="264.28" cy="575.04" r="3.2"/>
<circle cx="271.3" cy="575.04" r="3.2"/>
<circle cx="278.31" cy="575.04" r="3.2"/>
<circle cx="285.33" cy="575.04" r="3.2"/>
<circle cx="292.34" cy="575.04" r="3.2"/>
<circle cx="299.36" cy="575.04" r="3.2"/>
<circle cx="306.38" cy="575.04" r="3.2"/>
<circle cx="320.41" cy="575.04" r="3.2"/>
<circle cx="327.42" cy="575.04" r="3.2"/>
<circle cx="334.44" cy="575.04" r="3.2"/>
<circle cx="341.46" cy="575.04" r="3.2"/>
<circle cx="348.47" cy="575.04" r="3.2"/>
<circle cx="355.49" cy="575.04" r="3.2"/>
<circle cx="362.5" cy="575.04" r="3.2"/>
<circle cx="369.52" cy="575.04" r="3.2"/>
<circle cx="376.54" cy="575.04" r="3.2"/>
<circle cx="383.55" cy="575.04" r="3.2"/>
<circle cx="390.57" cy="575.04" r="3.2"/>
<circle cx="397.58" cy="575.04" r="3.2"/>
<circle cx="404.6" cy="575.04" r="3.2"/>
<circle cx="411.62" cy="575.04" r="3.2"/>
<circle cx="418.63" cy="575.04" r="3.2"/>
<circle cx="425.65" cy="575.04" r="3.2"/>
<circle cx="432.66" cy="575.04" r="3.2"/>
<circle cx="439.68" cy="575.04" r="3.2"/>
<circle cx="446.7" cy="575.04" r="3.2"/>
<circle cx="453.71" cy="575.04" r="3.2"/>
<circle cx="460.73" cy="575.04" r="3.2"/>
<circle cx="467.74" cy="575.04" r="3.2"/>
<circle cx="474.76" cy="575.04" r="3.2"/>
<circle cx="481.78" cy="575.04" r="3.2"/>
<circle cx="488.79" cy="575.04" r="3.2"/>
<circle cx="495.81" cy="575.04" r="3.2"/>
<circle cx="502.82" cy="575.04" r="3.2"/>
<circle cx="509.84" cy="575.04" r="3.2"/>
<circle cx="516.86" cy="575.04" r="3.2"/>
<circle cx="523.87" cy="575.04" r="3.2"/>
<circle cx="530.89" cy="575.04" r="3.2"/>
<circle cx="558.95" cy="575.04" r="3.2"/>
<circle cx="565.97" cy="575.04" r="3.2"/>
<circle cx="572.98" cy="575.04" r="3.2"/>
<circle cx="580" cy="575.04" r="3.2"/>
<circle cx="587.02" cy="575.04" r="3.2"/>
<circle cx="594.03" cy="575.04" r="3.2"/>
<circle cx="601.05" cy="575.04" r="3.2"/>
<circle cx="608.06" cy="575.04" r="3.2"/>
<circle cx="615.08" cy="575.04" r="3.2"/>
<circle cx="622.1" cy="575.04" r="3.2"/>
<circle cx="629.11" cy="575.04" r="3.2"/>
<circle cx="636.13" cy="575.04" r="3.2"/>
<circle cx="643.14" cy="575.04" r="3.2"/>
<circle cx="650.16" cy="575.04" r="3.2"/>
<circle cx="657.18" cy="575.04" r="3.2"/>
<circle cx="664.19" cy="575.04" r="3.2"/>
<circle cx="671.21" cy="575.04" r="3.2"/>
<circle cx="678.22" cy="575.04" r="3.2"/>
</g>
<g fill="#e6e6e7">
<circle cx="229.2" cy="583.8" r="3.2"/>
<circle cx="236.22" cy="583.8" r="3.2"/>
<circle cx="243.23" cy="583.8" r="3.2"/>
<circle cx="250.25" cy="583.8" r="3.2"/>
<circle cx="257.26" cy="583.8" r="3.2"/>
<circle cx="264.28" cy="583.8" r="3.2"/>
<circle cx="271.3" cy="583.8" r="3.2"/>
<circle cx="278.31" cy="583.8" r="3.2"/>
<circle cx="285.33" cy="583.8" r="3.2"/>
<circle cx="292.34" cy="583.8" r="3.2"/>
<circle cx="299.36" cy="583.8" r="3.2"/>
<circle cx="306.38" cy="583.8" r="3.2"/>
<circle cx="313.39" cy="583.8" r="3.2"/>
<circle cx="320.41" cy="583.8" r="3.2"/>
<circle cx="327.42" cy="583.8" r="3.2"/>
<circle cx="334.44" cy="583.8" r="3.2"/>
<circle cx="341.46" cy="583.8" r="3.2"/>
<circle cx="348.47" cy="583.8" r="3.2"/>
<circle cx="362.5" cy="583.8" r="3.2"/>
<circle cx="369.52" cy="583.8" r="3.2"/>
<circle cx="376.54" cy="583.8" r="3.2"/>
<circle cx="383.55" cy="583.8" r="3.2"/>
<circle cx="390.57" cy="583.8" r="3.2"/>
<circle cx="397.58" cy="583.8" r="3.2"/>
<circle cx="404.6" cy="583.8" r="3.2"/>
<circle cx="411.62" cy="583.8" r="3.2"/>
<circle cx="418.63" cy="583.8" r="3.2"/>
<circle cx="425.65" cy="583.8" r="3.2"/>
<circle cx="432.66" cy="583.8" r="3.2"/>
<circle cx="439.68" cy="583.8" r="3.2"/>
<circle cx="446.7" cy="583.8" r="3.2"/>
<circle cx="453.71" cy="583.8" r="3.2"/>
<circle cx="460.73" cy="583.8" r="3.2"/>
<circle cx="467.74" cy="583.8" r="3.2"/>
<circle cx="474.76" cy="583.8" r="3.2"/>
<circle cx="481.78" cy="583.8" r="3.2"/>
<circle cx="488.79" cy="583.8" r="3.2"/>
<circle cx="495.81" cy="583.8" r="3.2"/>
<circle cx="502.82" cy="583.8" r="3.2"/>
<circle cx="509.84" cy="583.8" r="3.2"/>
<circle cx="516.86" cy="583.8" r="3.2"/>
<circle cx="523.87" cy="583.8" r="3.2"/>
<circle cx="530.89" cy="583.8" r="3.2"/>
<circle cx="537.9" cy="583.8" r="3.2"/>
<circle cx="544.92" cy="583.8" r="3.2"/>
<circle cx="551.94" cy="583.8" r="3.2"/>
<circle cx="565.97" cy="583.8" r="3.2"/>
<circle cx="572.98" cy="583.8" r="3.2"/>
<circle cx="580" cy="583.8" r="3.2"/>
<circle cx="587.02" cy="583.8" r="3.2"/>
<circle cx="594.03" cy="583.8" r="3.2"/>
<circle cx="601.05" cy="583.8" r="3.2"/>
<circle cx="608.06" cy="583.8" r="3.2"/>
<circle cx="615.08" cy="583.8" r="3.2"/>
<circle cx="622.1" cy="583.8" r="3.2"/>
<circle cx="629.11" cy="583.8" r="3.2"/>
<circle cx="636.13" cy="583.8" r="3.2"/>
<circle cx="643.14" cy="583.8" r="3.2"/>
<circle cx="650.16" cy="583.8" r="3.2"/>
<circle cx="657.18" cy="583.8" r="3.2"/>
<circle cx="664.19" cy="583.8" r="3.2"/>
<circle cx="671.21" cy="583.8" r="3.2"/>
<circle cx="678.22" cy="583.8" r="3.2"/>
</g>
<g fill="#e8e9ea">
<circle cx="229.2" cy="592.56" r="3.2"/>
<circle cx="236.22" cy="592.56" r="3.2"/>
<circle cx="243.23" cy="592.56" r="3.2"/>
<circle cx="250.25" cy="592.56" r="3.2"/>
<circle cx="257.26" cy="592.56" r="3.2"/>
<circle cx="264.28" cy="592.56" r="3.2"/>
<circle cx="271.3" cy="592.56" r="3.2"/>
<circle cx="278.31" cy="592.56" r="3.2"/>
<circle cx="285.33" cy="592.56" r="3.2"/>
<circle cx="292.34" cy="592.56" r="3.2"/>
<circle cx="299.36" cy="592.56" r="3.2"/>
<circle cx="306.38" cy="592.56" r="3.2"/>
<circle cx="313.39" cy="592.56" r="3.2"/>
<circle cx="320.41" cy="592.56" r="3.2"/>
<circle cx="327.42" cy="592.56" r="3.2"/>
<circle cx="334.44" cy="592.56" r="3.2"/>
<circle cx="341.46" cy="592.56" r="3.2"/>
<circle cx="348.47" cy="592.56" r="3.2"/>
<circle cx="355.49" cy="592.56" r="3.2"/>
<circle cx="362.5" cy="592.56" r="3.2"/>
<circle cx="369.52" cy="592.56" r="3.2"/>
<circle cx="376.54" cy="592.56" r="3.2"/>
<circle cx="390.57" cy="592.56" r="3.2"/>
<circle cx="397.58" cy="592.56" r="3.2"/>
<circle cx="404.6" cy="592.56" r="3.2"/>
<circle cx="411.62" cy="592.56" r="3.2"/>
<circle cx="418.63" cy="592.56" r="3.2"/>
<circle cx="425.65" cy="592.56" r="3.2"/>
<circle cx="432.66" cy="592.56" r="3.2"/>
<circle cx="439.68" cy="592.56" r="3.2"/>
<circle cx="446.7" cy="592.56" r="3.2"/>
<circle cx="453.71" cy="592.56" r="3.2"/>
<circle cx="460.73" cy="592.56" r="3.2"/>
<circle cx="467.74" cy="592.56" r="3.2"/>
<circle cx="474.76" cy="592.56" r="3.2"/>
<circle cx="481.78" cy="592.56" r="3.2"/>
<circle cx="488.79" cy="592.56" r="3.2"/>
<circle cx="495.81" cy="592.56" r="3.2"/>
<circle cx="502.82" cy="592.56" r="3.2"/>
<circle cx="509.84" cy="592.56" r="3.2"/>
<circle cx="516.86" cy="592.56" r="3.2"/>
<circle cx="523.87" cy="592.56" r="3.2"/>
<circle cx="530.89" cy="592.56" r="3.2"/>
<circle cx="537.9" cy="592.56" r="3.2"/>
<circle cx="544.92" cy="592.56" r="3.2"/>
<circle cx="551.94" cy="592.56" r="3.2"/>
<circle cx="558.95" cy="592.56" r="3.2"/>
<circle cx="594.03" cy="592.56" r="3.2"/>
<circle cx="601.05" cy="592.56" r="3.2"/>
<circle cx="608.06" cy="592.56" r="3.2"/>
<circle cx="615.08" cy="592.56" r="3.2"/>
<circle cx="622.1" cy="592.56" r="3.2"/>
<circle cx="629.11" cy="592.56" r="3.2"/>
<circle cx="636.13" cy="592.56" r="3.2"/>
<circle cx="643.14" cy="592.56" r="3.2"/>
<circle cx="650.16" cy="592.56" r="3.2"/>
<circle cx="657.18" cy="592.56" r="3.2"/>
<circle cx="664.19" cy="592.56" r="3.2"/>
<circle cx="678.22" cy="592.56" r="3.2"/>
</g>
<g fill="#e6e6e7">
<circle cx="229.2" cy="601.32" r="3.2"/>
<circle cx="236.22" cy="601.32" r="3.2"/>
<circle cx="243.23" cy="601.32" r="3.2"/>
<circle cx="250.25" cy="601.32" r="3.2"/>
<circle cx="257.26" cy="601.32" r="3.2"/>
<circle cx="264.28" cy="601.32" r="3.2"/>
<circle cx="271.3" cy="601.32" r="3.2"/>
<circle cx="278.31" cy="601.32" r="3.2"/>
<circle cx="285.33" cy="601.32" r="3.2"/>
<circle cx="292.34" cy="601.32" r="3.2"/>
<circle cx="299.36" cy="601.32" r="3.2"/>
<circle cx="306.38" cy="601.32" r="3.2"/>
<circle cx="313.39" cy="601.32" r="3.2"/>
<circle cx="320.41" cy="601.32" r="3.2"/>
<circle cx="327.42" cy="601.32" r="3.2"/>
<circle cx="334.44" cy="601.32" r="3.2"/>
<circle cx="341.46" cy="601.32" r="3.2"/>
<circle cx="348.47" cy="601.32" r="3.2"/>
<circle cx="355.49" cy="601.32" r="3.2"/>
<circle cx="369.52" cy="601.32" r="3.2"/>
<circle cx="376.54" cy="601.32" r="3.2"/>
<circle cx="383.55" cy="601.32" r="3.2"/>
<circle cx="390.57" cy="601.32" r="3.2"/>
<circle cx="397.58" cy="601.32" r="3.2"/>
<circle cx="404.6" cy="601.32" r="3.2"/>
<circle cx="411.62" cy="601.32" r="3.2"/>
<circle cx="418.63" cy="601.32" r="3.2"/>
<circle cx="425.65" cy="601.32" r="3.2"/>
<circle cx="432.66" cy="601.32" r="3.2"/>
<circle cx="439.68" cy="601.32" r="3.2"/>
<circle cx="446.7" cy="601.32" r="3.2"/>
<circle cx="453.71" cy="601.32" r="3.2"/>
<circle cx="460.73" cy="601.32" r="3.2"/>
<circle cx="467.74" cy="601.32" r="3.2"/>
<circle cx="474.76" cy="601.32" r="3.2"/>
<circle cx="481.78" cy="601.32" r="3.2"/>
<circle cx="488.79" cy="601.32" r="3.2"/>
<circle cx="495.81" cy="601.32" r="3.2"/>
<circle cx="502.82" cy="601.32" r="3.2"/>
<circle cx="509.84" cy="601.32" r="3.2"/>
<circle cx="516.86" cy="601.32" r="3.2"/>
<circle cx="523.87" cy="601.32" r="3.2"/>
<circle cx="530.89" cy="601.32" r="3.2"/>
<circle cx="537.9" cy="601.32" r="3.2"/>
<circle cx="544.92" cy="601.32" r="3.2"/>
<circle cx="551.94" cy="601.32" r="3.2"/>
<circle cx="558.95" cy="601.32" r="3.2"/>
<circle cx="565.97" cy="601.32" r="3.2"/>
<circle cx="572.98" cy="601.32" r="3.2"/>
<circle cx="580" cy="601.32" r="3.2"/>
<circle cx="587.02" cy="601.32" r="3.2"/>
<circle cx="601.05" cy="601.32" r="3.2"/>
<circle cx="608.06" cy="601.32" r="3.2"/>
<circle cx="615.08" cy="601.32" r="3.2"/>
<circle cx="622.1" cy="601.32" r="3.2"/>
<circle cx="629.11" cy="601.32" r="3.2"/>
<circle cx="636.13" cy="601.32" r="3.2"/>
<circle cx="643.14" cy="601.32" r="3.2"/>
<circle cx="650.16" cy="601.32" r="3.2"/>
<circle cx="657.18" cy="601.32" r="3.2"/>
<circle cx="664.19" cy="601.32" r="3.2"/>
<circle cx="671.21" cy="601.32" r="3.2"/>
<circle cx="678.22" cy="601.32" r="3.2"/>
</g>
<g fill="#e8e9ea">
<circle cx="229.2" cy="610.08" r="3.2"/>
<circle cx="236.22" cy="610.08" r="3.2"/>
<circle cx="243.23" cy="610.08" r="3.2"/>
<circle cx="250.25" cy="610.08" r="3.2"/>
<circle cx="257.26" cy="610.08" r="3.2"/>
<circle cx="264.28" cy="610.08" r="3.2"/>
<circle cx="271.3" cy="610.08" r="3.2"/>
<circle cx="278.31" cy="610.08" r="3.2"/>
<circle cx="285.33" cy="610.08" r="3.2"/>
<circle cx="292.34" cy="610.08" r="3.2"/>
<circle cx="299.36" cy="610.08" r="3.2"/>
<circle cx="306.38" cy="610.08" r="3.2"/>
<circle cx="313.39" cy="610.08" r="3.2"/>
<circle cx="320.41" cy="610.08" r="3.2"/>
<circle cx="327.42" cy="610.08" r="3.2"/>
<circle cx="334.44" cy="610.08" r="3.2"/>
<circle cx="348.47" cy="610.08" r="3.2"/>
<circle cx="355.49" cy="610.08" r="3.2"/>
<circle cx="362.5" cy="610.08" r="3.2"/>
<circle cx="369.52" cy="610.08" r="3.2"/>
<circle cx="376.54" cy="610.08" r="3.2"/>
<circle cx="383.55" cy="610.08" r="3.2"/>
<circle cx="390.57" cy="610.08" r="3.2"/>
<circle cx="397.58" cy="610.08" r="3.2"/>
<circle cx="404.6" cy="610.08" r="3.2"/>
<circle cx="411.62" cy="610.08" r="3.2"/>
<circle cx="418.63" cy="610.08" r="3.2"/>
<circle cx="425.65" cy="610.08" r="3.2"/>
<circle cx="432.66" cy="610.08" r="3.2"/>
<circle cx="439.68" cy="610.08" r="3.2"/>
<circle cx="446.7" cy="610.08" r="3.2"/>
<circle cx="453.71" cy="610.08" r="3.2"/>
<circle cx="460.73" cy="610.08" r="3.2"/>
<circle cx="467.74" cy="610.08" r="3.2"/>
<circle cx="474.76" cy="610.08" r="3.2"/>
<circle cx="481.78" cy="610.08" r="3.2"/>
<circle cx="488.79" cy="610.08" r="3.2"/>
<circle cx="495.81" cy="610.08" r="3.2"/>
<circle cx="502.82" cy="610.08" r="3.2"/>
<circle cx="509.84" cy="610.08" r="3.2"/>
<circle cx="516.86" cy="610.08" r="3.2"/>
<circle cx="523.87" cy="610.08" r="3.2"/>
<circle cx="530.89" cy="610.08" r="3.2"/>
<circle cx="537.9" cy="610.08" r="3.2"/>
<circle cx="544.92" cy="610.08" r="3.2"/>
<circle cx="551.94" cy="610.08" r="3.2"/>
<circle cx="558.95" cy="610.08" r="3.2"/>
<circle cx="565.97" cy="610.08" r="3.2"/>
<circle cx="572.98" cy="610.08" r="3.2"/>
<circle cx="580" cy="610.08" r="3.2"/>
<circle cx="587.02" cy="610.08" r="3.2"/>
<circle cx="594.03" cy="610.08" r="3.2"/>
<circle cx="601.05" cy="610.08" r="3.2"/>
<circle cx="608.06" cy="610.08" r="3.2"/>
<circle cx="615.08" cy="610.08" r="3.2"/>
<circle cx="622.1" cy="610.08" r="3.2"/>
<circle cx="629.11" cy="610.08" r="3.2"/>
<circle cx="636.13" cy="610.08" r="3.2"/>
<circle cx="643.14" cy="610.08" r="3.2"/>
<circle cx="650.16" cy="610.08" r="3.2"/>
<circle cx="657.18" cy="610.08" r="3.2"/>
<circle cx="664.19" cy="610.08" r="3.2"/>
<circle cx="671.21" cy="610.08" r="3.2"/>
<circle cx="678.22" cy="610.08" r="3.2"/>
</g>
<g fill="#e6e6e7">
<circle cx="229.2" cy="618.84" r="3.2"/>
<circle cx="236.22" cy="618.84" r="3.2"/>
<circle cx="243.23" cy="618.84" r="3.2"/>
<circle cx="250.25" cy="618.84" r="3.2"/>
<circle cx="257.26" cy="618.84" r="3.2"/>
<circle cx="264.28" cy="618.84" r="3.2"/>
<circle cx="271.3" cy="618.84" r="3.2"/>
<circle cx="278.31" cy="618.84" r="3.2"/>
<circle cx="285.33" cy="618.84" r="3.2"/>
<circle cx="292.34" cy="618.84" r="3.2"/>
<circle cx="299.36" cy="618.84" r="3.2"/>
<circle cx="306.38" cy="618.84" r="3.2"/>
<circle cx="313.39" cy="618.84" r="3.2"/>
<circle cx="320.41" cy="618.84" r="3.2"/>
<circle cx="327.42" cy="618.84" r="3.2"/>
<circle cx="334.44" cy="618.84" r="3.2"/>
<circle cx="341.46" cy="618.84" r="3.2"/>
<circle cx="355.49" cy="618.84" r="3.2"/>
<circle cx="362.5" cy="618.84" r="3.2"/>
<circle cx="369.52" cy="618.84" r="3.2"/>
<circle cx="376.54" cy="618.84" r="3.2"/>
<circle cx="383.55" cy="618.84" r="3.2"/>
<circle cx="390.57" cy="618.84" r="3.2"/>
<circle cx="397.58" cy="618.84" r="3.2"/>
<circle cx="404.6" cy="618.84" r="3.2"/>
<circle cx="411.62" cy="618.84" r="3.2"/>
<circle cx="418.63" cy="618.84" r="3.2"/>
<circle cx="425.65" cy="618.84" r="3.2"/>
<circle cx="432.66" cy="618.84" r="3.2"/>
<circle cx="439.68" cy="618.84" r="3.2"/>
<circle cx="446.7" cy="618.84" r="3.2"/>
<circle cx="453.71" cy="618.84" r="3.2"/>
<circle cx="460.73" cy="618.84" r="3.2"/>
<circle cx="467.74" cy="618.84" r="3.2"/>
<circle cx="474.76" cy="618.84" r="3.2"/>
<circle cx="481.78" cy="618.84" r="3.2"/>
<circle cx="488.79" cy="618.84" r="3.2"/>
<circle cx="495.81" cy="618.84" r="3.2"/>
<circle cx="502.82" cy="618.84" r="3.2"/>
<circle cx="509.84" cy="618.84" r="3.2"/>
<circle cx="516.86" cy="618.84" r="3.2"/>
<circle cx="523.87" cy="618.84" r="3.2"/>
<circle cx="530.89" cy="618.84" r="3.2"/>
<circle cx="537.9" cy="618.84" r="3.2"/>
<circle cx="544.92" cy="618.84" r="3.2"/>
<circle cx="551.94" cy="618.84" r="3.2"/>
<circle cx="558.95" cy="618.84" r="3.2"/>
<circle cx="565.97" cy="618.84" r="3.2"/>
<circle cx="572.98" cy="618.84" r="3.2"/>
<circle cx="580" cy="618.84" r="3.2"/>
<circle cx="587.02" cy="618.84" r="3.2"/>
<circle cx="594.03" cy="618.84" r="3.2"/>
<circle cx="608.06" cy="618.84" r="3.2"/>
<circle cx="615.08" cy="618.84" r="3.2"/>
<circle cx="622.1" cy="618.84" r="3.2"/>
<circle cx="629.11" cy="618.84" r="3.2"/>
<circle cx="636.13" cy="618.84" r="3.2"/>
<circle cx="643.14" cy="618.84" r="3.2"/>
<circle cx="650.16" cy="618.84" r="3.2"/>
<circle cx="657.18" cy="618.84" r="3.2"/>
<circle cx="664.19" cy="618.84" r="3.2"/>
<circle cx="671.21" cy="618.84" r="3.2"/>
<circle cx="678.22" cy="618.84" r="3.2"/>
</g>
<g fill="#e8e9ea">
<circle cx="229.2" cy="627.6" r="3.2"/>
<circle cx="236.22" cy="627.6" r="3.2"/>
<circle cx="243.23" cy="627.6" r="3.2"/>
<circle cx="250.25" cy="627.6" r="3.2"/>
<circle cx="257.26" cy="627.6" r="3.2"/>
<circle cx="264.28" cy="627.6" r="3.2"/>
<circle cx="271.3" cy="627.6" r="3.2"/>
<circle cx="278.31" cy="627.6" r="3.2"/>
<circle cx="285.33" cy="627.6" r="3.2"/>
<circle cx="292.34" cy="627.6" r="3.2"/>
<circle cx="299.36" cy="627.6" r="3.2"/>
<circle cx="306.38" cy="627.6" r="3.2"/>
<circle cx="313.39" cy="627.6" r="3.2"/>
<circle cx="320.41" cy="627.6" r="3.2"/>
<circle cx="327.42" cy="627.6" r="3.2"/>
<circle cx="334.44" cy="627.6" r="3.2"/>
<circle cx="341.46" cy="627.6" r="3.2"/>
<circle cx="348.47" cy="627.6" r="3.2"/>
<circle cx="355.49" cy="627.6" r="3.2"/>
<circle cx="362.5" cy="627.6" r="3.2"/>
<circle cx="369.52" cy="627.6" r="3.2"/>
<circle cx="376.54" cy="627.6" r="3.2"/>
<circle cx="383.55" cy="627.6" r="3.2"/>
<circle cx="397.58" cy="627.6" r="3.2"/>
<circle cx="404.6" cy="627.6" r="3.2"/>
<circle cx="411.62" cy="627.6" r="3.2"/>
<circle cx="418.63" cy="627.6" r="3.2"/>
<circle cx="425.65" cy="627.6" r="3.2"/>
<circle cx="432.66" cy="627.6" r="3.2"/>
<circle cx="439.68" cy="627.6" r="3.2"/>
<circle cx="446.7" cy="627.6" r="3.2"/>
<circle cx="453.71" cy="627.6" r="3.2"/>
<circle cx="460.73" cy="627.6" r="3.2"/>
<circle cx="467.74" cy="627.6" r="3.2"/>
<circle cx="474.76" cy="627.6" r="3.2"/>
<circle cx="481.78" cy="627.6" r="3.2"/>
<circle cx="488.79" cy="627.6" r="3.2"/>
<circle cx="495.81" cy="627.6" r="3.2"/>
<circle cx="502.82" cy="627.6" r="3.2"/>
<circle cx="509.84" cy="627.6" r="3.2"/>
<circle cx="516.86" cy="627.6" r="3.2"/>
<circle cx="523.87" cy="627.6" r="3.2"/>
<circle cx="530.89" cy="627.6" r="3.2"/>
<circle cx="537.9" cy="627.6" r="3.2"/>
<circle cx="544.92" cy="627.6" r="3.2"/>
<circle cx="551.94" cy="627.6" r="3.2"/>
<circle cx="558.95" cy="627.6" r="3.2"/>
<circle cx="565.97" cy="627.6" r="3.2"/>
<circle cx="572.98" cy="627.6" r="3.2"/>
<circle cx="580" cy="627.6" r="3.2"/>
<circle cx="587.02" cy="627.6" r="3.2"/>
<circle cx="594.03" cy="627.6" r="3.2"/>
<circle cx="601.05" cy="627.6" r="3.2"/>
<circle cx="636.13" cy="627.6" r="3.2"/>
<circle cx="643.14" cy="627.6" r="3.2"/>
<circle cx="650.16" cy="627.6" r="3.2"/>
<circle cx="657.18" cy="627.6" r="3.2"/>
<circle cx="664.19" cy="627.6" r="3.2"/>
<circle cx="671.21" cy="627.6" r="3.2"/>
</g>
<g fill="#e6e6e7">
<circle cx="229.2" cy="636.36" r="3.2"/>
<circle cx="236.22" cy="636.36" r="3.2"/>
<circle cx="243.23" cy="636.36" r="3.2"/>
<circle cx="250.25" cy="636.36" r="3.2"/>
<circle cx="257.26" cy="636.36" r="3.2"/>
<circle cx="264.28" cy="636.36" r="3.2"/>
<circle cx="271.3" cy="636.36" r="3.2"/>
<circle cx="278.31" cy="636.36" r="3.2"/>
<circle cx="285.33" cy="636.36" r="3.2"/>
<circle cx="292.34" cy="636.36" r="3.2"/>
<circle cx="299.36" cy="636.36" r="3.2"/>
<circle cx="306.38" cy="636.36" r="3.2"/>
<circle cx="313.39" cy="636.36" r="3.2"/>
<circle cx="320.41" cy="636.36" r="3.2"/>
<circle cx="327.42" cy="636.36" r="3.2"/>
<circle cx="334.44" cy="636.36" r="3.2"/>
<circle cx="341.46" cy="636.36" r="3.2"/>
<circle cx="348.47" cy="636.36" r="3.2"/>
<circle cx="355.49" cy="636.36" r="3.2"/>
<circle cx="362.5" cy="636.36" r="3.2"/>
<circle cx="376.54" cy="636.36" r="3.2"/>
<circle cx="383.55" cy="636.36" r="3.2"/>
<circle cx="390.57" cy="636.36" r="3.2"/>
<circle cx="397.58" cy="636.36" r="3.2"/>
<circle cx="404.6" cy="636.36" r="3.2"/>
<circle cx="411.62" cy="636.36" r="3.2"/>
<circle cx="418.63" cy="636.36" r="3.2"/>
<circle cx="425.65" cy="636.36" r="3.2"/>
<circle cx="432.66" cy="636.36" r="3.2"/>
<circle cx="439.68" cy="636.36" r="3.2"/>
<circle cx="453.71" cy="636.36" r="3.2"/>
<circle cx="460.73" cy="636.36" r="3.2"/>
<circle cx="467.74" cy="636.36" r="3.2"/>
<circle cx="474.76" cy="636.36" r="3.2"/>
<circle cx="481.78" cy="636.36" r="3.2"/>
<circle cx="488.79" cy="636.36" r="3.2"/>
<circle cx="495.81" cy="636.36" r="3.2"/>
<circle cx="502.82" cy="636.36" r="3.2"/>
<circle cx="509.84" cy="636.36" r="3.2"/>
<circle cx="516.86" cy="636.36" r="3.2"/>
<circle cx="523.87" cy="636.36" r="3.2"/>
<circle cx="530.89" cy="636.36" r="3.2"/>
<circle cx="537.9" cy="636.36" r="3.2"/>
<circle cx="544.92" cy="636.36" r="3.2"/>
<circle cx="551.94" cy="636.36" r="3.2"/>
<circle cx="558.95" cy="636.36" r="3.2"/>
<circle cx="565.97" cy="636.36" r="3.2"/>
<circle cx="572.98" cy="636.36" r="3.2"/>
<circle cx="580" cy="636.36" r="3.2"/>
<circle cx="587.02" cy="636.36" r="3.2"/>
<circle cx="594.03" cy="636.36" r="3.2"/>
<circle cx="601.05" cy="636.36" r="3.2"/>
<circle cx="608.06" cy="636.36" r="3.2"/>
<circle cx="615.08" cy="636.36" r="3.2"/>
<circle cx="622.1" cy="636.36" r="3.2"/>
<circle cx="629.11" cy="636.36" r="3.2"/>
<circle cx="643.14" cy="636.36" r="3.2"/>
<circle cx="650.16" cy="636.36" r="3.2"/>
<circle cx="657.18" cy="636.36" r="3.2"/>
<circle cx="664.19" cy="636.36" r="3.2"/>
<circle cx="671.21" cy="636.36" r="3.2"/>
<circle cx="678.22" cy="636.36" r="3.2"/>
</g>
<g fill="#e8e9ea">
<circle cx="229.2" cy="645.12" r="3.2"/>
<circle cx="236.22" cy="645.12" r="3.2"/>
<circle cx="243.23" cy="645.12" r="3.2"/>
<circle cx="250.25" cy="645.12" r="3.2"/>
<circle cx="257.26" cy="645.12" r="3.2"/>
<circle cx="264.28" cy="645.12" r="3.2"/>
<circle cx="271.3" cy="645.12" r="3.2"/>
<circle cx="278.31" cy="645.12" r="3.2"/>
<circle cx="285.33" cy="645.12" r="3.2"/>
<circle cx="292.34" cy="645.12" r="3.2"/>
<circle cx="299.36" cy="645.12" r="3.2"/>
<circle cx="306.38" cy="645.12" r="3.2"/>
<circle cx="313.39" cy="645.12" r="3.2"/>
<circle cx="327.42" cy="645.12" r="3.2"/>
<circle cx="334.44" cy="645.12" r="3.2"/>
<circle cx="341.46" cy="645.12" r="3.2"/>
<circle cx="348.47" cy="645.12" r="3.2"/>
<circle cx="355.49" cy="645.12" r="3.2"/>
<circle cx="362.5" cy="645.12" r="3.2"/>
<circle cx="369.52" cy="645.12" r="3.2"/>
<circle cx="376.54" cy="645.12" r="3.2"/>
<circle cx="383.55" cy="645.12" r="3.2"/>
<circle cx="390.57" cy="645.12" r="3.2"/>
<circle cx="397.58" cy="645.12" r="3.2"/>
<circle cx="404.6" cy="645.12" r="3.2"/>
<circle cx="411.62" cy="645.12" r="3.2"/>
<circle cx="418.63" cy="645.12" r="3.2"/>
<circle cx="425.65" cy="645.12" r="3.2"/>
<circle cx="432.66" cy="645.12" r="3.2"/>
<circle cx="439.68" cy="645.12" r="3.2"/>
<circle cx="446.7" cy="645.12" r="3.2"/>
<circle cx="453.71" cy="645.12" r="3.2"/>
<circle cx="460.73" cy="645.12" r="3.2"/>
<circle cx="467.74" cy="645.12" r="3.2"/>
<circle cx="474.76" cy="645.12" r="3.2"/>
<circle cx="481.78" cy="645.12" r="3.2"/>
<circle cx="488.79" cy="645.12" r="3.2"/>
<circle cx="495.81" cy="645.12" r="3.2"/>
<circle cx="502.82" cy="645.12" r="3.2"/>
<circle cx="509.84" cy="645.12" r="3.2"/>
<circle cx="516.86" cy="645.12" r="3.2"/>
<circle cx="523.87" cy="645.12" r="3.2"/>
<circle cx="530.89" cy="645.12" r="3.2"/>
<circle cx="537.9" cy="645.12" r="3.2"/>
<circle cx="544.92" cy="645.12" r="3.2"/>
<circle cx="551.94" cy="645.12" r="3.2"/>
<circle cx="558.95" cy="645.12" r="3.2"/>
<circle cx="565.97" cy="645.12" r="3.2"/>
<circle cx="572.98" cy="645.12" r="3.2"/>
<circle cx="580" cy="645.12" r="3.2"/>
<circle cx="587.02" cy="645.12" r="3.2"/>
<circle cx="594.03" cy="645.12" r="3.2"/>
<circle cx="601.05" cy="645.12" r="3.2"/>
<circle cx="608.06" cy="645.12" r="3.2"/>
<circle cx="615.08" cy="645.12" r="3.2"/>
<circle cx="622.1" cy="645.12" r="3.2"/>
<circle cx="629.11" cy="645.12" r="3.2"/>
<circle cx="636.13" cy="645.12" r="3.2"/>
<circle cx="643.14" cy="645.12" r="3.2"/>
<circle cx="650.16" cy="645.12" r="3.2"/>
<circle cx="657.18" cy="645.12" r="3.2"/>
<circle cx="664.19" cy="645.12" r="3.2"/>
<circle cx="671.21" cy="645.12" r="3.2"/>
<circle cx="678.22" cy="645.12" r="3.2"/>
</g>
<g fill="#e6e6e7">
<circle cx="229.2" cy="653.88" r="3.2"/>
<circle cx="236.22" cy="653.88" r="3.2"/>
<circle cx="243.23" cy="653.88" r="3.2"/>
<circle cx="250.25" cy="653.88" r="3.2"/>
<circle cx="257.26" cy="653.88" r="3.2"/>
<circle cx="264.28" cy="653.88" r="3.2"/>
<circle cx="271.3" cy="653.88" r="3.2"/>
<circle cx="278.31" cy="653.88" r="3.2"/>
<circle cx="285.33" cy="653.88" r="3.2"/>
<circle cx="292.34" cy="653.88" r="3.2"/>
<circle cx="299.36" cy="653.88" r="3.2"/>
<circle cx="306.38" cy="653.88" r="3.2"/>
<circle cx="313.39" cy="653.88" r="3.2"/>
<circle cx="320.41" cy="653.88" r="3.2"/>
<circle cx="327.42" cy="653.88" r="3.2"/>
<circle cx="334.44" cy="653.88" r="3.2"/>
<circle cx="341.46" cy="653.88" r="3.2"/>
<circle cx="348.47" cy="653.88" r="3.2"/>
<circle cx="355.49" cy="653.88" r="3.2"/>
<circle cx="362.5" cy="653.88" r="3.2"/>
<circle cx="369.52" cy="653.88" r="3.2"/>
<circle cx="383.55" cy="653.88" r="3.2"/>
<circle cx="390.57" cy="653.88" r="3.2"/>
<circle cx="397.58" cy="653.88" r="3.2"/>
<circle cx="404.6" cy="653.88" r="3.2"/>
<circle cx="411.62" cy="653.88" r="3.2"/>
<circle cx="418.63" cy="653.88" r="3.2"/>
<circle cx="425.65" cy="653.88" r="3.2"/>
<circle cx="432.66" cy="653.88" r="3.2"/>
<circle cx="439.68" cy="653.88" r="3.2"/>
<circle cx="446.7" cy="653.88" r="3.2"/>
<circle cx="453.71" cy="653.88" r="3.2"/>
<circle cx="460.73" cy="653.88" r="3.2"/>
<circle cx="467.74" cy="653.88" r="3.2"/>
<circle cx="474.76" cy="653.88" r="3.2"/>
<circle cx="481.78" cy="653.88" r="3.2"/>
<circle cx="488.79" cy="653.88" r="3.2"/>
<circle cx="495.81" cy="653.88" r="3.2"/>
<circle cx="502.82" cy="653.88" r="3.2"/>
<circle cx="509.84" cy="653.88" r="3.2"/>
<circle cx="516.86" cy="653.88" r="3.2"/>
<circle cx="523.87" cy="653.88" r="3.2"/>
<circle cx="530.89" cy="653.88" r="3.2"/>
<circle cx="537.9" cy="653.88" r="3.2"/>
<circle cx="544.92" cy="653.88" r="3.2"/>
<circle cx="551.94" cy="653.88" r="3.2"/>
<circle cx="558.95" cy="653.88" r="3.2"/>
<circle cx="565.97" cy="653.88" r="3.2"/>
<circle cx="572.98" cy="653.88" r="3.2"/>
<circle cx="580" cy="653.88" r="3.2"/>
<circle cx="587.02" cy="653.88" r="3.2"/>
<circle cx="594.03" cy="653.88" r="3.2"/>
<circle cx="601.05" cy="653.88" r="3.2"/>
<circle cx="608.06" cy="653.88" r="3.2"/>
<circle cx="615.08" cy="653.88" r="3.2"/>
<circle cx="622.1" cy="653.88" r="3.2"/>
<circle cx="629.11" cy="653.88" r="3.2"/>
<circle cx="636.13" cy="653.88" r="3.2"/>
<circle cx="657.18" cy="653.88" r="3.2"/>
<circle cx="664.19" cy="653.88" r="3.2"/>
<circle cx="671.21" cy="653.88" r="3.2"/>
<circle cx="678.22" cy="653.88" r="3.2"/>
</g>
<g stroke="#5b5c5e" stroke-width="1.5">
<line x1="397.58" y1="452.4" x2="397.58" y2="461.16"/>
<line x1="404.6" y1="461.16" x2="404.6" y2="469.92"/>
<line x1="411.62" y1="452.4" x2="411.62" y2="487.44"/>
<line x1="418.63" y1="452.4" x2="418.63" y2="504.96"/>
<line x1="425.65" y1="452.4" x2="425.65" y2="513.72"/>
<line x1="432.66" y1="496.2" x2="432.66" y2="522.48"/>
<line x1="439.68" y1="461.16" x2="439.68" y2="531.24"/>
<line x1="446.7" y1="452.4" x2="446.7" y2="636.36"/>
<line x1="453.71" y1="452.4" x2="453.71" y2="469.92"/>
<line x1="460.73" y1="461.16" x2="460.73" y2="478.68"/>
<line x1="467.74" y1="469.92" x2="467.74" y2="478.68"/>
<line x1="474.76" y1="461.16" x2="474.76" y2="496.2"/>
<line x1="481.78" y1="469.92" x2="481.78" y2="496.2"/>
<line x1="488.79" y1="496.2" x2="488.79" y2="513.72"/>
<line x1="495.81" y1="461.16" x2="495.81" y2="522.48"/>
<line x1="502.82" y1="487.44" x2="502.82" y2="531.24"/>
<line x1="509.84" y1="452.4" x2="509.84" y2="548.76"/>
<line x1="516.86" y1="461.16" x2="516.86" y2="557.52"/>
<line x1="523.87" y1="469.92" x2="523.87" y2="557.52"/>
<line x1="530.89" y1="496.2" x2="530.89" y2="557.52"/>
<line x1="537.9" y1="452.4" x2="537.9" y2="575.04"/>
<line x1="544.92" y1="461.16" x2="544.92" y2="575.04"/>
<line x1="551.94" y1="566.28" x2="551.94" y2="575.04"/>
<line x1="558.95" y1="452.4" x2="558.95" y2="583.8"/>
<line x1="565.97" y1="452.4" x2="565.97" y2="592.56"/>
<line x1="572.98" y1="469.92" x2="572.98" y2="592.56"/>
<line x1="580" y1="496.2" x2="580" y2="592.56"/>
<line x1="587.02" y1="566.28" x2="587.02" y2="592.56"/>
<line x1="594.03" y1="461.16" x2="594.03" y2="601.32"/>
<line x1="601.05" y1="522.48" x2="601.05" y2="618.84"/>
<line x1="608.06" y1="452.4" x2="608.06" y2="627.6"/>
<line x1="615.08" y1="478.68" x2="615.08" y2="627.6"/>
<line x1="622.1" y1="487.44" x2="622.1" y2="627.6"/>
<line x1="629.11" y1="513.72" x2="629.11" y2="627.6"/>
<line x1="636.13" y1="478.68" x2="636.13" y2="636.36"/>
<line x1="643.14" y1="461.16" x2="643.14" y2="653.88"/>
<line x1="650.16" y1="469.92" x2="650.16" y2="653.88"/>
<line x1="657.18" y1="452.4" x2="657.18" y2="522.48"/>
<line x1="664.19" y1="496.2" x2="664.19" y2="531.24"/>
<line x1="671.21" y1="496.2" x2="671.21" y2="592.56"/>
<line x1="678.22" y1="487.44" x2="678.22" y2="627.6"/>
</g>
<g fill="#5b5c5e">
<circle cx="229.2" cy="452.4" r="3.25"/>
<circle cx="236.22" cy="469.92" r="3.25"/>
<circle cx="243.23" cy="461.16" r="3.25"/>
<circle cx="250.25" cy="478.68" r="3.25"/>
<circle cx="257.26" cy="496.2" r="3.25"/>
<circle cx="264.28" cy="522.48" r="3.25"/>
<circle cx="271.3" cy="557.52" r="3.25"/>
<circle cx="278.31" cy="504.96" r="3.25"/>
<circle cx="285.33" cy="548.76" r="3.25"/>
<circle cx="292.34" cy="487.44" r="3.25"/>
<circle cx="299.36" cy="540" r="3.25"/>
<circle cx="306.38" cy="531.24" r="3.25"/>
<circle cx="313.39" cy="575.04" r="3.25"/>
<circle cx="320.41" cy="645.12" r="3.25"/>
<circle cx="327.42" cy="513.72" r="3.25"/>
<circle cx="334.44" cy="566.28" r="3.25"/>
<circle cx="341.46" cy="610.08" r="3.25"/>
<circle cx="348.47" cy="618.84" r="3.25"/>
<circle cx="355.49" cy="583.8" r="3.25"/>
<circle cx="362.5" cy="601.32" r="3.25"/>
<circle cx="369.52" cy="636.36" r="3.25"/>
<circle cx="376.54" cy="653.88" r="3.25"/>
<circle cx="383.55" cy="592.56" r="3.25"/>
<circle cx="390.57" cy="627.6" r="3.25"/>
<circle cx="397.58" cy="452.4" r="3.25"/>
<circle cx="397.58" cy="461.16" r="3.25"/>
<circle cx="404.6" cy="461.16" r="3.25"/>
<circle cx="404.6" cy="469.92" r="3.25"/>
<circle cx="411.62" cy="452.4" r="3.25"/>
<circle cx="411.62" cy="487.44" r="3.25"/>
<circle cx="418.63" cy="452.4" r="3.25"/>
<circle cx="418.63" cy="504.96" r="3.25"/>
<circle cx="425.65" cy="452.4" r="3.25"/>
<circle cx="425.65" cy="513.72" r="3.25"/>
<circle cx="432.66" cy="496.2" r="3.25"/>
<circle cx="432.66" cy="522.48" r="3.25"/>
<circle cx="439.68" cy="461.16" r="3.25"/>
<circle cx="439.68" cy="531.24" r="3.25"/>
<circle cx="446.7" cy="452.4" r="3.25"/>
<circle cx="446.7" cy="636.36" r="3.25"/>
<circle cx="453.71" cy="452.4" r="3.25"/>
<circle cx="453.71" cy="469.92" r="3.25"/>
<circle cx="460.73" cy="461.16" r="3.25"/>
<circle cx="460.73" cy="478.68" r="3.25"/>
<circle cx="467.74" cy="469.92" r="3.25"/>
<circle cx="467.74" cy="478.68" r="3.25"/>
<circle cx="474.76" cy="461.16" r="3.25"/>
<circle cx="474.76" cy="496.2" r="3.25"/>
<circle cx="481.78" cy="469.92" r="3.25"/>
<circle cx="481.78" cy="496.2" r="3.25"/>
<circle cx="488.79" cy="496.2" r="3.25"/>
<circle cx="488.79" cy="513.72" r="3.25"/>
<circle cx="495.81" cy="461.16" r="3.25"/>
<circle cx="495.81" cy="522.48" r="3.25"/>
<circle cx="502.82" cy="487.44" r="3.25"/>
<circle cx="502.82" cy="531.24" r="3.25"/>
<circle cx="509.84" cy="452.4" r="3.25"/>
<circle cx="509.84" cy="548.76" r="3.25"/>
<circle cx="516.86" cy="461.16" r="3.25"/>
<circle cx="516.86" cy="557.52" r="3.25"/>
<circle cx="523.87" cy="469.92" r="3.25"/>
<circle cx="523.87" cy="557.52" r="3.25"/>
<circle cx="530.89" cy="496.2" r="3.25"/>
<circle cx="530.89" cy="557.52" r="3.25"/>
<circle cx="537.9" cy="452.4" r="3.25"/>
<circle cx="537.9" cy="575.04" r="3.25"/>
<circle cx="544.92" cy="461.16" r="3.25"/>
<circle cx="544.92" cy="575.04" r="3.25"/>
<circle cx="551.94" cy="566.28" r="3.25"/>
<circle cx="551.94" cy="575.04" r="3.25"/>
<circle cx="558.95" cy="452.4" r="3.25"/>
<circle cx="558.95" cy="583.8" r="3.25"/>
<circle cx="565.97" cy="452.4" r="3.25"/>
<circle cx="565.97" cy="592.56" r="3.25"/>
<circle cx="572.98" cy="469.92" r="3.25"/>
<circle cx="572.98" cy="592.56" r="3.25"/>
<circle cx="580" cy="496.2" r="3.25"/>
<circle cx="580" cy="592.56" r="3.25"/>
<circle cx="587.02" cy="566.28" r="3.25"/>
<circle cx="587.02" cy="592.56" r="3.25"/>
<circle cx="594.03" cy="461.16" r="3.25"/>
<circle cx="594.03" cy="601.32" r="3.25"/>
<circle cx="601.05" cy="522.48" r="3.25"/>
<circle cx="601.05" cy="618.84" r="3.25"/>
<circle cx="608.06" cy="452.4" r="3.25"/>
<circle cx="608.06" cy="627.6" r="3.25"/>
<circle cx="615.08" cy="478.68" r="3.25"/>
<circle cx="615.08" cy="627.6" r="3.25"/>
<circle cx="622.1" cy="487.44" r="3.25"/>
<circle cx="622.1" cy="627.6" r="3.25"/>
<circle cx="629.11" cy="513.72" r="3.25"/>
<circle cx="629.11" cy="627.6" r="3.25"/>
<circle cx="636.13" cy="478.68" r="3.25"/>
<circle cx="636.13" cy="636.36" r="3.25"/>
<circle cx="643.14" cy="461.16" r="3.25"/>
<circle cx="643.14" cy="653.88" r="3.25"/>
<circle cx="650.16" cy="469.92" r="3.25"/>
<circle cx="650.16" cy="653.88" r="3.25"/>
<circle cx="657.18" cy="452.4" r="3.25"/>
<circle cx="657.18" cy="504.96" r="3.25"/>
<circle cx="657.18" cy="522.48" r="3.25"/>
<circle cx="664.19" cy="496.2" r="3.25"/>
<circle cx="664.19" cy="504.96" r="3.25"/>
<circle cx="664.19" cy="531.24" r="3.25"/>
<circle cx="671.21" cy="496.2" r="3.25"/>
<circle cx="671.21" cy="504.96" r="3.25"/>
<circle cx="671.21" cy="592.56" r="3.25"/>
<circle cx="678.22" cy="487.44" r="3.25"/>
<circle cx="678.22" cy="522.48" r="3.25"/>
<circle cx="678.22" cy="627.6" r="3.25"/>
</g>
<g font-size="8.3" fill="#231f20" stroke="#231f20" stroke-width="0.2" text-anchor="middle">
<text x="186.8" y="455.3">K. pne</text>
<text x="186.8" y="464.06">K. gri</text>
<text x="186.8" y="472.82">K. mic</text>
<text x="188.9" y="481.58">E. col ST73</text>
<text x="188.9" y="490.34">E. col ST131</text>
<text x="188.9" y="499.1">E. col ST69</text>
<text x="188.9" y="507.86">E. col ST95</text>
<text x="189.7" y="516.62">E. col ST10−1</text>
<text x="186.8" y="525.38">K. oxy</text>
<text x="188.9" y="534.14">E. col ST14</text>
<text x="188.9" y="542.9">E. col ST141</text>
<text x="188.9" y="551.66">E. col ST127</text>
<text x="186.8" y="560.42">K. var</text>
<text x="188.9" y="569.18">E. col ST58</text>
<text x="188.9" y="577.94">E. col ST357</text>
<text x="188.9" y="586.7">E. col ST12</text>
<text x="188.9" y="595.46">E. col ST38</text>
<text x="188.9" y="604.22">E. col ST420</text>
<text x="188.9" y="612.98">E. col ST409</text>
<text x="186.8" y="621.74">K. aer</text>
<text x="188.9" y="630.5">E. col ST88</text>
<text x="188.9" y="639.26">E. col ST636</text>
<text x="188.9" y="648.02">E. col ST349</text>
<text x="188.9" y="656.78">E. col ST399</text>
</g>
<g fill="#5f6062" stroke="#535457" stroke-width="0.7">
<rect x="15.35" y="450.5" width="139.35" height="3.8"/>
<rect x="64.36" y="459.26" width="90.34" height="3.8"/>
<rect x="69.26" y="468.02" width="85.44" height="3.8"/>
<rect x="116.63" y="476.78" width="38.07" height="3.8"/>
<rect x="129.7" y="485.54" width="25" height="3.8"/>
<rect x="115" y="494.3" width="39.7" height="3.8"/>
<rect x="128.06" y="503.06" width="26.64" height="3.8"/>
<rect x="139.5" y="511.82" width="15.2" height="3.8"/>
<rect x="124.8" y="520.58" width="29.9" height="3.8"/>
<rect x="136.23" y="529.34" width="18.47" height="3.8"/>
<rect x="141.13" y="538.1" width="13.57" height="3.8"/>
<rect x="136.23" y="546.86" width="18.47" height="3.8"/>
<rect x="131.33" y="555.62" width="23.37" height="3.8"/>
<rect x="142.77" y="564.38" width="11.93" height="3.8"/>
<rect x="139.5" y="573.14" width="15.2" height="3.8"/>
<rect x="146.03" y="581.9" width="8.67" height="3.8"/>
<rect x="142.77" y="590.66" width="11.93" height="3.8"/>
<rect x="146.03" y="599.42" width="8.67" height="3.8"/>
<rect x="146.03" y="608.18" width="8.67" height="3.8"/>
<rect x="144.4" y="616.94" width="10.3" height="3.8"/>
<rect x="144.4" y="625.7" width="10.3" height="3.8"/>
<rect x="144.4" y="634.46" width="10.3" height="3.8"/>
<rect x="144.4" y="643.22" width="10.3" height="3.8"/>
<rect x="146.03" y="651.98" width="8.67" height="3.8"/>
</g>
<line x1="8.8" y1="657.96" x2="161.1" y2="657.96" stroke="#5b5c5e" stroke-width="1.2"/>
<g stroke="#5b5c5e" stroke-width="0.9">
<line x1="154.3" y1="657.96" x2="154.3" y2="661.16"/>
<line x1="121.62" y1="657.96" x2="121.62" y2="661.16"/>
<line x1="88.94" y1="657.96" x2="88.94" y2="661.16"/>
<line x1="56.26" y1="657.96" x2="56.26" y2="661.16"/>
<line x1="23.58" y1="657.96" x2="23.58" y2="661.16"/>
</g>
<g font-size="8.5" fill="#58595b" text-anchor="middle">
<text x="154.3" y="670.26">0</text>
<text x="121.62" y="670.26">20</text>
<text x="88.94" y="670.26">40</text>
<text x="56.26" y="670.26">60</text>
<text x="23.58" y="670.26">80</text>
</g>
<text x="85" y="682.26" font-size="9.7" fill="#231f20" stroke="#231f20" stroke-width="0.2" text-anchor="middle">Set Size</text>
<text transform="translate(159.5 408) rotate(-90)" font-size="9.7" fill="#231f20" stroke="#231f20" stroke-width="0.2" text-anchor="middle">Intersection Size</text>
<text transform="translate(-4 374) scale(1.18 1)" font-size="38.5" font-weight="bold" fill="#231f20">b</text>
<text transform="translate(25.0 371.8) scale(1.22 1)" font-size="35" font-weight="bold" fill="#231f20">)</text>
</g>
</svg></body></html>
